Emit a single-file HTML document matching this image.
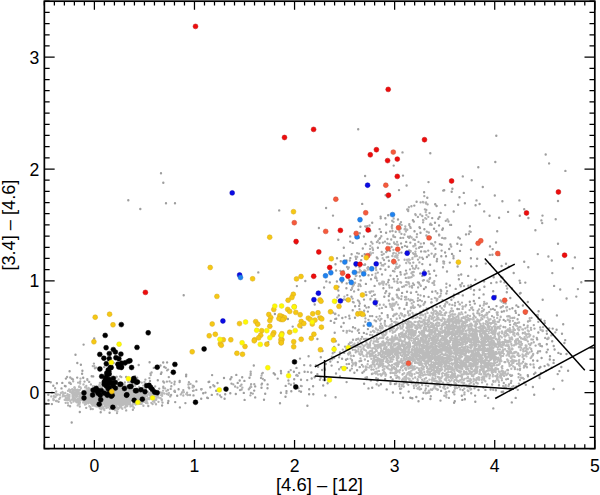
<!DOCTYPE html>
<html><head><meta charset="utf-8"><style>
html,body{margin:0;padding:0;background:#fff;width:600px;height:495px;overflow:hidden;font-family:"Liberation Sans",sans-serif}
svg{display:block}
</style></head><body>
<svg width="600" height="495" viewBox="0 0 600 495">
<rect width="600" height="495" fill="#fff"/>
<path d="M469.8 301.7h0M544.8 323.1h0M403.0 397.7h0M495.9 390.3h0M404.4 309.0h0M515.4 310.9h0M390.8 377.3h0M553.6 362.9h0M501.8 311.8h0M493.3 408.4h0M538.3 332.5h0M553.7 346.0h0M533.1 360.5h0M475.1 395.6h0M372.6 326.5h0M556.6 329.8h0M490.6 389.5h0M539.3 368.0h0M474.8 303.6h0M561.3 367.0h0M552.2 341.2h0M410.4 397.7h0M540.4 367.0h0M416.3 397.0h0M528.0 376.2h0M544.6 366.1h0M478.5 390.0h0M424.0 296.2h0M408.7 391.6h0M454.1 402.7h0M547.8 349.6h0M549.8 359.5h0M532.9 387.0h0M464.9 399.3h0M546.6 352.3h0M566.5 354.0h0M368.5 388.4h0M501.7 392.0h0M534.2 394.8h0M565.2 340.1h0M385.1 379.1h0M367.9 329.1h0M562.4 380.6h0M553.7 360.1h0M527.8 375.2h0M546.1 370.6h0M563.2 324.3h0M394.9 384.0h0M320.8 357.3h0M546.9 333.8h0M461.8 395.8h0M334.4 352.1h0M554.6 349.5h0M515.7 397.9h0M535.4 372.8h0M454.8 401.2h0M458.4 293.9h0M499.0 385.3h0M560.8 353.9h0M557.7 374.1h0M387.6 315.3h0M392.9 392.5h0M562.0 333.7h0M551.7 367.6h0M372.2 387.8h0M496.5 306.1h0M362.4 372.8h0M386.7 389.4h0M473.8 301.0h0M559.4 371.1h0M462.3 399.9h0M455.7 288.9h0M495.8 295.9h0M541.6 358.0h0M537.4 360.8h0M422.7 398.7h0M537.2 339.4h0M440.5 400.6h0M534.0 374.1h0M518.8 314.9h0M337.8 362.1h0M406.6 304.9h0M418.5 401.2h0M539.6 378.0h0M475.3 401.8h0M330.8 320.9h0M553.6 389.0h0M380.9 384.3h0M525.8 384.8h0M340.0 376.5h0M558.4 352.9h0M430.4 399.0h0M451.4 299.8h0M335.6 397.2h0M432.2 291.7h0M568.1 370.8h0M552.3 273.1h0M508.8 266.6h0M506.8 292.3h0M336.2 318.7h0M420.2 273.4h0M363.8 325.8h0M322.5 351.0h0M520.6 292.9h0M501.6 266.0h0M552.7 328.6h0M400.4 393.0h0M576.3 296.6h0M516.4 305.4h0M338.6 344.7h0M484.1 281.4h0M491.1 283.1h0M412.3 398.3h0M564.4 343.0h0M510.3 298.0h0M338.5 286.8h0M288.6 372.0h0M462.8 295.4h0M449.9 285.5h0M524.2 261.8h0M581.3 282.3h0M522.9 305.5h0M540.9 373.3h0M436.7 306.9h0M307.2 380.1h0M300.0 358.6h0M518.3 306.9h0M343.7 323.0h0M446.4 293.5h0M317.4 339.0h0M364.1 383.7h0M353.0 327.3h0M471.1 266.4h0M334.2 347.0h0M335.7 341.3h0M390.5 384.1h0M577.9 289.1h0M493.2 291.2h0M468.2 275.9h0M500.7 281.5h0M336.0 373.5h0M483.6 294.4h0M416.4 291.9h0M318.5 316.9h0M426.9 257.0h0M503.7 319.9h0M503.1 391.8h0M346.6 382.1h0M538.6 311.3h0M479.2 297.9h0M519.9 293.5h0M513.7 273.0h0M454.0 294.7h0M375.1 263.4h0M475.3 279.8h0M560.2 289.5h0M349.6 318.4h0M506.0 263.7h0M490.2 264.1h0M484.4 286.8h0M556.9 315.4h0M393.6 279.0h0M550.0 356.2h0M346.9 367.9h0M354.4 372.7h0M357.1 370.3h0M342.1 358.8h0M370.8 380.4h0M350.1 370.4h0M340.0 352.4h0M346.0 359.8h0M365.1 264.5h0M368.7 307.2h0M421.1 251.4h0M400.6 237.9h0M446.0 256.2h0M461.3 244.8h0M406.2 241.9h0M383.4 288.3h0M390.5 275.6h0M377.9 247.8h0M451.1 224.9h0M350.2 241.6h0M441.7 244.7h0M435.2 204.2h0M376.1 235.7h0M367.9 311.6h0M268.2 342.2h0M357.2 237.3h0M439.8 244.1h0M380.9 231.9h0M343.8 247.8h0M346.7 283.4h0M388.7 266.7h0M407.0 291.7h0M334.3 322.8h0M398.0 219.5h0M420.0 228.1h0M355.0 317.8h0M449.8 262.6h0M419.5 227.2h0M334.7 332.7h0M435.0 222.8h0M340.8 261.2h0M362.8 248.5h0M348.8 274.9h0M338.8 295.5h0M424.2 270.4h0M428.6 271.4h0M471.0 249.6h0M430.1 264.8h0M386.2 224.5h0M336.1 270.5h0M423.9 243.3h0M335.3 318.9h0M436.3 231.2h0M364.9 305.8h0M436.1 275.6h0M402.1 292.9h0M445.1 252.5h0M346.6 260.4h0M410.3 242.6h0M385.4 269.8h0M436.6 206.0h0M343.9 255.8h0M429.6 273.9h0M453.7 211.5h0M388.2 215.2h0M412.9 220.2h0M430.8 237.4h0M434.1 228.8h0M388.7 279.9h0M438.3 218.8h0M450.4 244.5h0M428.6 296.9h0M335.6 340.9h0M442.9 228.4h0M360.4 226.7h0M335.3 302.4h0M388.8 296.0h0M337.0 258.3h0M459.5 197.2h0M338.3 290.5h0M358.4 289.7h0M416.6 201.7h0M364.7 254.2h0M439.1 225.4h0M463.8 192.9h0M443.2 190.6h0M489.6 215.8h0M359.8 233.2h0M386.1 232.8h0M411.0 292.7h0M355.1 306.3h0M440.6 212.9h0M449.2 249.0h0M335.5 264.3h0M360.7 280.4h0M424.0 289.0h0M351.6 254.2h0M366.3 295.0h0M371.0 279.3h0M374.6 285.9h0M436.8 261.3h0M400.4 272.2h0M329.8 282.4h0M469.9 226.3h0M452.4 188.7h0M445.2 205.1h0M458.3 237.4h0M347.3 295.1h0M342.3 318.0h0M475.6 205.3h0M351.5 296.7h0M413.8 221.5h0M375.4 236.5h0M377.6 258.4h0M439.1 234.8h0M393.7 165.6h0M372.2 316.1h0M363.9 332.9h0M365.9 283.9h0M362.2 255.9h0M324.1 287.5h0M379.6 229.1h0M346.4 288.2h0M389.5 293.7h0M422.3 275.9h0M380.5 269.0h0M352.7 310.2h0M368.5 275.3h0M406.6 185.5h0M341.9 282.3h0M385.3 218.2h0M414.3 205.6h0M432.2 218.1h0M442.3 229.8h0M372.2 222.7h0M401.1 243.4h0M363.9 236.5h0M399.0 190.1h0M385.6 195.3h0M424.4 229.2h0M380.7 218.3h0M365.5 244.0h0M414.5 231.3h0M364.0 299.6h0M434.2 270.7h0M341.2 326.8h0M452.0 253.9h0M352.7 242.9h0M366.3 258.4h0M425.8 287.2h0M439.5 216.9h0M296.9 286.1h0M401.4 252.6h0M350.2 236.4h0M361.2 260.1h0M435.4 248.8h0M370.3 231.0h0M380.6 216.6h0M458.1 204.7h0M359.9 276.3h0M444.2 190.3h0M336.9 281.5h0M424.1 192.3h0M362.2 203.9h0M402.1 247.3h0M427.3 197.8h0M406.0 270.6h0M350.3 258.1h0M407.1 246.8h0M384.3 296.7h0M464.9 203.2h0M386.2 291.3h0M420.5 232.7h0M548.4 256.5h0M477.2 258.7h0M512.4 308.2h0M493.7 277.2h0M485.8 263.6h0M519.4 200.4h0M441.6 250.6h0M441.3 256.3h0M488.9 306.9h0M317.4 374.3h0M458.9 279.2h0M528.3 267.2h0M376.8 257.4h0M499.3 255.1h0M501.2 277.0h0M524.2 209.2h0M508.1 211.9h0M338.3 239.8h0M537.8 254.1h0M545.7 154.5h0M495.3 162.0h0M397.0 276.1h0M459.9 238.6h0M318.9 228.0h0M451.7 191.8h0M519.6 280.6h0M525.3 282.6h0M331.6 365.6h0M492.4 254.8h0M479.6 204.0h0M430.3 153.3h0M442.6 300.1h0M546.8 344.3h0M470.9 258.3h0M462.8 176.4h0M542.2 223.1h0M387.7 197.2h0M512.0 288.5h0M565.4 170.9h0M572.8 268.2h0M558.0 201.0h0M549.1 163.4h0M279.2 210.4h0M403.0 175.6h0M325.3 395.5h0M482.8 187.0h0M554.1 285.9h0M330.3 361.5h0M428.5 182.1h0M474.1 290.3h0M499.1 217.7h0M527.8 302.0h0M365.1 176.0h0M541.4 220.4h0M287.9 319.0h0M496.5 282.4h0M349.2 279.9h0M381.8 313.1h0M511.8 402.4h0M382.0 274.4h0M551.8 260.5h0M274.9 314.0h0M478.3 167.3h0M258.0 324.8h0M471.7 180.2h0M402.5 152.4h0M535.4 230.2h0M502.5 277.7h0M566.6 298.5h0M528.4 218.0h0M457.4 309.0h0M305.3 281.0h0M574.9 257.4h0M326.3 281.4h0M447.0 271.5h0M542.5 215.6h0M296.4 243.5h0M461.2 274.5h0M422.3 264.1h0M497.2 231.2h0M388.9 260.7h0M460.0 250.9h0M520.2 282.9h0M490.0 246.4h0M519.8 215.7h0M558.0 243.7h0M326.1 208.0h0M496.3 135.7h0M356.0 263.4h0M555.7 219.2h0M476.6 266.0h0M309.1 394.2h0M476.5 200.4h0M333.0 215.6h0M258.3 272.4h0M502.4 201.3h0M314.7 304.5h0M494.8 195.5h0M309.2 389.2h0M453.5 258.3h0M496.0 242.5h0M466.0 234.4h0M292.7 326.6h0M484.2 211.4h0M301.4 327.5h0M473.8 294.6h0M492.7 249.1h0M457.6 266.5h0M479.6 289.8h0M358.2 129.3h0M489.8 254.9h0M358.8 237.7h0M457.3 243.7h0M542.7 299.8h0M161.0 173.3h0M163.3 182.7h0M128.3 200.3h0M140.3 209.0h0M166.0 203.3h0M175.0 203.3h0M183.7 295.3h0M71.7 422.5h0M75.5 354.8h0M83.6 344.6h0M94.2 338.5h0M159.2 388.6h0M100.7 412.3h0M168.0 403.0h0M61.5 388.4h0M168.4 401.0h0M179.9 407.4h0M48.5 400.2h0M162.1 405.5h0M79.8 412.0h0M48.3 394.7h0M185.4 403.1h0M45.9 403.7h0M109.6 412.8h0M53.3 385.7h0M208.0 398.1h0M157.8 380.2h0M64.9 385.9h0M201.2 398.7h0M50.7 382.3h0M186.1 376.2h0M56.9 383.2h0M62.3 382.9h0M110.5 373.3h0M210.3 387.2h0M65.9 378.6h0M69.6 371.2h0M65.6 386.3h0M93.2 376.4h0M139.5 382.0h0M91.7 376.3h0M51.9 404.1h0M175.2 402.1h0M167.1 362.4h0M77.2 377.6h0M161.5 372.5h0M104.3 367.1h0M150.0 381.0h0M82.4 370.8h0M82.1 373.7h0M122.5 364.0h0M168.8 377.1h0M83.2 377.7h0M163.2 362.5h0M164.3 367.0h0M77.3 363.0h0M138.7 365.0h0M106.5 372.5h0M80.9 364.7h0M113.6 363.0h0M153.8 367.9h0M149.6 362.2h0M160.9 373.9h0M125.0 365.1h0M160.5 365.5h0M126.2 376.9h0M308.6 356.3h0M262.0 383.6h0M291.3 391.2h0M236.3 374.9h0M230.4 379.3h0M244.4 380.9h0M288.4 380.5h0M237.7 382.9h0M255.2 386.4h0M280.0 403.3h0M315.9 365.4h0M264.0 399.7h0M318.1 366.7h0M244.6 399.9h0M304.6 371.7h0M230.3 393.3h0M314.6 377.3h0M323.2 385.5h0M310.4 365.5h0M225.2 394.2h0M267.5 388.2h0M224.0 378.0h0M304.2 365.1h0M296.5 367.9h0M311.7 378.5h0M301.0 391.7h0M313.1 386.2h0M277.7 378.6h0M280.9 371.0h0M307.4 405.7h0M327.6 383.2h0M209.2 381.8h0M196.4 381.4h0M208.6 382.0h0M253.8 365.5h0M275.0 374.5h0M280.9 392.7h0M325.8 364.0h0M285.5 396.7h0M281.1 373.3h0M226.6 390.3h0M177.2 395.7h0M203.2 393.2h0M313.3 394.3h0M239.7 380.5h0M285.7 385.9h0M212.1 375.1h0M255.2 397.4h0M301.0 379.7h0M243.8 392.9h0M193.5 395.4h0M224.6 398.7h0M217.5 383.0h0M211.8 394.9h0M214.4 386.3h0M207.2 397.7h0M231.5 383.6h0M261.5 387.8h0M254.2 390.6h0M264.6 380.2h0M265.2 393.8h0M179.7 381.0h0M205.5 392.6h0M235.8 394.0h0M294.2 379.2h0M267.6 384.4h0M186.2 374.8h0M178.6 389.3h0M179.6 382.0h0M286.5 391.1h0M293.9 371.8h0M249.5 377.7h0M311.3 372.5h0M273.7 373.3h0M242.2 377.3h0M231.5 377.3h0M216.2 390.8h0" stroke="#9e9e9e" stroke-width="2.40" stroke-linecap="round" fill="none"/>
<path d="M553.0 334.4h0M430.8 396.2h0M454.4 394.3h0M483.6 387.6h0M536.8 337.9h0M423.5 392.7h0M505.4 321.1h0M368.0 361.1h0M455.1 302.8h0M549.2 328.3h0M533.7 367.3h0M384.9 321.0h0M503.5 327.0h0M513.5 386.1h0M504.6 387.4h0M487.1 384.3h0M431.2 302.5h0M483.2 387.2h0M510.1 324.8h0M540.3 345.7h0M432.4 307.9h0M528.0 321.5h0M540.2 327.4h0M464.4 394.4h0M437.4 293.2h0M538.1 351.3h0M431.7 302.3h0M374.6 320.3h0M449.5 304.4h0M501.5 307.1h0M539.5 375.9h0M465.5 312.4h0M387.8 317.2h0M484.9 395.9h0M511.0 375.9h0M485.5 395.7h0M542.0 346.2h0M548.6 365.2h0M523.9 325.0h0M346.4 349.1h0M555.3 332.3h0M376.1 321.2h0M537.5 353.0h0M493.0 308.9h0M376.6 384.2h0M505.6 303.4h0M503.8 382.9h0M334.2 358.0h0M425.1 302.0h0M441.1 390.9h0M530.4 364.3h0M420.0 300.1h0M399.4 308.2h0M400.1 388.7h0M517.8 389.8h0M424.3 303.4h0M359.1 332.9h0M512.1 375.4h0M525.8 312.4h0M506.2 379.3h0M544.6 320.8h0M390.8 319.1h0M524.3 382.4h0M538.3 321.8h0M493.2 389.7h0M454.9 305.5h0M534.0 367.4h0M367.0 377.2h0M392.6 379.5h0M440.7 289.8h0M510.2 388.4h0M530.5 364.6h0M509.0 384.3h0M545.2 337.9h0M533.8 325.1h0M492.2 384.5h0M511.3 380.9h0M485.4 389.9h0M432.0 306.9h0M547.7 364.3h0M518.9 383.6h0M542.6 331.1h0M339.5 355.0h0M352.0 331.6h0M462.8 390.1h0M428.2 386.1h0M440.1 306.2h0M474.5 388.2h0M488.2 397.9h0M507.4 369.9h0M507.9 378.9h0M364.9 315.4h0M531.7 351.2h0M408.3 384.8h0M468.3 285.7h0M361.9 364.8h0M339.1 369.2h0M490.8 309.3h0M344.2 352.9h0M349.2 315.7h0M504.5 282.4h0M517.6 319.2h0M504.0 311.2h0M346.7 364.1h0M453.0 392.3h0M534.5 328.6h0M527.2 311.1h0M436.8 300.6h0M444.3 238.4h0M359.5 361.2h0M531.5 317.8h0M401.2 299.1h0M525.5 313.9h0M448.9 397.9h0M390.4 382.6h0M551.3 335.4h0M535.6 345.6h0M546.7 330.8h0M507.2 288.5h0M459.0 309.1h0M540.1 351.2h0M447.3 302.5h0M446.4 283.7h0M539.8 343.8h0M428.4 308.7h0M471.2 393.2h0M343.3 330.8h0M324.6 377.1h0M359.6 367.1h0M453.6 297.2h0M392.0 287.6h0M480.0 305.7h0M364.1 310.7h0M500.5 300.4h0M540.9 319.5h0M417.8 300.7h0M494.8 309.9h0M500.7 307.5h0M548.3 338.6h0M358.7 329.6h0M506.4 285.8h0M359.9 367.1h0M464.0 286.1h0M365.3 321.7h0M536.5 315.1h0M376.2 378.1h0M420.4 305.9h0M446.3 287.3h0M471.2 286.5h0M470.9 284.9h0M355.2 328.2h0M348.8 344.2h0M345.0 346.6h0M366.7 333.9h0M353.7 355.9h0M352.0 360.2h0M340.9 367.3h0M347.4 358.9h0M353.5 355.8h0M366.6 379.0h0M365.5 377.6h0M361.2 360.7h0M339.1 357.3h0M351.8 368.6h0M349.0 363.9h0M363.9 371.4h0M346.6 348.6h0M378.8 385.6h0M371.9 374.0h0M377.5 381.1h0M425.6 251.6h0M431.6 224.8h0M424.4 251.4h0M393.5 299.6h0M435.5 254.1h0M458.6 275.2h0M390.0 250.8h0M424.3 196.1h0M393.0 214.9h0M428.2 250.6h0M429.5 213.1h0M351.5 280.6h0M341.4 367.2h0M394.4 271.4h0M380.0 238.1h0M430.0 224.6h0M379.4 238.9h0M409.3 225.1h0M359.8 303.5h0M370.4 299.4h0M416.3 265.7h0M420.6 202.3h0M445.8 220.8h0M353.0 339.7h0M432.1 244.0h0M419.0 247.7h0M396.7 294.7h0M419.4 262.4h0M434.4 255.5h0M401.4 233.8h0M417.9 282.4h0M371.3 291.3h0M415.3 214.2h0M420.5 295.3h0M384.0 260.0h0M387.5 239.0h0M372.6 269.7h0M342.6 272.6h0M387.3 250.6h0M347.0 267.0h0M352.9 301.8h0M357.8 330.5h0M388.1 282.2h0M351.0 289.9h0M362.0 336.8h0M431.6 253.6h0M393.0 270.9h0M439.2 235.4h0M359.1 301.4h0M418.0 294.6h0M420.3 246.8h0M392.1 225.2h0M333.2 312.6h0M335.9 300.4h0M428.8 232.5h0M410.1 236.3h0M348.0 268.7h0M445.4 238.2h0M426.8 231.6h0M352.6 298.6h0M375.9 267.7h0M374.1 294.9h0M399.9 223.9h0M395.7 231.7h0M335.0 314.1h0M453.5 256.0h0M426.4 235.5h0M368.5 319.8h0M372.5 243.6h0M410.2 226.8h0M390.1 231.4h0M446.3 301.8h0M387.3 243.4h0M349.8 260.5h0M370.5 298.8h0M415.7 215.0h0M418.1 287.4h0M401.0 222.1h0M386.6 257.3h0M358.9 253.6h0M355.9 276.1h0M447.5 219.3h0M447.1 291.1h0M427.6 204.3h0M356.1 258.9h0M413.0 283.3h0M388.8 300.5h0M418.9 282.7h0M359.4 267.2h0M368.1 267.2h0M374.9 294.6h0M431.0 243.6h0M376.4 278.2h0M346.0 299.7h0M413.4 239.4h0M392.2 220.7h0M422.2 257.6h0M406.6 273.4h0M423.1 222.3h0M399.5 307.8h0M375.1 277.8h0M435.6 291.2h0M424.9 209.3h0M443.0 267.2h0M450.0 224.8h0M365.4 318.3h0M404.9 245.9h0M404.5 234.5h0M392.5 231.0h0M410.0 269.3h0M423.0 280.6h0M338.7 315.3h0M442.2 237.9h0M413.3 262.6h0M435.2 242.2h0M364.2 264.9h0M359.5 309.2h0M410.9 292.8h0M377.8 272.6h0M417.9 216.9h0M360.7 286.1h0M369.5 225.5h0M401.1 282.6h0M385.2 293.1h0M348.8 267.4h0M469.6 231.4h0M355.8 271.7h0M385.0 241.6h0M393.5 221.8h0M376.5 316.8h0M394.4 281.4h0M376.9 242.1h0M417.0 234.2h0M365.2 226.3h0M414.8 239.9h0M430.1 277.9h0M381.7 251.9h0M408.0 236.7h0M420.3 214.4h0M398.5 288.7h0M393.3 235.5h0M342.9 299.9h0M418.2 304.8h0M380.7 262.9h0M340.4 270.8h0M337.3 297.4h0M374.3 301.9h0M379.5 243.0h0M416.7 237.1h0M423.9 280.1h0M357.3 312.1h0M399.3 226.4h0M355.8 266.3h0M376.6 305.8h0M335.4 313.7h0M386.1 306.9h0M422.3 216.0h0M409.1 250.4h0M366.4 227.1h0M410.6 227.9h0M402.2 286.8h0M386.2 252.0h0M338.9 300.5h0M367.2 226.2h0M388.2 256.9h0M391.5 247.0h0M422.0 246.8h0M354.1 291.4h0M448.5 221.5h0M410.6 251.0h0M408.2 209.8h0M361.3 315.3h0M420.8 285.7h0M391.2 239.5h0M393.3 316.0h0M406.6 251.4h0M392.5 298.3h0M444.1 261.7h0M381.3 236.2h0M409.3 224.1h0M377.5 301.1h0M443.3 261.5h0M411.4 206.2h0M357.1 253.1h0M434.1 256.8h0M344.0 299.4h0M361.0 264.0h0M343.4 270.9h0M377.1 280.6h0M391.8 226.7h0M419.8 306.6h0M395.1 237.1h0M407.2 209.4h0M389.5 243.9h0M398.9 290.0h0M400.8 274.5h0M418.5 241.9h0M418.0 259.6h0M345.6 317.1h0M360.0 284.6h0M357.9 300.3h0M403.2 237.8h0M355.6 256.8h0M382.9 242.6h0M409.1 237.8h0M437.1 258.9h0M392.4 299.2h0M353.7 302.4h0M468.9 234.0h0M377.9 378.8h0M392.6 309.7h0M359.1 305.9h0M397.0 290.1h0M428.7 255.2h0M429.5 279.0h0M408.2 211.0h0M389.6 287.5h0M518.6 373.8h0M451.2 246.5h0M385.6 306.6h0M510.9 382.9h0M418.3 268.3h0M366.4 307.6h0M393.7 215.1h0M430.6 223.7h0M440.4 295.8h0M403.9 286.4h0M405.8 277.9h0M501.6 301.5h0M426.3 210.0h0M375.3 299.1h0M370.0 316.1h0M515.9 312.9h0M404.7 274.5h0M422.9 280.6h0M372.1 274.8h0M406.8 303.0h0M428.4 308.9h0M460.3 284.9h0M462.1 283.2h0M412.1 287.6h0M423.0 258.9h0M547.3 339.1h0M414.0 284.7h0M441.2 290.9h0M365.7 292.1h0M470.7 231.8h0M217.4 394.2h0M393.4 236.6h0M371.3 241.9h0M460.8 286.2h0M492.0 316.1h0M379.4 308.6h0M396.2 383.5h0M174.3 391.3h0M132.9 409.7h0M170.3 396.4h0M174.7 390.6h0M148.3 406.0h0M117.0 413.1h0M70.1 406.2h0M126.2 410.4h0M86.2 407.8h0M90.8 409.0h0M68.2 405.4h0M58.6 401.7h0M162.5 402.6h0M163.3 386.7h0M55.1 388.2h0M134.1 379.5h0M116.8 376.8h0M163.3 387.7h0M137.2 377.7h0M69.2 382.7h0M145.4 379.6h0M104.7 379.4h0M67.1 377.0h0M52.0 392.6h0M89.2 381.9h0M175.0 391.9h0M121.3 377.1h0M192.8 385.6h0M107.5 376.3h0M163.2 381.5h0M116.3 377.0h0M168.1 369.6h0M150.7 375.0h0M87.3 379.1h0M94.9 368.2h0M70.8 383.9h0M87.4 380.1h0M164.1 382.5h0M84.5 381.6h0M96.3 367.6h0M108.6 365.9h0M120.2 376.4h0M108.2 364.0h0M93.9 363.6h0M169.6 381.3h0M111.9 381.3h0M103.8 377.9h0M70.2 382.8h0M71.8 378.7h0M90.9 384.4h0M150.5 373.5h0M135.1 376.1h0M106.7 380.8h0M155.2 386.3h0M70.2 377.5h0M109.4 364.3h0M165.8 367.8h0M149.4 378.1h0M73.0 379.5h0M151.6 372.4h0M167.1 370.3h0M250.4 395.3h0M290.7 370.1h0M307.8 371.9h0M296.8 374.9h0M300.9 385.9h0M262.0 373.6h0M326.1 376.9h0M166.9 381.6h0M196.3 389.9h0M252.8 393.6h0M297.7 375.7h0M251.1 384.2h0M290.9 384.7h0M235.1 386.5h0M248.8 389.2h0M233.3 384.3h0M294.0 383.5h0M332.7 353.2h0M261.5 384.6h0M201.7 389.1h0M301.7 386.1h0M322.1 370.0h0M325.0 369.8h0M250.6 375.0h0M324.7 368.4h0M299.2 373.0h0M193.9 386.4h0M220.0 395.4h0M250.7 373.6h0M250.9 392.9h0M241.6 389.5h0M221.3 397.1h0M250.7 371.7h0M188.9 382.2h0M201.3 389.6h0M299.3 391.1h0M174.7 381.7h0M286.4 393.0h0M320.5 377.8h0M296.8 385.8h0M241.5 384.6h0M189.2 388.2h0M240.0 390.1h0M254.3 384.2h0M262.8 372.8h0M213.3 385.2h0M188.6 387.3h0M296.2 375.3h0M249.8 388.0h0M201.1 389.2h0M174.4 384.2h0M261.0 377.9h0M171.1 395.0h0M288.8 383.6h0M183.3 390.1h0M237.5 387.6h0M170.7 388.9h0M262.8 378.8h0M171.3 386.2h0M325.2 379.7h0M193.0 390.8h0M193.7 390.6h0M319.9 379.8h0" stroke="#a8a8a8" stroke-width="2.35" stroke-linecap="round" fill="none"/>
<path d="M512.2 386.9h0M410.9 307.3h0M501.9 380.2h0M520.0 380.0h0M532.9 339.6h0M441.8 308.2h0M411.2 308.1h0M515.9 388.0h0M475.8 386.6h0M523.8 378.8h0M527.8 341.3h0M452.9 311.0h0M372.8 337.6h0M417.5 388.4h0M416.4 314.0h0M493.2 380.9h0M427.4 381.2h0M469.6 310.1h0M361.1 338.8h0M505.3 362.1h0M497.8 315.1h0M455.1 388.6h0M500.7 316.6h0M474.1 315.7h0M468.4 391.1h0M396.4 377.9h0M505.7 385.1h0M514.1 324.2h0M524.2 366.0h0M414.1 388.1h0M450.5 385.7h0M426.0 393.2h0M548.5 337.7h0M421.2 382.5h0M512.3 317.9h0M477.7 383.4h0M531.6 356.7h0M498.8 321.7h0M402.5 374.6h0M439.4 385.6h0M531.4 343.2h0M432.1 389.7h0M509.7 321.7h0M443.4 387.5h0M449.1 391.3h0M515.0 323.0h0M520.1 368.7h0M401.2 388.6h0M464.3 388.6h0M365.7 338.8h0M523.8 359.0h0M425.8 385.4h0M473.2 310.0h0M464.5 392.4h0M454.4 391.5h0M467.8 315.3h0M518.3 334.5h0M412.4 318.3h0M446.4 392.2h0M422.1 379.6h0M423.5 381.3h0M525.3 366.1h0M440.1 386.7h0M533.8 342.2h0M533.2 353.9h0M522.8 377.9h0M543.0 327.1h0M538.3 319.0h0M350.0 352.4h0M531.2 348.9h0M518.2 353.5h0M502.3 366.1h0M518.6 377.2h0M410.3 310.6h0M514.3 317.7h0M540.6 329.7h0M503.2 385.9h0M450.8 311.2h0M434.9 297.8h0M473.8 384.2h0M405.4 315.3h0M466.1 305.0h0M471.1 307.8h0M489.2 311.9h0M424.6 378.8h0M380.0 320.4h0M415.2 377.5h0M422.1 385.0h0M417.1 381.8h0M444.4 386.2h0M421.1 388.9h0M475.7 317.3h0M463.5 384.2h0M509.9 320.6h0M520.4 375.0h0M446.3 312.6h0M419.7 318.0h0M532.4 355.6h0M538.8 344.3h0M489.5 378.3h0M399.9 318.0h0M532.9 355.2h0M510.1 375.0h0M412.5 312.9h0M461.5 312.4h0M473.3 313.7h0M522.8 333.2h0M525.4 363.7h0M391.7 321.1h0M502.3 368.3h0M493.9 317.4h0M444.2 306.0h0M487.4 313.6h0M482.1 382.4h0M514.8 367.4h0M390.6 373.0h0M496.7 312.5h0M403.7 386.5h0M519.0 356.0h0M527.5 327.2h0M452.3 304.9h0M508.5 316.2h0M506.0 387.4h0M408.0 312.8h0M477.7 310.9h0M530.2 344.9h0M387.0 367.6h0M530.9 327.8h0M399.5 384.1h0M517.9 322.8h0M508.5 386.0h0M523.9 367.6h0M526.6 364.2h0M531.4 339.4h0M399.0 377.4h0M433.0 309.7h0M527.0 367.2h0M486.9 312.9h0M395.4 314.6h0M422.9 311.1h0M438.0 389.6h0M522.9 333.0h0M482.4 310.8h0M425.9 388.5h0M427.7 392.7h0M380.8 323.7h0M500.7 317.0h0M417.6 379.2h0M459.1 387.0h0M533.6 336.5h0M404.2 316.4h0M458.2 301.9h0M448.9 384.7h0M476.2 382.5h0M504.5 362.1h0M516.3 386.5h0M420.7 313.4h0M387.5 337.4h0M507.2 316.3h0M426.9 382.2h0M516.0 323.4h0M398.4 377.1h0M521.2 377.7h0M514.9 369.0h0M451.1 384.6h0M444.3 395.7h0M399.4 386.2h0M476.6 386.5h0M531.1 329.8h0M420.4 311.8h0M397.8 377.0h0M505.3 327.2h0M479.7 315.3h0M404.8 315.2h0M523.1 361.7h0M447.6 387.7h0M479.4 313.7h0M413.8 385.7h0M462.6 308.9h0M484.0 309.6h0M529.7 318.2h0M530.7 358.1h0M407.2 383.5h0M501.7 367.1h0M517.8 333.1h0M497.7 312.5h0M446.4 397.3h0M486.1 387.0h0M462.9 306.7h0M408.8 315.2h0M360.5 358.3h0M508.0 370.2h0M527.7 325.7h0M437.4 389.7h0M445.9 312.5h0M477.3 313.1h0M478.6 313.4h0M519.1 322.4h0M361.0 312.5h0M519.9 370.0h0M402.7 374.2h0M525.3 328.3h0M358.3 338.7h0M499.7 319.7h0M542.7 330.4h0M525.7 345.4h0M465.3 306.2h0M470.1 304.8h0M533.5 364.5h0M517.6 369.3h0M460.3 389.4h0M365.3 370.0h0M470.7 288.7h0M434.3 284.9h0M529.3 320.9h0M332.2 359.3h0M413.7 307.9h0M398.0 304.6h0M507.1 307.0h0M411.6 277.1h0M380.0 326.5h0M483.6 305.3h0M350.9 346.0h0M471.6 308.4h0M484.2 301.8h0M431.5 299.1h0M419.7 389.4h0M445.2 304.2h0M462.0 302.6h0M434.3 281.2h0M427.5 312.9h0M537.8 314.9h0M417.8 381.0h0M397.4 297.2h0M413.8 302.0h0M444.2 385.3h0M426.6 308.3h0M423.5 304.7h0M506.2 307.4h0M432.5 283.0h0M346.8 330.9h0M483.2 310.8h0M429.4 392.5h0M451.6 308.5h0M509.6 316.3h0M363.8 338.9h0M403.1 320.2h0M537.2 316.6h0M349.5 352.4h0M439.4 296.9h0M484.2 303.6h0M530.2 320.6h0M486.1 303.7h0M434.0 282.7h0M482.4 319.0h0M506.8 310.5h0M459.9 304.4h0M371.4 369.5h0M350.0 342.7h0M425.2 390.5h0M509.7 309.1h0M486.9 303.4h0M401.9 313.8h0M444.7 306.5h0M537.8 316.8h0M472.2 307.4h0M440.9 293.5h0M349.8 330.9h0M378.7 333.4h0M497.2 314.7h0M347.0 331.1h0M503.0 306.2h0M411.7 303.3h0M479.0 309.3h0M376.9 334.9h0M405.6 285.1h0M355.7 365.2h0M348.5 354.6h0M364.9 359.5h0M355.5 362.7h0M356.5 339.2h0M352.1 365.7h0M360.8 342.7h0M350.1 353.2h0M363.2 366.5h0M356.2 339.9h0M355.9 364.1h0M355.7 352.2h0M348.1 353.7h0M356.5 351.1h0M366.3 369.6h0M381.2 375.6h0M390.6 372.7h0M370.0 334.8h0M373.6 369.6h0M372.3 335.1h0M331.9 356.7h0M375.9 373.6h0M356.1 363.2h0M366.7 338.8h0M359.6 354.1h0M368.0 339.0h0M333.9 357.1h0M372.8 373.6h0M389.8 303.9h0M405.9 231.4h0M419.6 284.2h0M405.0 296.9h0M393.7 218.5h0M382.7 258.2h0M444.1 263.5h0M355.1 282.7h0M412.8 275.0h0M395.2 268.7h0M397.1 295.6h0M433.6 245.5h0M400.8 313.5h0M399.6 232.1h0M359.8 269.8h0M359.4 272.2h0M375.7 273.6h0M409.7 286.5h0M408.4 299.2h0M349.4 330.6h0M371.9 296.1h0M370.0 248.9h0M356.5 275.6h0M415.6 253.9h0M406.0 299.4h0M397.7 297.0h0M405.3 226.5h0M394.1 243.0h0M401.6 296.2h0M407.3 229.7h0M358.8 284.1h0M364.4 270.5h0M413.0 317.9h0M352.0 288.8h0M397.5 267.9h0M371.0 253.6h0M436.6 298.7h0M412.3 272.1h0M419.7 257.5h0M405.1 299.6h0M413.6 275.6h0M408.1 282.5h0M399.7 265.6h0M414.9 256.2h0M358.4 286.1h0M415.4 251.6h0M379.6 284.3h0M426.1 202.3h0M394.3 314.5h0M423.7 310.0h0M397.1 241.8h0M352.8 349.7h0M379.1 283.4h0M397.4 257.6h0M414.8 268.8h0M408.3 277.7h0M353.3 285.3h0M373.0 249.9h0M367.3 268.1h0M416.8 256.0h0M425.3 218.1h0M434.4 281.1h0M426.3 218.8h0M372.9 249.1h0M412.0 286.0h0M353.9 284.6h0M411.6 237.5h0M425.7 212.1h0M399.5 231.1h0M406.2 263.0h0M422.9 202.0h0M408.6 282.3h0M373.2 291.3h0M369.5 291.8h0M393.5 263.6h0M418.0 298.2h0M394.0 242.3h0M427.4 280.7h0M415.4 245.3h0M370.1 292.7h0M383.7 304.7h0M376.2 270.0h0M370.1 253.2h0M405.5 229.0h0M396.8 313.8h0M392.0 308.3h0M398.6 260.0h0M381.7 265.2h0M381.9 307.9h0M372.3 247.6h0M420.8 243.6h0M352.9 286.1h0M367.9 269.5h0M412.4 258.9h0M411.4 273.1h0M412.5 300.1h0M413.0 253.1h0M401.6 225.0h0M408.9 207.2h0M398.9 253.0h0M381.5 318.8h0M383.4 265.6h0M421.9 301.1h0M397.9 279.1h0M344.4 296.6h0M369.5 253.7h0M381.8 254.8h0M354.8 278.9h0M404.6 229.2h0M413.8 253.9h0M412.5 257.8h0M360.9 271.1h0M394.9 243.9h0M406.2 297.0h0M398.7 267.0h0M362.4 272.4h0M397.6 282.9h0M392.3 256.0h0M376.1 302.6h0M396.2 266.9h0M396.7 244.5h0M428.8 281.7h0M393.2 253.5h0M346.7 332.5h0M437.4 298.9h0M412.6 306.7h0M423.1 220.0h0M413.7 272.0h0M415.9 267.4h0M404.6 259.7h0M412.9 268.2h0M393.4 249.8h0M410.2 300.6h0M383.4 265.0h0M426.4 215.0h0M426.1 203.6h0M386.3 284.2h0M383.8 253.8h0M416.2 248.6h0M381.1 319.0h0M375.6 276.3h0M393.8 252.8h0M365.4 271.0h0M385.1 263.8h0M408.4 277.5h0M370.7 254.5h0M370.3 245.8h0M410.0 263.2h0M400.8 228.4h0M409.8 277.5h0M410.9 299.7h0M428.3 216.8h0M414.8 307.3h0M398.0 244.7h0M352.1 287.6h0M413.3 246.2h0M382.3 254.8h0M459.5 304.2h0M406.4 281.9h0M410.3 251.8h0M412.1 265.9h0M430.8 389.5h0M393.3 260.9h0M396.4 313.6h0M398.9 298.2h0M357.4 272.4h0M503.6 302.9h0M400.3 282.1h0M423.5 202.4h0M396.4 302.2h0M443.5 263.3h0M413.5 246.4h0M357.2 257.0h0M389.1 285.4h0M342.8 349.6h0M392.1 228.2h0M493.5 381.7h0M397.2 281.4h0M423.4 220.2h0M379.7 316.2h0M396.7 318.7h0M415.1 243.9h0M444.8 306.1h0M250.7 386.5h0M408.0 311.4h0M379.8 304.7h0M350.6 358.6h0M444.8 313.4h0M378.0 240.7h0M143.4 405.7h0M59.3 398.9h0M92.8 409.1h0M158.5 401.8h0M79.8 406.5h0M74.5 387.3h0M86.3 386.0h0M56.2 391.5h0M139.1 386.9h0M156.0 404.2h0M80.2 381.5h0M56.9 401.0h0M152.8 388.1h0M155.3 390.1h0M151.4 402.8h0M161.8 399.4h0M56.1 401.0h0M152.6 404.1h0M53.6 400.1h0M60.2 397.6h0M51.3 396.4h0M161.8 400.4h0M102.4 383.3h0M141.8 382.6h0M83.5 384.4h0M65.7 402.8h0M180.8 394.4h0M124.9 382.3h0M99.9 382.8h0M144.9 383.5h0M192.7 387.4h0M188.4 384.5h0M73.2 381.3h0M78.1 382.6h0M79.8 382.4h0M118.5 379.3h0M106.0 386.0h0M190.0 395.0h0M187.6 395.0h0M145.2 384.3h0M80.5 378.6h0M128.2 382.1h0M118.7 383.7h0M105.7 378.9h0M130.3 382.2h0M144.5 382.0h0M94.3 366.1h0M144.8 383.9h0M92.8 366.1h0M183.3 395.5h0M183.1 392.2h0M190.5 383.9h0M187.1 392.7h0M242.4 387.6h0M168.6 394.8h0M167.9 390.0h0M298.5 388.3h0M167.0 394.1h0M240.4 385.9h0M251.2 386.9h0M323.5 380.0h0M261.5 375.6h0M182.0 392.5h0M187.8 394.9h0M165.1 388.4h0M171.5 382.8h0" stroke="#b2b2b2" stroke-width="2.35" stroke-linecap="round" fill="none"/>
<path d="M446.1 322.4h0M454.1 314.5h0M420.7 338.1h0M435.1 353.7h0M458.6 381.7h0M408.6 336.6h0M449.2 363.4h0M490.5 368.3h0M498.8 364.7h0M410.3 325.3h0M475.4 369.1h0M420.9 332.6h0M476.9 321.4h0M421.2 339.4h0M475.8 342.0h0M515.9 342.4h0M390.1 355.1h0M459.5 368.0h0M403.8 365.1h0M409.3 374.8h0M469.3 387.6h0M446.3 337.4h0M461.5 382.4h0M471.2 335.0h0M421.9 346.0h0M440.4 380.3h0M478.2 338.4h0M487.5 336.2h0M409.5 352.7h0M396.2 323.8h0M475.0 350.5h0M461.0 331.4h0M446.6 343.6h0M451.4 353.5h0M442.7 373.0h0M445.2 330.0h0M513.9 345.4h0M474.0 343.8h0M447.0 342.9h0M483.1 377.9h0M468.1 366.3h0M402.7 351.8h0M458.1 350.5h0M435.3 373.0h0M422.1 351.2h0M488.8 352.3h0M460.4 320.4h0M433.5 340.5h0M480.6 323.9h0M443.9 388.2h0M438.4 334.1h0M471.6 352.7h0M417.3 326.4h0M520.5 327.2h0M445.8 338.0h0M453.2 319.2h0M470.2 341.7h0M476.1 366.1h0M523.0 329.5h0M405.7 349.3h0M422.9 375.6h0M484.8 343.7h0M410.1 326.5h0M452.7 331.6h0M414.3 351.6h0M495.8 339.0h0M424.8 342.3h0M433.2 388.6h0M495.5 380.9h0M464.4 341.2h0M406.0 382.5h0M490.8 357.6h0M440.8 320.3h0M458.7 344.1h0M436.7 352.8h0M454.7 347.1h0M444.8 349.8h0M442.4 337.0h0M462.3 323.5h0M419.9 351.0h0M441.6 338.4h0M499.9 361.7h0M480.6 357.3h0M401.5 334.8h0M452.3 319.2h0M463.8 364.8h0M434.8 360.0h0M481.8 338.6h0M424.0 360.7h0M445.9 395.9h0M455.5 331.3h0M482.4 350.4h0M472.7 352.6h0M490.1 326.3h0M403.2 352.4h0M471.4 330.0h0M374.7 341.3h0M519.9 363.7h0M462.0 376.5h0M476.6 360.3h0M446.6 372.9h0M450.8 328.3h0M465.2 350.7h0M450.1 329.3h0M433.9 369.6h0M490.1 337.2h0M527.4 353.2h0M497.7 333.7h0M444.4 319.0h0M424.8 320.5h0M439.5 370.3h0M429.8 359.4h0M449.2 317.6h0M415.0 349.3h0M435.0 351.5h0M508.8 354.5h0M460.3 362.0h0M491.3 323.2h0M443.7 359.2h0M433.6 336.7h0M440.4 357.1h0M428.9 317.6h0M402.2 379.9h0M469.6 383.7h0M433.2 327.6h0M490.9 323.7h0M452.1 375.5h0M489.0 336.6h0M459.1 335.3h0M440.1 368.8h0M438.7 333.3h0M398.0 366.2h0M489.1 348.6h0M471.4 368.5h0M513.3 334.4h0M477.7 363.8h0M427.7 355.7h0M501.6 370.7h0M459.1 341.9h0M433.9 378.8h0M440.4 349.5h0M491.1 323.2h0M518.8 363.3h0M433.9 374.6h0M455.8 368.0h0M497.2 375.3h0M473.3 338.4h0M470.2 358.4h0M502.9 371.1h0M457.7 362.2h0M438.5 325.8h0M433.6 347.5h0M396.1 372.9h0M495.2 324.2h0M437.8 377.0h0M420.4 353.1h0M432.9 348.7h0M470.7 365.2h0M397.6 323.3h0M464.7 355.4h0M463.4 317.7h0M487.9 335.9h0M427.7 355.3h0M408.4 349.7h0M414.6 339.6h0M488.4 366.7h0M469.7 319.0h0M526.2 346.7h0M487.9 327.1h0M490.2 343.3h0M430.3 334.3h0M482.9 351.2h0M403.1 344.8h0M448.5 331.2h0M483.9 340.5h0M485.4 336.8h0M414.8 331.3h0M435.5 374.6h0M456.1 323.3h0M480.7 325.5h0M458.7 323.6h0M470.0 329.1h0M389.9 331.2h0M402.9 325.5h0M423.6 329.8h0M474.2 374.1h0M466.1 361.8h0M485.0 356.5h0M478.7 349.5h0M455.2 314.4h0M458.3 321.0h0M467.7 390.5h0M467.8 341.4h0M465.5 367.4h0M422.5 345.6h0M449.6 331.9h0M394.3 363.8h0M400.5 354.9h0M416.9 347.3h0M447.7 341.3h0M455.1 321.7h0M415.6 383.9h0M463.9 363.5h0M382.3 328.4h0M445.5 323.5h0M421.5 356.8h0M381.0 360.6h0M491.4 359.0h0M435.7 320.0h0M403.8 330.3h0M396.3 355.5h0M421.4 370.4h0M464.8 327.9h0M383.3 370.2h0M429.3 360.4h0M486.8 314.7h0M496.4 339.0h0M461.1 367.6h0M418.9 370.0h0M482.8 358.4h0M516.6 340.7h0M442.6 324.0h0M526.4 339.7h0M421.4 339.3h0M495.3 358.6h0M429.3 355.1h0M434.9 363.2h0M382.7 327.5h0M509.9 352.8h0M513.4 362.7h0M428.6 330.8h0M410.6 331.7h0M453.9 353.5h0M476.5 378.3h0M383.9 353.6h0M446.0 378.6h0M455.2 320.7h0M499.7 363.8h0M403.6 360.3h0M396.0 349.7h0M478.2 354.7h0M419.9 351.1h0M421.9 347.9h0M434.5 338.1h0M456.6 343.3h0M454.4 373.6h0M446.0 343.1h0M508.6 345.1h0M491.2 354.1h0M422.6 352.8h0M490.3 351.5h0M490.3 359.0h0M428.0 369.3h0M474.8 364.9h0M465.6 365.4h0M466.3 371.8h0M512.3 339.2h0M502.1 333.2h0M502.7 373.5h0M424.0 336.5h0M458.6 365.1h0M501.9 378.3h0M433.0 318.5h0M439.4 342.3h0M449.7 353.7h0M490.7 359.0h0M413.3 346.9h0M472.3 329.0h0M425.8 337.0h0M470.2 380.0h0M471.2 350.7h0M457.5 369.8h0M484.7 334.6h0M486.9 363.2h0M473.4 375.4h0M357.2 345.0h0M429.3 353.8h0M461.7 365.8h0M457.0 352.4h0M451.2 369.2h0M408.7 368.6h0M471.1 345.0h0M469.3 359.2h0M492.7 352.4h0M442.6 349.4h0M462.1 344.5h0M469.6 338.5h0M471.9 372.3h0M460.0 356.0h0M440.5 366.2h0M477.3 360.0h0M476.7 334.4h0M431.3 338.4h0M494.7 354.2h0M492.4 331.6h0M402.3 355.4h0M457.0 346.9h0M474.1 321.6h0M491.2 332.7h0M507.9 361.6h0M423.9 366.9h0M428.6 360.0h0M458.2 345.6h0M440.1 362.0h0M456.3 368.4h0M423.9 327.8h0M439.2 373.7h0M428.8 317.9h0M498.2 357.6h0M475.4 330.1h0M458.5 317.1h0M491.8 347.7h0M505.3 341.8h0M477.9 339.7h0M465.7 360.3h0M457.8 339.7h0M433.1 365.5h0M459.2 352.7h0M508.1 353.6h0M392.3 372.9h0M481.1 363.0h0M390.4 327.2h0M515.1 341.0h0M480.7 365.4h0M422.9 340.8h0M465.1 385.0h0M422.2 335.8h0M526.9 352.1h0M514.3 333.0h0M450.0 360.7h0M511.3 344.0h0M479.4 377.7h0M486.3 351.0h0M466.6 374.2h0M433.7 320.8h0M449.5 357.6h0M471.8 335.7h0M462.5 328.5h0M402.5 343.4h0M421.5 371.9h0M424.8 334.9h0M517.7 328.3h0M448.7 321.2h0M414.4 332.2h0M490.4 359.9h0M507.4 334.2h0M489.5 344.5h0M447.4 331.4h0M490.8 336.2h0M433.8 374.4h0M405.5 347.9h0M477.8 362.8h0M457.5 342.4h0M397.5 360.6h0M429.1 335.1h0M410.0 371.9h0M421.3 334.1h0M437.2 381.5h0M423.7 334.9h0M427.7 320.5h0M474.7 337.4h0M479.1 357.0h0M448.9 376.8h0M503.5 375.1h0M439.3 377.3h0M404.2 373.2h0M418.5 376.7h0M414.5 332.9h0M461.4 327.0h0M468.2 368.9h0M422.0 344.8h0M459.4 313.4h0M434.2 367.4h0M420.4 361.9h0M452.5 344.6h0M468.9 340.4h0M411.9 354.4h0M448.8 316.1h0M405.3 379.4h0M443.6 338.0h0M465.3 344.3h0M465.5 334.0h0M439.4 319.4h0M449.2 360.0h0M425.9 354.4h0M409.9 368.1h0M474.7 359.2h0M471.5 359.0h0M460.4 353.0h0M458.5 358.9h0M411.3 337.1h0M456.9 363.9h0M374.6 366.5h0M411.4 322.9h0M505.9 331.6h0M492.5 331.4h0M470.3 379.0h0M420.1 370.6h0M428.3 350.4h0M459.6 339.5h0M454.2 328.4h0M477.9 379.3h0M509.4 330.5h0M460.0 344.9h0M386.3 338.6h0M462.5 306.3h0M396.9 372.0h0M406.2 331.8h0M436.7 312.8h0M378.9 347.0h0M406.6 348.1h0M477.2 341.5h0M462.9 361.3h0M413.2 355.6h0M422.6 345.3h0M474.9 321.5h0M491.7 358.2h0M449.4 358.3h0M435.8 361.1h0M379.3 364.2h0M380.1 346.0h0M469.2 360.3h0M420.9 372.8h0M508.4 341.9h0M421.8 314.5h0M422.9 335.2h0M462.7 366.6h0M441.8 320.8h0M398.5 343.9h0M484.9 355.5h0M438.7 381.8h0M522.6 338.8h0M431.9 350.2h0M401.9 360.3h0M407.8 366.5h0M490.4 358.8h0M481.7 330.5h0M510.7 339.1h0M415.0 362.9h0M483.4 369.3h0M473.5 361.2h0M459.6 356.8h0M526.0 339.9h0M399.0 335.5h0M425.7 354.9h0M482.9 327.3h0M478.9 354.3h0M488.4 319.2h0M389.8 343.4h0M442.9 344.4h0M432.4 349.2h0M437.7 349.5h0M456.0 359.2h0M497.5 344.2h0M449.7 332.1h0M408.2 324.5h0M408.0 326.4h0M457.7 370.9h0M505.4 371.7h0M503.1 355.8h0M406.2 343.7h0M437.4 330.4h0M496.3 328.7h0M449.2 353.0h0M468.7 352.5h0M483.0 361.0h0M473.3 363.5h0M463.8 342.3h0M446.8 359.2h0M455.0 377.0h0M461.9 365.6h0M401.3 336.6h0M437.3 346.4h0M478.9 331.1h0M519.8 355.6h0M456.0 341.5h0M384.4 368.8h0M391.7 369.7h0M484.2 377.0h0M460.5 375.7h0M449.4 340.5h0M466.4 338.0h0M405.9 365.0h0M437.4 360.3h0M408.0 343.1h0M441.8 353.6h0M382.7 364.0h0M439.0 357.5h0M391.3 339.7h0M485.0 372.9h0M524.9 338.6h0M462.9 344.5h0M424.0 357.6h0M421.9 321.6h0M446.2 364.7h0M396.4 362.9h0M447.1 341.2h0M360.6 351.2h0M434.0 342.3h0M456.6 365.8h0M481.4 318.0h0M483.6 337.9h0M428.0 363.3h0M439.0 343.1h0M423.0 339.4h0M482.6 316.1h0M502.7 352.8h0M430.1 351.3h0M471.1 386.0h0M380.1 366.0h0M468.4 336.5h0M433.9 357.5h0M485.8 364.1h0M418.9 368.4h0M441.5 332.4h0M419.0 331.9h0M413.2 349.5h0M448.5 321.0h0M399.8 337.0h0M430.8 331.0h0M432.9 379.8h0M382.1 360.7h0M521.2 338.2h0M394.7 367.9h0M428.9 390.7h0M515.6 344.0h0M449.9 332.3h0M460.2 357.7h0M491.0 366.1h0M418.9 355.3h0M444.8 319.8h0M444.5 324.3h0M465.8 355.5h0M478.7 377.1h0M471.5 327.0h0M382.8 369.9h0M462.5 321.7h0M459.9 333.6h0M452.6 367.5h0M423.6 355.1h0M473.3 334.7h0M488.4 325.5h0M388.0 354.4h0M432.6 346.1h0M441.7 345.6h0M422.1 345.1h0M494.0 326.3h0M437.4 319.5h0M491.8 372.4h0M417.0 329.0h0M458.4 323.2h0M458.1 315.4h0M467.3 368.7h0M477.9 352.0h0M488.2 350.8h0M470.0 315.9h0M448.3 325.4h0M473.3 317.6h0M462.4 339.8h0M383.1 356.8h0M414.7 344.4h0M454.9 352.8h0M472.9 350.9h0M456.7 377.2h0M488.3 328.9h0M406.7 337.1h0M492.9 338.0h0M500.4 345.8h0M500.8 344.7h0M472.9 365.3h0M444.6 338.4h0M438.4 352.6h0M464.9 336.2h0M473.9 343.7h0M449.2 355.4h0M466.8 339.4h0M495.4 381.5h0M518.7 330.2h0M449.9 359.4h0M411.7 383.2h0M464.0 338.8h0M457.0 361.0h0M472.2 333.2h0M437.9 356.7h0M491.5 352.6h0M429.0 357.7h0M507.2 359.4h0M422.1 331.7h0M445.3 342.2h0M458.0 375.5h0M380.9 351.1h0M475.8 366.0h0M484.3 349.8h0M428.2 354.2h0M444.0 340.6h0M478.1 351.0h0M411.3 354.8h0M466.1 346.4h0M447.3 354.7h0M407.5 329.1h0M496.1 346.5h0M499.1 339.0h0M474.6 347.8h0M499.3 336.4h0M424.7 347.9h0M424.3 341.2h0M376.3 368.6h0M481.1 366.4h0M516.0 361.0h0M431.1 364.1h0M418.3 356.4h0M445.1 324.3h0M457.5 351.0h0M468.6 374.0h0M435.9 328.4h0M471.3 323.7h0M465.5 373.0h0M459.1 344.9h0M380.4 344.0h0M439.2 358.2h0M419.4 358.6h0M491.6 348.6h0M470.1 342.0h0M438.7 364.4h0M482.4 337.2h0M452.5 321.1h0M506.8 342.6h0M400.6 328.5h0M485.6 354.9h0M452.1 324.3h0M420.0 371.5h0M456.6 337.6h0M492.1 372.7h0M432.6 331.1h0M469.3 364.6h0M430.9 334.3h0M475.3 353.5h0M415.9 338.0h0M404.0 357.3h0M452.8 324.4h0M441.1 381.1h0M427.2 346.3h0M408.4 334.3h0M459.1 336.2h0M463.7 316.9h0M437.8 360.0h0M427.8 351.6h0M452.0 334.4h0M454.2 317.7h0M421.2 318.3h0M409.3 379.6h0M497.2 317.9h0M474.8 362.4h0M504.1 375.9h0M463.5 354.4h0M390.3 325.1h0M514.4 344.9h0M495.5 357.7h0M415.0 368.9h0M501.7 351.6h0M485.6 323.8h0M376.4 329.2h0M428.2 342.7h0M398.5 340.3h0M451.2 338.4h0M436.2 351.4h0M415.5 355.6h0M493.5 332.4h0M439.7 350.0h0M425.3 338.5h0M481.1 374.3h0M514.7 335.8h0M390.5 359.4h0M402.9 378.7h0M489.1 345.6h0M437.9 369.9h0M396.8 353.6h0M463.4 337.8h0M457.0 358.1h0M429.4 336.0h0M412.9 367.2h0M431.8 382.8h0M390.2 328.0h0M450.5 337.5h0M494.2 354.7h0M493.0 363.3h0M448.5 327.7h0M474.5 336.6h0M449.5 323.5h0M450.1 319.9h0M469.4 351.6h0M408.0 360.4h0M386.7 350.5h0M449.8 321.4h0M451.0 339.7h0M416.7 345.5h0M500.4 345.3h0M490.5 319.2h0M412.9 334.7h0M499.2 326.8h0M425.8 374.6h0M451.2 326.2h0M429.9 348.0h0M488.4 364.8h0M435.5 328.7h0M441.7 328.7h0M477.1 348.9h0M486.6 358.4h0M427.7 368.8h0M488.6 362.6h0M482.3 340.8h0M401.8 384.7h0M462.4 351.9h0M479.7 342.0h0M364.0 349.5h0M442.1 373.8h0M491.6 350.8h0M408.3 359.0h0M499.6 353.3h0M461.9 346.9h0M423.4 358.8h0M508.5 335.3h0M406.0 376.2h0M441.9 344.4h0M390.1 361.8h0M395.6 363.5h0M429.4 329.5h0M407.8 330.5h0M430.6 347.2h0M389.1 326.5h0M494.6 320.1h0M455.3 375.5h0M423.5 320.0h0M383.1 373.5h0M436.0 340.3h0M499.5 332.4h0M398.4 349.3h0M487.0 367.0h0M459.5 329.7h0M474.7 369.6h0M398.2 349.5h0M417.7 360.1h0M462.7 349.4h0M464.0 351.4h0M491.5 337.8h0M409.7 375.3h0M392.7 332.7h0M494.3 369.5h0M436.7 318.3h0M419.0 363.9h0M454.0 350.3h0M497.2 339.8h0M429.3 333.1h0M446.4 361.3h0M425.2 355.8h0M474.6 326.1h0M448.1 347.5h0M416.7 343.6h0M511.9 360.4h0M483.7 366.1h0M484.2 378.3h0M413.6 336.3h0M463.5 350.1h0M457.4 376.9h0M441.9 336.3h0M379.6 344.5h0M508.0 342.1h0M497.7 327.4h0M415.2 334.8h0M439.4 364.4h0M389.9 353.5h0M448.2 352.3h0M392.8 368.2h0M483.8 316.1h0M438.3 325.6h0M476.7 344.8h0M526.5 345.9h0M475.0 345.0h0M484.9 340.6h0M411.6 376.2h0M465.6 319.4h0M386.5 357.1h0M427.2 337.3h0M475.0 345.3h0M450.9 371.9h0M517.5 355.1h0M471.3 344.6h0M455.1 365.9h0M426.5 323.7h0M372.3 348.5h0M472.2 345.6h0M483.2 376.5h0M520.8 341.7h0M491.6 369.2h0M461.7 364.8h0M491.8 365.7h0M481.3 339.4h0M417.1 343.7h0M509.1 349.0h0M475.7 337.2h0M397.1 337.6h0M426.0 343.1h0M457.2 337.4h0M513.3 332.7h0M487.6 368.1h0M455.3 337.9h0M441.9 364.7h0M487.8 350.5h0M431.8 340.4h0M497.6 374.2h0M476.1 349.5h0M433.4 362.5h0M483.8 328.2h0M431.7 334.5h0M383.2 336.1h0M411.8 338.1h0M456.4 316.8h0M419.6 359.4h0M394.2 322.1h0M473.1 366.4h0M414.6 366.3h0M406.0 379.4h0M457.0 334.1h0M470.9 355.1h0M472.7 319.4h0M467.4 338.1h0M436.7 345.9h0M410.0 343.2h0M432.3 365.1h0M469.3 384.9h0M454.0 341.5h0M439.4 360.4h0M495.2 371.5h0M462.6 333.4h0M436.8 341.4h0M425.4 361.5h0M402.8 370.3h0M515.9 351.9h0M436.2 330.0h0M484.1 350.7h0M477.2 330.7h0M475.2 348.6h0M381.8 365.0h0M411.0 357.5h0M485.1 341.2h0M442.4 335.9h0M396.5 337.8h0M484.2 361.9h0M448.0 377.5h0M432.1 359.0h0M411.3 330.1h0M468.6 350.2h0M411.9 332.5h0M457.2 326.8h0M421.0 361.3h0M487.4 317.4h0M453.8 338.5h0M452.5 364.9h0M425.7 340.9h0M404.5 350.8h0M422.6 350.8h0M456.5 342.2h0M447.5 375.2h0M486.8 335.0h0M431.5 359.1h0M447.5 342.9h0M471.2 389.1h0M418.1 321.9h0M396.2 343.7h0M409.5 363.6h0M472.9 371.4h0M482.0 368.2h0M425.1 346.3h0M374.3 362.4h0M468.9 350.6h0M471.3 371.9h0M470.0 359.4h0M473.7 360.3h0M430.5 322.7h0M407.5 373.1h0M428.4 346.9h0M458.3 353.1h0M526.3 347.2h0M460.6 333.3h0M424.6 374.4h0M440.8 314.7h0M500.6 325.7h0M426.9 357.5h0M485.0 345.0h0M456.1 338.3h0M480.7 333.7h0M405.1 351.4h0M396.8 375.6h0M411.3 380.8h0M496.2 324.3h0M507.1 342.6h0M482.3 343.2h0M451.2 369.6h0M432.9 341.7h0M470.4 335.5h0M439.4 357.4h0M448.2 319.2h0M498.0 353.4h0M440.1 331.4h0M421.3 363.7h0M485.5 375.3h0M422.5 340.1h0M409.9 365.2h0M519.2 330.0h0M441.7 342.7h0M491.9 367.9h0M487.2 364.8h0M434.9 355.8h0M473.7 353.7h0M507.9 351.4h0M429.7 359.5h0M453.9 333.3h0M426.6 352.9h0M435.3 332.4h0M419.5 375.0h0M463.1 330.9h0M438.6 382.8h0M480.8 330.0h0M386.0 351.2h0M416.7 314.2h0M491.0 363.2h0M416.7 352.9h0M420.0 345.4h0M475.5 332.0h0M474.6 334.2h0M496.2 346.5h0M427.4 323.9h0M465.1 348.5h0M409.6 339.4h0M450.5 315.0h0M433.5 379.2h0M485.8 338.2h0M473.7 340.2h0M453.4 369.6h0M477.6 367.8h0M460.5 354.6h0M458.6 318.4h0M457.1 331.0h0M517.3 339.6h0M467.5 381.1h0M456.0 356.9h0M377.8 342.0h0M475.2 373.4h0M438.7 325.2h0M454.7 387.1h0M509.6 331.6h0M487.7 370.4h0M475.5 372.0h0M450.6 325.6h0M487.4 357.6h0M429.1 347.7h0M463.7 380.0h0M379.2 353.3h0M484.5 331.2h0M436.7 360.1h0M495.6 331.7h0M485.7 356.8h0M477.8 366.4h0M467.4 357.5h0M431.8 333.3h0M411.9 352.2h0M506.6 355.4h0M454.0 341.2h0M435.7 370.9h0M496.2 344.6h0M468.9 366.2h0M396.0 371.6h0M509.0 346.8h0M446.0 343.9h0M465.2 340.6h0M403.1 326.5h0M445.4 347.8h0M439.2 332.2h0M405.0 368.4h0M399.2 362.2h0M430.8 374.0h0M404.3 346.4h0M511.8 356.3h0M412.7 357.6h0M483.2 351.1h0M493.6 364.8h0M480.1 358.8h0M404.8 347.1h0M497.2 328.4h0M461.6 351.0h0M479.4 373.9h0M396.0 349.9h0M426.2 337.4h0M449.7 341.1h0M524.6 337.8h0M478.2 353.1h0M487.9 353.6h0M501.5 353.1h0M502.6 350.3h0M395.6 335.3h0M482.5 352.8h0M425.5 326.9h0M492.2 347.5h0M411.5 363.5h0M420.1 364.8h0M426.3 335.7h0M473.3 357.1h0M483.9 349.2h0M448.7 325.5h0M454.6 335.4h0M419.4 346.4h0M402.8 336.8h0M395.7 322.0h0M473.9 370.6h0M422.0 322.1h0M439.6 345.2h0M408.6 354.8h0M470.8 356.3h0M488.6 367.8h0M421.0 373.6h0M387.9 350.1h0M422.7 341.7h0M456.2 334.4h0M451.2 339.5h0M453.8 340.8h0M434.3 380.7h0M432.9 367.1h0M399.6 352.8h0M439.3 340.8h0M452.7 322.4h0M400.4 327.0h0M481.7 366.1h0M489.6 376.5h0M455.1 357.6h0M485.2 348.1h0M497.0 379.4h0M448.7 327.6h0M485.4 371.9h0M416.5 372.4h0M511.3 368.7h0M462.1 339.2h0M420.7 375.3h0M381.7 337.8h0M375.8 356.7h0M389.1 355.4h0M444.8 370.7h0M436.0 313.7h0M477.3 336.9h0M443.1 340.4h0M462.3 341.7h0M458.3 348.3h0M433.3 326.0h0M440.3 355.1h0M513.3 330.7h0M432.0 347.6h0M472.0 335.8h0M496.5 357.8h0M473.3 376.3h0M448.9 359.1h0M517.9 343.4h0M383.2 363.6h0M502.2 374.5h0M451.6 359.2h0M432.8 314.9h0M486.4 334.1h0M418.7 363.5h0M432.9 343.2h0M416.3 356.1h0M484.4 350.6h0M392.7 347.3h0M410.5 373.1h0M505.5 331.2h0M496.2 354.0h0M394.7 373.3h0M434.0 311.1h0M485.6 335.3h0M460.1 372.6h0M475.5 366.6h0M487.3 364.7h0M433.9 358.2h0M427.7 357.5h0M463.2 336.9h0M460.0 348.0h0M526.5 356.3h0M416.8 357.0h0M447.2 366.3h0M447.5 347.3h0M445.1 364.0h0M431.2 357.5h0M484.8 360.7h0M439.7 371.5h0M457.2 328.1h0M485.5 335.4h0M408.0 336.7h0M501.4 356.0h0M394.4 331.8h0M431.8 379.5h0M382.7 367.0h0M514.3 352.2h0M514.6 335.6h0M465.9 367.5h0M414.6 333.7h0M436.0 357.3h0M453.9 350.4h0M450.9 354.3h0M509.7 365.2h0M489.4 360.5h0M452.4 328.9h0M519.0 342.2h0M448.9 380.1h0M495.4 327.0h0M391.6 338.4h0M427.0 367.9h0M424.7 319.7h0M492.1 342.4h0M446.9 369.2h0M472.6 354.3h0M411.9 366.6h0M375.3 371.9h0M410.8 325.9h0M449.9 356.5h0M448.9 356.8h0M433.4 369.5h0M418.0 336.2h0M418.0 388.3h0M435.1 367.6h0M411.5 334.2h0M482.6 338.5h0M495.6 367.8h0M392.4 348.9h0M457.0 380.8h0M487.0 374.3h0M429.4 348.6h0M474.7 355.2h0M429.2 352.6h0M511.5 357.3h0M410.4 357.7h0M390.0 343.5h0M392.4 330.5h0M470.0 335.4h0M414.8 341.3h0M485.2 356.9h0M452.2 359.7h0M467.5 366.8h0M432.5 356.3h0M447.2 374.7h0M433.8 374.5h0M410.2 357.4h0M431.8 332.7h0M478.3 355.4h0M427.9 320.8h0M476.9 335.9h0M463.9 349.9h0M407.9 323.5h0M436.6 358.8h0M455.7 355.4h0M494.0 354.1h0M405.8 348.6h0M434.3 381.1h0M398.4 370.8h0M513.5 332.6h0M448.9 322.4h0M444.8 373.8h0M446.7 358.5h0M505.1 349.2h0M492.5 353.8h0M476.7 338.1h0M433.0 346.6h0M425.2 358.6h0M495.5 359.8h0M479.8 332.4h0M494.1 345.1h0M451.5 380.2h0M447.4 320.7h0M467.2 356.7h0M443.9 363.4h0M419.0 355.7h0M446.9 357.8h0M393.2 356.0h0M462.5 382.4h0M383.5 372.8h0M465.2 358.3h0M455.6 342.9h0M466.4 350.8h0M421.3 351.6h0M403.2 324.2h0M386.4 353.0h0M506.0 332.9h0M486.7 313.6h0M460.1 362.9h0M442.6 361.8h0M442.5 357.9h0M474.2 343.6h0M454.6 347.1h0M520.0 326.9h0M489.0 355.3h0M434.3 327.2h0M519.0 347.2h0M462.0 332.1h0M446.8 339.6h0M518.9 347.0h0M484.1 353.2h0M526.7 349.5h0M484.3 367.6h0M436.1 380.8h0M435.7 329.4h0M417.8 355.8h0M488.9 327.8h0M419.4 347.8h0M475.4 351.6h0M457.0 364.2h0M470.5 339.2h0M408.5 338.4h0M477.1 342.1h0M478.4 320.5h0M424.2 321.2h0M431.2 359.4h0M459.4 375.6h0M482.7 358.1h0M444.2 358.6h0M397.3 365.1h0M408.6 345.8h0M470.7 365.8h0M410.4 360.3h0M468.3 369.5h0M397.3 325.4h0M483.7 350.3h0M405.7 367.8h0M489.9 347.1h0M448.7 357.0h0M455.0 353.0h0M487.8 336.9h0M389.2 349.9h0M461.3 354.5h0M472.4 363.9h0M434.6 331.1h0M411.9 374.9h0M396.1 363.7h0M517.9 339.0h0M463.9 339.2h0M409.4 349.0h0M439.4 323.1h0M440.8 381.4h0M454.5 330.5h0M485.7 374.5h0M396.2 324.7h0M476.3 362.5h0M495.8 345.8h0M425.8 356.1h0M477.3 341.8h0M433.1 343.9h0M456.6 360.3h0M495.2 362.9h0M446.9 325.2h0M436.7 339.1h0M397.5 353.8h0M423.7 330.6h0M442.0 362.2h0M437.1 334.1h0M439.6 356.2h0M432.2 346.8h0M434.5 386.7h0M512.3 349.3h0M503.2 372.4h0M435.0 332.8h0M426.0 341.5h0M410.4 337.3h0M422.4 344.6h0M474.9 364.2h0M496.3 368.4h0M409.7 352.7h0M470.3 326.0h0M429.0 327.1h0M440.0 311.2h0M416.3 338.7h0M475.9 346.3h0M464.1 351.1h0M410.9 364.7h0M475.0 340.3h0M422.5 360.1h0M427.2 320.3h0M476.0 325.2h0M436.6 388.8h0M418.7 340.3h0M483.0 371.5h0M481.5 334.2h0M475.3 324.2h0M445.5 353.3h0M446.9 368.3h0M452.9 342.2h0M428.6 355.7h0M431.5 340.1h0M447.6 327.8h0M474.0 343.7h0M459.8 355.8h0M473.2 358.9h0M517.1 363.8h0M412.0 352.3h0M429.1 320.7h0M393.2 328.0h0M486.0 357.6h0M452.4 333.5h0M391.6 344.8h0M528.8 331.2h0M487.0 366.4h0M484.2 361.9h0M439.4 340.5h0M521.6 345.0h0M409.0 373.1h0M461.5 356.7h0M426.6 366.7h0M492.9 347.9h0M419.0 324.8h0M437.4 383.0h0M508.4 360.6h0M461.0 337.6h0M431.1 355.5h0M509.6 366.1h0M399.1 334.1h0M493.7 342.7h0M474.1 359.4h0M484.1 342.2h0M441.2 378.1h0M367.6 346.1h0M448.4 322.0h0M426.8 336.8h0M497.0 368.6h0M452.4 369.7h0M399.5 372.2h0M448.7 343.7h0M444.5 366.1h0M404.5 377.1h0M413.2 315.2h0M432.1 354.6h0M408.0 360.9h0M493.1 321.0h0M492.8 376.4h0M391.4 370.4h0M435.2 354.9h0M493.1 347.8h0M445.0 358.0h0M396.2 337.7h0M447.6 319.4h0M485.4 345.0h0M456.4 359.4h0M423.1 355.2h0M509.5 348.0h0M470.4 386.5h0M456.0 352.0h0M502.5 342.0h0M499.9 349.4h0M442.7 361.5h0M434.5 350.5h0M487.3 325.1h0M385.1 345.2h0M495.6 338.5h0M508.0 352.7h0M504.6 332.4h0M436.6 342.9h0M454.1 327.7h0M420.0 333.1h0M485.3 332.3h0M452.0 336.4h0M425.1 322.7h0M417.2 351.6h0M483.3 325.2h0M483.7 372.6h0M409.3 327.2h0M519.7 344.6h0M481.9 338.3h0M523.6 356.0h0M483.8 327.0h0M461.1 338.3h0M413.3 355.7h0M454.8 342.1h0M470.6 339.4h0M476.0 330.0h0M473.1 352.1h0M419.4 364.7h0M395.4 343.6h0M431.3 369.1h0M451.8 363.1h0M465.9 353.6h0M481.7 358.2h0M437.6 315.3h0M476.8 372.7h0M455.7 387.0h0M456.3 340.9h0M405.2 378.8h0M506.6 374.5h0M426.3 339.3h0M480.7 367.4h0M524.4 348.2h0M430.1 332.1h0M455.9 358.1h0M455.2 360.6h0M469.4 364.2h0M526.3 335.2h0M495.3 376.1h0M472.1 358.5h0M412.6 330.0h0M424.0 355.7h0M511.7 345.5h0M475.6 350.5h0M446.6 339.9h0M494.1 342.1h0M458.7 320.0h0M421.9 337.8h0M420.6 353.1h0M504.8 339.7h0M438.7 350.5h0M476.6 354.5h0M436.5 323.5h0M440.7 332.5h0M378.2 339.1h0M426.9 347.2h0M521.1 342.0h0M491.6 330.5h0M400.0 333.8h0M476.4 349.5h0M420.3 356.0h0M462.0 377.8h0M409.5 334.2h0M428.7 352.2h0M488.3 345.1h0M481.5 344.2h0M461.4 353.4h0M452.2 372.5h0M419.5 327.4h0M455.0 360.2h0M467.1 360.2h0M512.0 348.4h0M420.5 328.3h0M473.8 342.0h0M491.9 356.9h0M454.2 321.6h0M458.0 336.3h0M472.6 331.0h0M441.9 360.9h0M489.9 363.3h0M464.2 382.9h0M435.0 363.8h0M483.2 328.2h0M477.3 338.6h0M457.5 359.1h0M479.3 348.4h0M381.9 374.5h0M417.3 351.7h0M418.3 343.7h0M469.7 324.7h0M435.1 339.1h0M494.9 321.7h0M406.9 324.0h0M428.4 340.6h0M498.8 334.1h0M426.0 346.0h0M433.7 380.3h0M483.1 362.2h0M509.3 348.2h0M483.3 333.3h0M448.7 348.9h0M419.4 361.8h0M457.2 321.5h0M440.6 342.1h0M473.0 339.5h0M424.1 335.6h0M391.6 325.4h0M452.7 325.0h0M408.4 343.2h0M483.4 348.0h0M454.1 347.9h0M472.6 365.4h0M486.6 334.3h0M501.1 375.6h0M509.3 364.5h0M367.4 347.0h0M449.4 357.9h0M470.5 389.5h0M396.9 360.0h0M444.6 338.1h0M453.9 344.5h0M493.9 355.4h0M483.6 379.2h0M432.9 352.1h0M508.0 373.5h0M445.1 355.0h0M483.2 347.6h0M427.3 370.9h0M500.0 375.7h0M412.8 361.2h0M447.8 351.4h0M447.7 345.3h0M491.7 347.2h0M421.3 348.4h0M494.9 334.0h0M419.4 386.8h0M422.8 340.5h0M446.4 340.2h0M430.2 367.3h0M432.9 323.6h0M473.6 339.4h0M454.8 360.6h0M485.2 335.8h0M427.9 374.4h0M419.4 324.4h0M490.5 356.1h0M445.6 361.2h0M445.2 332.5h0M526.1 334.1h0M471.2 379.7h0M498.1 369.1h0M435.6 388.6h0M435.2 364.7h0M406.4 331.2h0M414.6 349.3h0M488.4 374.1h0M438.5 362.7h0M503.0 351.4h0M467.9 356.1h0M482.4 338.5h0M458.1 344.6h0M472.3 353.4h0M429.1 356.6h0M494.5 345.2h0M481.9 358.0h0M431.6 350.9h0M493.2 371.9h0M450.1 367.2h0M394.6 348.6h0M464.4 334.8h0M448.9 358.1h0M445.1 375.2h0M501.1 376.9h0M454.9 339.1h0M484.0 363.5h0M500.4 375.3h0M451.7 351.3h0M507.7 361.2h0M462.1 342.6h0M455.7 368.0h0M486.3 322.0h0M458.8 329.3h0M448.5 383.4h0M400.1 340.6h0M481.5 357.5h0M450.7 350.4h0M431.4 345.8h0M436.3 339.4h0M455.8 321.4h0M442.7 315.2h0M402.5 334.2h0M491.1 341.3h0M500.7 359.5h0M434.3 348.6h0M430.2 345.3h0M454.6 383.3h0M461.1 371.3h0M384.3 356.6h0M474.7 359.0h0M408.7 331.9h0M450.9 377.0h0M483.2 326.5h0M450.7 352.5h0M431.2 325.5h0M399.8 346.0h0M519.8 336.9h0M431.5 312.7h0M477.3 368.3h0M402.0 386.1h0M406.4 377.8h0M464.5 335.8h0M449.4 350.5h0M444.9 364.7h0M468.6 358.7h0M457.1 388.1h0M500.6 358.9h0M464.5 354.0h0M423.5 374.9h0M392.1 367.7h0M463.8 372.2h0M504.2 334.6h0M466.5 372.4h0M490.1 355.0h0M437.9 351.7h0M445.5 342.1h0M435.9 330.3h0M451.8 363.4h0M442.7 336.4h0M459.4 350.3h0M510.1 338.8h0M437.3 329.4h0M466.2 320.4h0M495.7 344.2h0M499.0 382.2h0M447.5 382.9h0M482.5 355.4h0M432.1 331.5h0M436.6 357.5h0M415.8 332.4h0M455.0 335.9h0M433.1 354.2h0M491.7 339.8h0M437.8 333.8h0M428.2 346.9h0M476.5 339.6h0M466.0 316.5h0M478.2 349.7h0M426.7 350.3h0M414.8 335.0h0M503.0 345.1h0M420.4 341.9h0M514.6 356.9h0M473.2 354.9h0M488.8 333.3h0M433.6 336.6h0M390.4 353.8h0M436.4 336.5h0M492.7 344.6h0M445.3 331.7h0M445.6 335.2h0M491.8 354.8h0M479.8 370.2h0M449.1 349.3h0M417.2 342.3h0M448.7 371.9h0M482.6 368.2h0M459.4 323.5h0M492.1 356.9h0M484.1 378.7h0M426.1 345.5h0M440.0 344.4h0M466.6 359.4h0M451.6 360.4h0M410.3 358.2h0M462.4 369.0h0M391.8 324.0h0M402.8 335.8h0M463.7 348.2h0M422.6 338.5h0M409.3 349.7h0M470.4 371.9h0M422.6 333.0h0M435.0 336.9h0M444.1 357.9h0M440.3 334.2h0M391.9 327.8h0M486.1 366.1h0M504.1 341.8h0M446.0 358.8h0M447.2 357.4h0M475.7 366.9h0M517.9 339.4h0M455.2 366.9h0M442.7 318.1h0M435.2 367.1h0M480.7 320.0h0M445.1 332.6h0M402.2 361.8h0M462.5 353.6h0M450.5 348.2h0M458.6 355.6h0M450.0 347.0h0M447.7 350.7h0M395.7 369.0h0M481.9 335.8h0M435.5 345.5h0M420.5 350.0h0M441.8 353.5h0M426.1 378.0h0M394.2 373.0h0M498.9 360.2h0M450.0 337.9h0M489.4 322.9h0M456.1 384.1h0M380.2 374.2h0M483.2 369.7h0M481.2 342.4h0M474.5 339.0h0M467.2 349.4h0M455.6 383.1h0M479.9 349.6h0M499.4 372.0h0M469.7 344.8h0M436.6 367.3h0M406.1 356.0h0M459.2 371.9h0M500.4 345.9h0M448.2 324.8h0M464.0 337.8h0M430.1 327.3h0M429.2 368.9h0M407.3 325.4h0M519.1 365.3h0M401.0 333.4h0M500.4 336.1h0M419.1 349.6h0M452.4 376.2h0M431.5 319.0h0M449.0 369.0h0M419.3 360.2h0M474.6 355.0h0M473.8 371.1h0M412.0 359.8h0M512.2 360.7h0M388.1 368.5h0M517.8 328.8h0M509.1 340.7h0M455.1 373.3h0M436.7 325.2h0M457.6 361.7h0M506.4 375.0h0M413.2 324.2h0M467.6 361.8h0M441.5 365.1h0M455.5 318.8h0M466.2 367.7h0M450.7 350.2h0M483.7 331.4h0M400.5 339.1h0M426.8 310.5h0M465.3 358.2h0M483.7 369.5h0M461.9 350.4h0M468.5 327.1h0M453.6 348.7h0M458.9 313.5h0M463.4 338.5h0M479.8 372.0h0M481.5 331.0h0M446.3 322.0h0M428.1 335.2h0M456.8 333.6h0M409.5 360.2h0M488.9 368.2h0M491.5 348.7h0M402.2 345.0h0M397.7 370.6h0M396.9 328.9h0M489.6 365.4h0M423.7 350.8h0M480.7 360.8h0M415.5 317.9h0M399.8 337.3h0M423.6 343.7h0M439.8 349.8h0M462.1 356.6h0M421.4 352.7h0M450.1 316.2h0M467.5 325.2h0M498.9 327.2h0M461.4 367.6h0M371.1 365.3h0M454.9 326.7h0M460.4 321.2h0M371.2 340.4h0M508.5 348.4h0M469.1 357.3h0M507.7 354.1h0M451.3 347.3h0M439.0 363.7h0M411.5 370.6h0M428.7 347.8h0M437.4 356.8h0M441.6 325.3h0M424.0 352.1h0M460.2 380.1h0M388.0 350.7h0M482.0 326.5h0M414.4 314.8h0M462.5 352.2h0M444.7 330.4h0M455.1 333.1h0M456.8 367.4h0M405.7 380.5h0M479.6 342.1h0M432.8 340.0h0M510.3 350.3h0M438.5 352.9h0M461.8 374.5h0M481.7 348.8h0M441.9 326.7h0M490.7 329.3h0M429.9 358.9h0M405.2 321.9h0M433.4 351.3h0M434.4 352.2h0M482.4 368.4h0M463.4 325.8h0M463.1 362.7h0M477.0 330.3h0M475.5 354.3h0M523.3 355.4h0M423.0 344.5h0M460.5 368.5h0M472.4 337.8h0M415.3 361.4h0M402.6 363.6h0M460.8 366.2h0M438.1 336.5h0M392.7 346.9h0M491.4 341.7h0M445.8 328.4h0M428.2 360.5h0M415.0 340.5h0M475.9 334.6h0M451.3 329.2h0M433.1 369.4h0M463.5 374.4h0M450.2 366.9h0M487.2 321.9h0M493.2 370.0h0M422.8 338.3h0M458.8 367.4h0M481.5 345.0h0M509.6 349.2h0M423.0 335.9h0M469.7 387.4h0M445.4 341.0h0M487.9 362.8h0M469.8 331.3h0M434.5 334.3h0M481.8 379.7h0M469.8 365.7h0M475.0 340.4h0M435.7 342.4h0M412.0 350.3h0M437.2 316.2h0M495.7 357.0h0M398.6 352.4h0M452.9 329.4h0M461.4 342.2h0M443.4 348.6h0M485.5 355.5h0M479.9 354.4h0M475.4 363.1h0M409.1 361.0h0M524.6 338.6h0M512.5 359.7h0M448.3 376.4h0M497.8 326.8h0M414.5 374.1h0M449.4 317.2h0M482.8 331.9h0M491.7 331.1h0M473.1 363.4h0M454.1 357.3h0M424.3 340.9h0M429.8 361.1h0M397.8 328.0h0M514.6 356.8h0M516.6 352.3h0M476.2 358.6h0M433.1 331.9h0M493.8 357.6h0M394.0 339.2h0M412.2 326.6h0M477.9 340.7h0M441.2 339.2h0M409.2 339.3h0M493.6 322.5h0M385.8 353.9h0M445.8 348.9h0M453.5 327.3h0M528.8 343.9h0M464.0 371.1h0M445.5 346.8h0M402.0 366.2h0M458.5 349.5h0M475.2 340.9h0M406.6 355.1h0M406.4 327.8h0M436.9 368.7h0M453.1 348.0h0M500.5 354.3h0M444.8 345.5h0M404.6 359.1h0M419.8 344.9h0M481.2 374.2h0M452.8 342.8h0M509.8 328.2h0M384.3 373.4h0M422.7 334.6h0M477.2 341.5h0M479.2 355.8h0M417.5 316.9h0M434.8 386.2h0M493.9 331.0h0M416.9 367.6h0M471.9 342.5h0M423.9 374.8h0M406.9 374.6h0M490.3 349.1h0M439.6 371.1h0M411.3 373.3h0M483.4 344.9h0M385.6 344.1h0M493.8 357.0h0M464.3 366.0h0M478.7 327.5h0M480.9 328.7h0M383.3 333.4h0M425.2 358.3h0M462.0 330.5h0M414.4 334.1h0M452.7 316.6h0M480.3 347.0h0M451.5 332.7h0M483.9 346.8h0M446.0 361.9h0M442.4 376.0h0M429.5 336.4h0M442.3 359.4h0M506.4 330.7h0M456.3 346.6h0M470.0 356.3h0M433.1 374.6h0M437.9 359.3h0M481.7 311.7h0M513.1 326.8h0M470.9 367.9h0M511.1 361.2h0M468.4 329.1h0M454.2 390.5h0M439.3 325.2h0M472.4 353.0h0M459.3 326.1h0M485.5 348.4h0M488.0 336.8h0M495.3 352.5h0M417.4 349.8h0M486.3 341.8h0M514.2 353.1h0M421.5 350.6h0M493.0 322.7h0M443.0 382.6h0M435.9 347.4h0M415.7 321.8h0M443.8 323.1h0M425.4 317.6h0M419.0 370.3h0M359.8 340.5h0M460.0 353.6h0M427.3 353.4h0M514.9 329.9h0M466.7 330.6h0M479.3 328.3h0M459.6 371.0h0M456.3 324.7h0M434.0 364.4h0M449.5 345.2h0M480.3 366.8h0M478.9 355.4h0M402.4 332.4h0M472.5 350.7h0M492.0 327.5h0M492.2 366.1h0M501.1 346.7h0M458.1 331.6h0M514.3 360.4h0M406.1 364.6h0M421.7 351.4h0M488.8 370.6h0M418.3 356.4h0M447.4 347.5h0M512.1 360.7h0M491.4 354.4h0M427.1 346.0h0M441.4 359.8h0M434.5 317.1h0M475.8 354.2h0M456.5 361.0h0M421.4 358.6h0M413.5 332.9h0M388.0 360.4h0M422.6 346.8h0M470.8 348.3h0M493.7 333.4h0M456.9 349.3h0M399.8 348.5h0M462.4 314.1h0M529.3 336.5h0M519.2 359.9h0M390.3 327.0h0M441.8 345.5h0M441.5 348.4h0M413.4 358.9h0M510.5 329.8h0M477.7 340.4h0M401.5 362.6h0M398.8 343.2h0M436.5 370.3h0M405.3 342.3h0M424.0 346.9h0M451.7 340.1h0M426.3 329.9h0M465.5 326.8h0M491.8 370.3h0M441.0 370.3h0M487.9 348.4h0M476.8 359.1h0M427.9 326.6h0M446.2 377.9h0M448.3 320.5h0M443.3 361.6h0M436.9 363.0h0M485.4 359.3h0M498.7 335.6h0M432.6 346.7h0M424.4 363.6h0M482.9 351.4h0M481.3 343.2h0M423.9 346.1h0M481.3 357.7h0M424.3 345.3h0M480.9 369.9h0M456.7 364.9h0M408.2 357.8h0M496.1 344.7h0M479.1 359.0h0M461.5 364.2h0M430.7 374.8h0M512.2 363.3h0M509.9 339.2h0M521.2 347.8h0M522.0 343.8h0M428.1 322.1h0M443.9 347.2h0M488.4 373.7h0M481.7 365.8h0M418.1 341.5h0M499.8 328.6h0M449.6 358.6h0M414.4 325.2h0M429.0 330.9h0M409.6 378.9h0M493.7 363.3h0M405.7 361.6h0M455.4 339.1h0M457.6 352.2h0M471.1 374.0h0M459.0 386.2h0M411.7 340.6h0M420.7 340.1h0M484.1 361.3h0M446.9 360.6h0M414.8 359.5h0M487.7 326.8h0M471.1 345.6h0M431.0 360.5h0M435.8 323.7h0M422.4 349.6h0M457.2 337.0h0M444.8 324.2h0M421.3 357.6h0M494.0 354.5h0M432.2 344.3h0M448.7 323.0h0M461.9 367.2h0M473.6 318.9h0M403.9 358.2h0M452.0 374.3h0M472.5 329.1h0M483.3 331.7h0M496.3 369.5h0M456.8 380.4h0M472.5 345.5h0M525.6 355.1h0M406.7 347.1h0M446.0 374.3h0M381.0 356.3h0M406.9 342.7h0M425.8 349.4h0M488.1 344.3h0M473.0 355.5h0M456.3 320.2h0M459.9 328.5h0M510.7 341.7h0M398.5 352.5h0M434.5 328.5h0M493.6 340.7h0M485.2 367.1h0M494.0 337.5h0M423.1 315.2h0M432.0 345.0h0M470.9 363.2h0M481.2 360.7h0M456.6 348.4h0M467.6 346.3h0M402.8 384.4h0M444.9 362.5h0M424.8 329.8h0M488.8 319.5h0M525.2 333.8h0M475.8 364.6h0M462.8 363.4h0M482.7 328.5h0M454.6 350.7h0M436.7 363.9h0M437.7 318.1h0M400.8 345.5h0M473.5 381.4h0M432.5 349.4h0M433.5 341.0h0M493.8 343.1h0M454.1 369.3h0M408.5 323.9h0M415.0 354.7h0M436.1 323.8h0M522.3 329.3h0M466.2 364.8h0M476.8 338.9h0M405.9 321.0h0M478.8 352.3h0M442.8 347.0h0M436.4 342.8h0M513.0 356.2h0M459.2 357.6h0M436.9 359.3h0M440.5 314.1h0M497.4 321.8h0M447.4 341.5h0M474.7 346.0h0M506.8 351.1h0M447.9 333.6h0M390.8 350.9h0M492.8 356.4h0M475.4 370.8h0M460.1 336.5h0M502.0 331.5h0M485.3 315.1h0M495.2 354.2h0M494.8 355.0h0M509.6 349.6h0M376.2 341.5h0M406.1 369.8h0M487.3 365.9h0M443.6 349.0h0M448.5 374.7h0M421.7 330.9h0M436.5 336.5h0M484.2 339.2h0M490.5 344.7h0M452.6 353.1h0M449.1 321.6h0M463.4 325.5h0M438.4 317.8h0M455.0 363.8h0M428.0 362.1h0M430.2 331.5h0M488.0 338.3h0M494.8 328.3h0M408.4 378.5h0M427.0 353.1h0M489.5 364.4h0M485.8 331.4h0M392.6 352.8h0M418.6 343.0h0M439.8 365.9h0M454.7 321.5h0M516.3 339.3h0M476.3 338.9h0M493.2 350.4h0M441.3 345.8h0M436.2 360.8h0M490.4 350.4h0M480.0 323.6h0M417.1 359.1h0M486.2 371.4h0M496.7 376.5h0M415.8 330.9h0M511.8 337.5h0M445.7 393.0h0M519.1 341.2h0M484.4 380.3h0M498.2 360.0h0M468.2 318.1h0M435.0 332.5h0M476.4 321.6h0M463.8 323.1h0M486.2 339.2h0M378.0 330.0h0M514.3 356.5h0M461.6 386.2h0M452.5 348.2h0M412.4 367.5h0M434.1 362.8h0M411.5 351.6h0M440.7 341.1h0M440.1 350.5h0M421.9 357.4h0M447.3 361.3h0M451.7 338.4h0M445.4 354.7h0M395.7 338.2h0M444.2 366.4h0M367.3 343.6h0M411.4 327.5h0M476.6 330.3h0M381.4 328.2h0M474.5 347.9h0M509.8 352.3h0M480.5 350.1h0M449.7 334.6h0M405.3 344.8h0M386.0 330.5h0M396.4 344.4h0M447.0 332.9h0M415.3 327.7h0M466.5 378.3h0M471.9 375.8h0M494.5 343.0h0M405.7 336.0h0M421.2 363.7h0M369.9 366.1h0M471.3 328.7h0M410.4 357.1h0M419.1 351.4h0M477.6 337.6h0M528.2 333.9h0M494.1 364.2h0M373.1 348.1h0M455.8 339.8h0M425.9 342.3h0M473.4 337.8h0M506.1 335.6h0M477.5 378.0h0M395.5 348.7h0M432.3 353.6h0M454.0 381.6h0M513.3 329.3h0M450.0 381.3h0M422.2 325.4h0M500.5 373.8h0M507.0 345.1h0M477.2 338.7h0M497.6 378.5h0M488.7 362.6h0M437.7 337.1h0M492.4 352.8h0M472.5 352.2h0M461.0 360.5h0M439.5 363.3h0M479.1 348.1h0M438.9 355.7h0M482.5 358.8h0M473.0 336.7h0M509.1 363.0h0M488.6 363.5h0M432.6 331.8h0M480.8 355.2h0M498.7 346.5h0M485.8 366.5h0M471.4 366.2h0M427.4 371.2h0M501.8 337.4h0M401.6 344.2h0M430.4 366.6h0M479.6 331.1h0M381.9 345.6h0M427.8 345.7h0M469.8 329.0h0M447.8 349.4h0M492.8 357.9h0M482.8 346.1h0M463.7 333.4h0M446.3 346.8h0M471.1 341.0h0M470.8 368.5h0M470.8 351.1h0M436.6 382.0h0M490.2 339.1h0M437.7 339.8h0M377.0 359.8h0M423.4 354.1h0M490.9 349.6h0M445.3 389.0h0M414.2 369.4h0M465.8 341.7h0M457.7 331.7h0M504.1 344.0h0M390.3 361.4h0M525.0 332.4h0M432.7 348.7h0M467.3 387.1h0M455.0 343.6h0M488.6 357.3h0M385.8 325.8h0M519.1 362.2h0M520.4 347.0h0M471.2 382.6h0M494.5 329.6h0M457.3 365.5h0M452.7 333.5h0M440.2 335.7h0M446.2 333.8h0M508.4 329.7h0M445.8 365.3h0M433.7 374.3h0M487.9 374.4h0M395.2 353.4h0M476.4 356.7h0M483.6 347.3h0M469.6 332.9h0M419.3 351.3h0M473.3 330.0h0M412.5 331.9h0M462.3 325.8h0M446.9 326.4h0M467.4 357.1h0M481.9 329.9h0M394.5 339.2h0M437.3 322.5h0M451.3 319.1h0M445.8 350.0h0M483.3 347.0h0M453.1 374.0h0M495.8 330.5h0M453.2 356.5h0M435.0 344.6h0M506.1 340.7h0M424.5 327.6h0M447.5 366.0h0M413.6 382.3h0M448.3 371.5h0M469.7 363.4h0M485.4 345.4h0M452.5 334.9h0M454.4 371.3h0M471.9 368.9h0M477.3 319.4h0M442.4 353.9h0M469.0 330.4h0M512.3 331.9h0M449.7 319.9h0M427.3 360.3h0M492.1 369.7h0M436.8 351.5h0M500.3 377.5h0M476.2 330.2h0M439.3 350.9h0M478.8 353.8h0M497.8 349.5h0M484.8 366.1h0M494.6 332.1h0M406.1 369.2h0M425.6 316.4h0M381.9 333.8h0M490.7 370.3h0M464.3 349.7h0M429.2 347.4h0M430.9 337.7h0M485.0 339.3h0M431.2 350.1h0M438.7 377.2h0M413.4 357.6h0M504.9 373.4h0M461.0 357.2h0M428.1 344.2h0M451.7 326.3h0M460.6 371.9h0M516.8 334.0h0M512.0 353.2h0M449.7 345.4h0M481.6 363.4h0M486.5 338.1h0M482.8 362.0h0M474.2 357.3h0M448.3 349.5h0M464.9 333.9h0M482.6 355.0h0M427.4 367.0h0M436.9 351.8h0M407.8 331.3h0M426.8 349.1h0M441.8 357.8h0M494.2 352.9h0M451.2 321.2h0M408.7 350.7h0M400.6 360.5h0M466.9 342.2h0M484.8 365.1h0M415.6 355.7h0M471.6 347.2h0M487.1 360.4h0M455.4 334.7h0M465.8 325.5h0M499.3 342.4h0M448.5 332.0h0M441.6 377.2h0M527.3 337.3h0M423.7 345.7h0M516.1 344.4h0M499.7 339.6h0M488.6 340.9h0M496.9 365.2h0M454.0 363.6h0M448.6 331.9h0M504.4 336.0h0M432.2 317.1h0M481.1 329.5h0M446.6 341.9h0M469.4 351.2h0M467.9 377.0h0M475.2 344.9h0M385.3 352.2h0M427.6 324.5h0M475.7 328.4h0M482.4 337.7h0M464.8 358.9h0M425.9 356.8h0M431.3 366.9h0M469.0 350.9h0M466.3 384.8h0M475.1 332.6h0M399.4 378.5h0M439.7 381.7h0M454.2 334.4h0M471.3 351.7h0M464.1 347.1h0M465.6 326.3h0M439.7 314.4h0M428.6 346.9h0M383.1 360.9h0M401.4 358.8h0M408.0 343.9h0M466.4 372.0h0M434.1 365.6h0M477.7 360.3h0M463.7 337.7h0M428.7 343.5h0M521.8 363.3h0M429.1 364.8h0M511.0 351.8h0M425.6 342.5h0M411.8 367.7h0M494.4 352.5h0M415.0 348.5h0M437.9 350.4h0M443.9 354.9h0M422.0 340.1h0M429.5 371.4h0M378.8 365.9h0M432.5 377.5h0M424.8 381.5h0M456.8 354.5h0M482.1 350.1h0M399.2 315.6h0M458.4 320.6h0M416.6 362.6h0M414.2 360.4h0M367.0 367.3h0M493.1 365.4h0M383.3 335.6h0M478.8 361.4h0M512.8 353.5h0M495.7 372.0h0M458.7 359.3h0M494.3 342.9h0M436.0 348.8h0M472.9 333.6h0M476.1 323.5h0M446.1 340.3h0M482.3 355.3h0M483.3 323.3h0M408.6 352.7h0M424.1 353.8h0M502.5 347.2h0M436.2 342.9h0M462.1 318.0h0M431.9 338.2h0M483.9 373.7h0M405.1 333.6h0M420.0 341.0h0M473.5 339.5h0M484.9 336.6h0M382.1 363.4h0M523.1 349.5h0M464.0 329.0h0M493.3 347.9h0M460.5 357.4h0M431.5 343.9h0M470.2 371.4h0M413.0 342.8h0M426.3 328.7h0M453.5 323.4h0M469.5 320.6h0M408.2 337.3h0M482.5 346.1h0M443.6 309.9h0M457.2 333.9h0M486.5 376.4h0M424.3 371.9h0M491.2 338.1h0M477.2 331.0h0M438.4 373.5h0M497.8 347.6h0M449.9 342.0h0M409.7 380.5h0M473.8 363.8h0M433.0 357.1h0M446.5 358.3h0M446.5 394.8h0M460.5 351.4h0M412.9 353.7h0M368.3 344.6h0M392.1 365.0h0M491.8 346.3h0M432.4 348.7h0M501.6 371.4h0M501.4 361.1h0M467.8 338.4h0M408.0 361.2h0M501.1 352.1h0M390.7 347.7h0M465.5 331.0h0M465.1 318.2h0M431.0 344.9h0M464.1 335.5h0M480.7 359.6h0M403.5 351.9h0M460.8 339.7h0M468.3 385.7h0M510.6 331.0h0M476.9 353.0h0M495.3 332.7h0M465.2 362.8h0M472.6 361.0h0M455.7 318.6h0M511.4 364.9h0M430.4 316.1h0M492.1 356.7h0M424.6 327.6h0M525.5 350.9h0M429.1 359.0h0M389.8 339.5h0M439.5 371.1h0M461.5 361.8h0M452.7 347.3h0M496.3 352.0h0M395.0 337.2h0M443.8 336.6h0M452.8 378.0h0M422.4 346.7h0M441.7 367.0h0M420.2 315.1h0M447.5 336.3h0M386.6 326.1h0M429.5 372.8h0M395.4 344.1h0M465.1 373.6h0M435.7 355.9h0M482.1 377.5h0M407.2 355.3h0M394.7 344.7h0M422.3 356.5h0M406.2 336.7h0M409.9 314.5h0M456.6 370.0h0M433.1 375.0h0M373.4 363.8h0M471.7 359.9h0M529.6 336.1h0M451.0 363.6h0M422.9 369.2h0M474.9 360.6h0M422.2 365.6h0M457.3 329.1h0M412.4 333.7h0M414.7 343.5h0M486.8 371.0h0M474.4 359.4h0M494.9 362.1h0M472.1 344.8h0M408.1 321.7h0M459.5 380.7h0M452.2 376.1h0M476.9 334.2h0M477.7 355.3h0M491.0 339.5h0M438.2 366.2h0M485.8 350.8h0M424.7 324.4h0M518.6 360.8h0M508.5 330.9h0M502.9 350.6h0M471.7 354.8h0M412.9 332.5h0M469.3 332.7h0M488.3 340.0h0M468.5 335.1h0M378.2 345.1h0M478.4 350.9h0M455.5 354.1h0M483.0 352.9h0M395.2 372.4h0M384.0 349.0h0M471.1 356.0h0M428.9 319.1h0M486.9 345.0h0M528.1 353.8h0M462.1 374.5h0M425.4 341.9h0M465.3 351.9h0M396.0 368.9h0M467.0 368.6h0M388.4 344.9h0M450.5 338.1h0M491.7 344.0h0M475.6 331.8h0M489.2 338.8h0M419.4 369.2h0M493.0 374.7h0M457.3 320.0h0M430.3 336.7h0M489.9 344.8h0M434.7 385.6h0M406.3 369.1h0M474.2 335.2h0M457.0 352.5h0M485.2 362.2h0M476.9 370.0h0M415.7 356.6h0M498.4 380.4h0M430.6 360.0h0M467.6 347.7h0M427.8 342.2h0M446.0 380.0h0M421.3 372.1h0M485.4 381.2h0M400.2 347.0h0M431.4 318.5h0M466.8 343.0h0M494.4 355.3h0M422.9 348.4h0M464.2 350.2h0M439.0 342.8h0M500.5 358.4h0M493.3 344.4h0M455.0 341.5h0M456.0 348.2h0M416.7 349.3h0M514.1 361.3h0M466.7 351.8h0M386.1 350.8h0M486.8 331.1h0M432.3 348.8h0M507.5 340.9h0M451.0 325.5h0M486.1 321.2h0M402.3 350.7h0M489.5 339.0h0M418.0 363.0h0M469.7 333.0h0M472.5 335.7h0M482.1 308.1h0M448.2 335.6h0M470.9 365.3h0M470.5 324.9h0M430.7 365.1h0M440.4 358.6h0M466.8 322.0h0M360.5 354.7h0M478.0 355.8h0M421.4 362.9h0M408.7 338.5h0M442.1 369.6h0M394.1 339.8h0M448.3 348.2h0M443.6 330.9h0M509.5 337.6h0M452.9 346.0h0M423.3 366.4h0M475.4 353.3h0M397.3 347.1h0M433.7 312.8h0M502.4 344.4h0M434.0 370.7h0M396.1 369.4h0M459.2 335.2h0M411.3 330.4h0M458.1 342.0h0M427.1 351.0h0M470.5 351.1h0M458.8 381.0h0M454.5 334.1h0M468.7 380.7h0M513.8 328.7h0M441.1 363.8h0M477.1 323.9h0M426.0 365.5h0M480.5 336.5h0M417.4 336.5h0M490.2 353.7h0M437.0 328.2h0M448.1 362.5h0M428.6 371.3h0M467.1 351.2h0M426.3 363.6h0M484.3 326.3h0M459.4 333.0h0M449.8 359.9h0M446.1 379.6h0M508.5 342.4h0M475.3 349.2h0M513.2 366.4h0M431.5 362.1h0M456.4 385.5h0M522.6 357.0h0M429.1 338.8h0M420.1 326.2h0M461.3 363.3h0M407.6 337.6h0M445.2 334.7h0M488.3 356.9h0M459.1 350.1h0M431.1 357.5h0M448.5 362.1h0M464.4 364.2h0M417.8 344.5h0M469.8 351.5h0M479.2 379.7h0M402.1 356.0h0M395.3 375.3h0M458.4 350.6h0M392.1 342.2h0M438.3 355.6h0M483.5 328.7h0M393.5 350.8h0M413.7 346.5h0M455.6 367.0h0M403.4 350.8h0M500.8 357.1h0M448.4 351.6h0M479.6 347.4h0M454.5 380.1h0M529.6 352.3h0M490.4 364.0h0M480.0 358.9h0M450.8 326.4h0M459.1 321.6h0M449.3 366.0h0M442.9 350.4h0M426.4 351.1h0M483.0 341.2h0M420.8 326.8h0M438.4 343.9h0M417.5 359.0h0M510.2 332.3h0M426.2 356.6h0M433.6 346.7h0M495.4 346.2h0M466.5 334.8h0M451.9 367.2h0M466.2 369.0h0M495.6 344.4h0M493.6 352.0h0M440.4 351.1h0M474.3 340.7h0M524.3 339.5h0M425.2 340.2h0M433.6 325.6h0M424.8 326.3h0M414.7 342.4h0M415.7 343.0h0M447.0 355.4h0M438.9 322.9h0M460.5 343.0h0M423.0 356.8h0M421.7 331.9h0M432.2 380.6h0M515.2 342.0h0M509.8 353.2h0M490.0 350.1h0M432.9 337.3h0M502.7 344.3h0M519.8 366.1h0M451.5 333.7h0M432.5 373.3h0M470.7 339.3h0M469.5 360.3h0M434.0 372.6h0M451.4 320.7h0M439.6 347.2h0M415.7 357.3h0M450.7 377.8h0M498.5 334.7h0M460.4 354.0h0M413.0 378.6h0M462.6 349.2h0M418.7 335.7h0M439.3 357.5h0M438.8 371.5h0M461.9 334.4h0M429.2 341.0h0M419.7 325.7h0M506.9 374.4h0M469.4 373.1h0M448.8 363.3h0M418.6 373.1h0M447.8 358.8h0M466.1 341.6h0M443.5 357.9h0M489.2 342.2h0M499.5 363.8h0M434.8 333.8h0M418.0 339.0h0M509.3 356.1h0M481.8 366.3h0M423.8 323.4h0M501.9 352.3h0M403.2 344.6h0M439.3 335.3h0M424.0 333.4h0M450.5 352.1h0M482.0 358.3h0M411.4 363.9h0M470.3 381.1h0M419.3 350.6h0M363.3 355.7h0M439.4 378.9h0M417.8 349.1h0M425.5 353.0h0M437.2 385.1h0M460.0 365.3h0M445.3 368.7h0M364.6 349.8h0M483.2 330.7h0M492.8 334.2h0M433.2 339.2h0M469.1 370.8h0M404.8 345.3h0M420.1 344.0h0M438.8 364.0h0M445.7 375.3h0M411.4 317.1h0M442.5 332.8h0M465.8 357.3h0M460.2 330.5h0M454.9 349.6h0M486.3 329.4h0M490.5 329.9h0M463.6 348.9h0M520.2 344.5h0M439.6 359.5h0M409.9 356.9h0M453.0 375.9h0M489.1 361.2h0M438.0 367.3h0M449.6 365.8h0M430.0 371.9h0M498.9 338.1h0M409.1 333.8h0M476.1 380.1h0M478.6 346.8h0M451.1 375.3h0M444.9 367.1h0M408.4 349.6h0M434.6 325.3h0M439.9 380.6h0M445.8 322.5h0M474.4 379.6h0M431.4 330.9h0M480.2 358.6h0M386.3 356.6h0M428.9 374.7h0M476.4 327.5h0M447.0 340.4h0M493.0 334.4h0M497.8 377.0h0M456.4 379.0h0M524.6 337.1h0M434.6 358.4h0M417.7 363.0h0M448.1 350.1h0M447.7 367.2h0M424.6 330.9h0M449.1 359.4h0M421.9 363.8h0M499.5 341.0h0M417.3 372.9h0M434.1 332.1h0M459.4 359.7h0M451.7 332.1h0M466.0 338.5h0M449.8 327.7h0M437.3 351.4h0M428.3 358.3h0M461.7 377.0h0M422.5 365.9h0M448.7 357.9h0M408.8 324.3h0M423.8 332.0h0M439.7 349.6h0M427.1 344.2h0M407.6 327.0h0M448.0 330.7h0M414.9 345.1h0M465.4 323.0h0M452.4 368.9h0M429.1 361.4h0M416.5 348.3h0M429.3 352.6h0M456.4 332.5h0M486.4 356.6h0M499.6 359.3h0M498.9 345.0h0M529.7 347.6h0M438.1 368.1h0M499.5 343.1h0M509.4 351.9h0M427.7 357.4h0M474.2 349.1h0M446.3 364.0h0M479.3 327.1h0M412.2 382.3h0M476.8 367.1h0M488.1 341.0h0M491.9 366.8h0M426.7 354.8h0M484.2 371.5h0M469.6 347.4h0M460.6 361.8h0M429.1 356.1h0M412.8 346.6h0M357.9 342.6h0M485.8 354.1h0M454.9 374.7h0M487.8 325.5h0M499.6 328.4h0M491.3 341.9h0M465.7 342.4h0M472.2 330.5h0M485.3 327.6h0M482.0 333.6h0M457.1 322.0h0M497.2 362.1h0M451.2 339.0h0M391.9 354.0h0M396.3 330.0h0M474.5 332.0h0M449.5 333.5h0M470.7 339.7h0M452.1 356.5h0M414.1 340.9h0M459.2 314.4h0M500.6 342.3h0M437.0 326.0h0M406.5 327.5h0M497.1 378.6h0M468.1 378.1h0M428.2 350.5h0M494.2 354.8h0M435.8 335.3h0M494.4 365.3h0M460.9 363.7h0M507.8 329.5h0M459.9 331.2h0M478.5 340.9h0M427.2 372.0h0M370.1 344.1h0M458.7 329.7h0M466.7 362.3h0M436.9 350.2h0M470.0 357.8h0M522.5 354.5h0M512.5 349.0h0M444.2 331.8h0M476.2 363.0h0M460.6 338.4h0M508.5 319.9h0M431.0 343.1h0M494.6 354.2h0M411.9 374.1h0M455.2 325.8h0M402.7 346.0h0M527.8 349.2h0M412.5 334.3h0M463.7 360.4h0M443.1 346.0h0M454.2 350.2h0M490.1 375.1h0M503.8 353.8h0M473.7 378.8h0M435.2 385.2h0M377.7 348.3h0M424.2 332.4h0M510.3 352.6h0M492.5 333.1h0M485.3 372.2h0M496.5 359.3h0M495.0 336.2h0M442.3 356.6h0M397.7 362.7h0M444.6 344.3h0M493.8 359.6h0M521.1 338.4h0M475.8 345.7h0M424.7 360.8h0M466.2 351.8h0M442.2 369.2h0M397.5 355.6h0M461.7 379.5h0M438.3 337.8h0M454.0 326.0h0M438.4 331.1h0M419.1 354.8h0M384.0 331.2h0M381.8 363.5h0M412.2 349.9h0M473.2 329.3h0M444.5 322.0h0M444.9 343.4h0M452.2 325.8h0M416.4 325.7h0M443.6 360.5h0M525.9 354.2h0M436.8 312.0h0M523.1 349.7h0M462.0 324.3h0M456.0 349.5h0M478.5 344.6h0M486.6 330.9h0M405.3 322.7h0M439.8 331.6h0M353.2 346.1h0M480.2 361.8h0M476.3 344.1h0M392.4 339.7h0M413.7 314.9h0M435.4 340.7h0M435.4 378.4h0M441.6 352.3h0M407.4 351.9h0M442.3 330.6h0M370.8 331.9h0M452.7 319.0h0M440.4 328.7h0M446.3 380.6h0M520.6 350.0h0M425.3 314.0h0M395.2 321.9h0M421.6 331.4h0M462.9 325.0h0M507.4 345.9h0M460.1 314.3h0M409.5 329.3h0M413.3 367.7h0M448.9 330.3h0M395.9 339.3h0M444.9 327.5h0M437.8 372.2h0M439.4 313.9h0M417.5 328.2h0M445.0 340.9h0M431.7 326.9h0M514.5 353.0h0M454.5 358.9h0M394.0 305.5h0M452.2 314.2h0M429.0 327.5h0M424.4 347.2h0M510.4 317.9h0M395.1 369.3h0M529.2 334.2h0M445.1 334.2h0M420.6 322.0h0M470.5 323.7h0M390.8 346.5h0M443.2 325.0h0M464.2 322.0h0M392.3 306.0h0M474.9 335.0h0M454.3 347.3h0M409.2 341.7h0M461.8 346.6h0M445.8 374.6h0M488.1 323.9h0M413.0 334.3h0M468.9 338.4h0M385.2 366.4h0M445.9 337.6h0M472.2 325.1h0M465.9 336.3h0M375.7 354.9h0M409.2 373.9h0M435.8 342.0h0M456.1 341.3h0M500.0 355.3h0M478.8 342.0h0M462.1 349.4h0M366.3 342.1h0M480.1 326.8h0M445.5 392.8h0M431.6 370.7h0M479.2 321.7h0M423.7 369.2h0M397.8 322.7h0M455.7 354.3h0M467.2 374.1h0M403.9 383.2h0M383.3 341.3h0M503.3 349.4h0M386.6 359.9h0M456.4 345.7h0M470.5 365.6h0M475.1 338.9h0M488.5 355.3h0M484.4 317.2h0M466.4 365.0h0M497.8 342.0h0M475.7 360.8h0M518.6 327.5h0M390.7 361.6h0M455.4 352.5h0M421.2 325.9h0M435.4 355.2h0M448.9 328.8h0M482.0 315.0h0M410.8 332.5h0M465.2 362.5h0M462.6 326.8h0M503.0 371.4h0M492.6 348.1h0M470.6 359.8h0M399.0 344.1h0M426.4 361.7h0M444.9 340.6h0M415.0 345.4h0M386.0 352.6h0M448.8 343.1h0M527.8 330.5h0M454.4 362.6h0M378.4 319.0h0M446.2 361.5h0M476.5 332.2h0M464.3 338.5h0M361.4 349.5h0M464.1 329.1h0M468.2 362.1h0M482.7 332.2h0M373.0 330.9h0M445.0 315.1h0M461.8 320.7h0M468.5 320.0h0M438.8 344.3h0M443.1 318.3h0M494.3 346.5h0M443.2 324.5h0M401.0 367.1h0M440.2 350.5h0M423.6 341.9h0M396.8 359.4h0M491.1 323.1h0M498.9 351.9h0M390.5 306.8h0M379.9 338.0h0M411.6 325.0h0M477.3 371.7h0M421.9 373.2h0M406.3 344.0h0M484.1 341.5h0M478.1 340.9h0M491.9 328.9h0M523.3 351.4h0M399.4 340.9h0M437.1 357.2h0M430.2 365.4h0M413.0 331.1h0M373.4 330.8h0M406.1 333.0h0M427.3 357.2h0M516.1 360.8h0M530.2 334.9h0M465.1 372.6h0M458.1 362.3h0M369.7 356.4h0M450.8 358.6h0M441.3 312.3h0M430.3 329.9h0M471.4 342.8h0M507.8 319.7h0M415.5 333.8h0M461.6 325.6h0M454.3 345.2h0M426.9 323.4h0M438.5 361.6h0M437.6 312.7h0M498.9 371.5h0M471.9 353.4h0M480.0 334.7h0M450.4 349.8h0M378.0 374.5h0M466.4 321.5h0M432.7 332.3h0M436.9 363.6h0M447.9 328.6h0M433.6 328.5h0M463.5 317.5h0M459.7 327.8h0M398.7 364.0h0M358.0 351.4h0M465.9 342.1h0M428.2 349.8h0M398.6 357.2h0M377.2 371.5h0M456.3 345.4h0M376.6 372.7h0M461.6 318.2h0M466.9 373.1h0M409.9 326.0h0M455.6 332.8h0M477.0 356.5h0M472.8 338.9h0M450.4 326.7h0M431.4 343.2h0M455.0 328.0h0M466.6 320.0h0M510.9 357.8h0M435.4 349.2h0M459.2 366.5h0M396.1 371.7h0M471.5 328.2h0M487.1 349.4h0M423.9 328.4h0M416.2 355.9h0M397.5 351.1h0M479.6 345.6h0M466.4 333.4h0M505.1 336.5h0M512.9 320.8h0M410.1 345.2h0M444.8 379.5h0M470.6 318.8h0M488.8 331.5h0M444.6 350.5h0M441.7 320.2h0M447.7 330.2h0M386.2 351.8h0M435.4 376.1h0M439.9 352.4h0M438.8 359.1h0M389.9 329.3h0M506.0 331.9h0M489.7 329.5h0M505.4 345.6h0M451.2 359.4h0M454.7 342.5h0M449.9 360.0h0M433.4 336.2h0M427.6 326.1h0M472.8 339.2h0M516.9 325.8h0M353.1 345.1h0M515.9 325.2h0M435.3 366.4h0M366.6 343.3h0M448.6 348.4h0M453.0 311.3h0M405.0 344.6h0M435.8 372.2h0M443.9 343.1h0M470.1 341.5h0M420.0 364.1h0M402.2 328.4h0M445.6 332.5h0M438.1 336.6h0M419.4 353.3h0M385.5 375.8h0M463.9 325.8h0M430.7 352.9h0M420.5 357.1h0M421.7 337.9h0M471.8 373.9h0M439.0 313.9h0M447.1 351.6h0M432.1 323.7h0M429.0 324.6h0M466.8 316.9h0M412.1 349.2h0M456.6 326.1h0M471.5 352.3h0M459.4 335.1h0M431.8 323.2h0M430.4 375.3h0M456.6 334.3h0M460.3 349.1h0M432.4 329.6h0M414.9 351.1h0M429.4 379.6h0M447.7 334.1h0M395.2 369.1h0M432.0 339.9h0M488.7 320.5h0M456.2 362.4h0M404.7 335.7h0M464.4 378.8h0M406.3 351.3h0M481.4 366.8h0M383.9 343.0h0M378.6 360.6h0M370.4 351.0h0M394.1 345.2h0M380.1 362.3h0M390.8 346.0h0M370.2 347.6h0M385.8 329.9h0M382.3 365.1h0M383.4 365.7h0M377.5 332.7h0M425.7 327.8h0M380.8 359.6h0M392.4 336.6h0M386.1 348.7h0M407.3 347.4h0M408.5 362.0h0M366.4 356.0h0M373.9 338.4h0M369.1 352.3h0M403.3 334.2h0M401.6 350.0h0M408.0 354.2h0M397.9 355.2h0M396.4 344.0h0M410.8 337.4h0M382.0 351.0h0M385.1 372.9h0M419.3 335.3h0M410.7 322.0h0M391.5 341.0h0M374.5 331.7h0M384.4 356.0h0M384.3 358.6h0M401.2 333.2h0M403.8 350.3h0M373.8 341.3h0M363.4 347.9h0M412.3 366.0h0M387.4 366.5h0M351.1 355.7h0M391.4 349.9h0M362.1 352.0h0M404.7 362.9h0M371.3 358.8h0M425.5 356.7h0M391.7 353.6h0M395.9 351.5h0M381.0 355.0h0M393.9 350.3h0M395.3 364.5h0M375.4 360.1h0M368.4 353.3h0M394.6 337.8h0M391.3 346.3h0M380.0 353.0h0M397.9 353.4h0M374.7 373.1h0M374.7 365.2h0M380.7 362.0h0M382.8 351.7h0M375.3 360.5h0M367.3 352.7h0M390.9 352.8h0M382.6 363.2h0M397.5 348.0h0M407.0 347.1h0M381.8 359.7h0M388.4 345.1h0M438.7 346.7h0M355.4 349.9h0M391.0 358.5h0M374.3 331.6h0M389.3 352.9h0M371.4 353.9h0M372.6 362.2h0M372.8 364.2h0M392.0 361.6h0M415.8 350.4h0M394.0 344.1h0M388.3 349.5h0M393.6 341.5h0M386.3 333.6h0M354.0 363.4h0M392.4 337.0h0M369.4 353.2h0M387.4 350.1h0M363.6 346.2h0M394.9 350.1h0M405.1 351.5h0M395.8 338.2h0M388.5 342.3h0M393.6 349.1h0M388.1 353.2h0M390.8 329.8h0M394.0 356.8h0M414.1 342.6h0M377.2 357.8h0M392.8 339.7h0M380.4 330.7h0M376.2 350.6h0M374.6 357.8h0M408.8 362.3h0M386.0 374.4h0M383.7 336.6h0M397.0 338.8h0M374.3 359.3h0M368.1 347.7h0M385.0 357.3h0M375.9 349.4h0M432.1 350.0h0M415.6 341.8h0M395.1 349.7h0M365.8 366.5h0M387.5 355.9h0M376.8 350.9h0M385.2 353.0h0M382.1 325.8h0M374.8 348.3h0M405.6 354.0h0M395.4 348.7h0M365.2 345.3h0M392.0 342.7h0M366.0 350.6h0M398.6 370.9h0M415.1 368.8h0M382.7 335.0h0M401.3 361.6h0M357.9 343.1h0M381.2 337.7h0M351.7 342.5h0M376.5 341.0h0M408.6 344.4h0M370.1 342.5h0M389.1 353.2h0M393.3 359.4h0M397.9 352.9h0M400.8 348.6h0M402.2 341.7h0M409.8 352.1h0M409.7 339.1h0M398.1 351.3h0M374.4 352.5h0M354.7 344.8h0M406.0 359.3h0M370.0 354.4h0M387.9 350.0h0M418.4 340.1h0M409.3 343.9h0M387.4 353.1h0M382.4 365.0h0M392.1 336.5h0M403.8 336.9h0M372.9 362.5h0M369.6 351.4h0M419.4 342.7h0M391.1 339.6h0M386.7 339.2h0M381.7 344.3h0M414.1 342.8h0M378.4 344.6h0M381.9 357.1h0M370.0 353.8h0M398.6 345.1h0M426.2 351.3h0M413.9 339.0h0M405.0 352.9h0M400.1 361.9h0M387.0 362.1h0M382.3 354.7h0M380.6 346.2h0M377.2 364.1h0M404.7 353.7h0M401.4 340.7h0M374.2 332.1h0M390.8 350.2h0M384.9 353.7h0M371.0 355.6h0M406.0 356.4h0M395.4 364.6h0M355.3 345.8h0M386.8 342.2h0M358.4 349.1h0M373.2 360.3h0M402.9 324.2h0M417.1 354.2h0M405.4 378.8h0M406.6 357.4h0M378.1 355.3h0M402.9 341.4h0M385.8 330.4h0M354.5 343.7h0M398.9 349.2h0M441.1 349.9h0M411.7 375.5h0M385.8 361.6h0M405.7 335.1h0M421.4 367.7h0M390.4 357.9h0M380.1 354.5h0M372.7 355.6h0M404.0 365.7h0M399.4 347.7h0M385.1 348.7h0M408.2 358.2h0M372.7 353.9h0M376.4 345.4h0M370.0 344.5h0M389.2 344.1h0M406.0 335.6h0M395.0 331.5h0M393.9 366.8h0M392.6 353.0h0M436.6 349.1h0M388.6 342.8h0M376.9 339.7h0M393.7 356.9h0M383.6 344.4h0M394.8 354.4h0M396.4 349.1h0M377.8 358.2h0M385.5 374.5h0M393.1 352.0h0M384.9 324.8h0M382.3 354.6h0M392.2 352.2h0M396.9 366.6h0M370.3 365.9h0M409.4 322.1h0M408.9 372.2h0M394.1 350.8h0M362.2 344.6h0M404.9 339.0h0M370.1 345.4h0M398.1 347.4h0M383.3 351.5h0M374.8 352.1h0M398.0 356.8h0M385.4 331.5h0M403.0 344.9h0M412.4 355.9h0M380.8 362.4h0M389.3 365.2h0M390.8 351.3h0M396.7 348.5h0M391.8 351.1h0M403.3 354.1h0M380.3 364.3h0M390.6 343.4h0M380.4 337.9h0M392.9 356.5h0M393.8 328.2h0M382.9 359.6h0M380.8 348.1h0M389.8 350.6h0M366.6 355.4h0M360.6 347.0h0M374.8 344.8h0M370.0 355.9h0M378.5 346.7h0M402.4 355.9h0M401.2 350.0h0M378.1 341.7h0M358.0 346.6h0M398.6 339.7h0M422.3 353.9h0M399.8 337.2h0M355.0 349.8h0M376.3 346.5h0M389.2 351.8h0M386.5 331.9h0M389.2 357.6h0M397.1 348.3h0M413.1 369.5h0M398.8 362.4h0M384.1 353.5h0M392.1 326.7h0M380.2 359.5h0M397.4 343.2h0M412.8 331.4h0M383.4 345.3h0M372.1 351.0h0M412.3 358.6h0M401.2 367.8h0M373.6 356.0h0M376.8 364.0h0M356.4 346.5h0M384.4 347.7h0M404.7 340.6h0M373.3 343.3h0M377.3 345.4h0M396.5 353.5h0M418.3 352.4h0M381.4 351.4h0M417.2 351.7h0M381.4 349.3h0M414.0 346.2h0M366.6 354.6h0M413.7 369.2h0M389.7 369.4h0M409.1 347.4h0M378.2 345.9h0M388.1 340.1h0M378.0 346.9h0M395.9 353.3h0M388.2 363.3h0M440.0 356.2h0M378.5 367.5h0M379.8 359.6h0M372.3 352.1h0M369.2 367.6h0M410.3 346.9h0M378.9 353.5h0M400.1 369.8h0M396.6 358.0h0M420.6 377.5h0M371.6 367.0h0M398.4 346.7h0M374.8 346.0h0M385.6 343.3h0M374.8 345.6h0M382.5 353.1h0M381.9 356.5h0M376.4 340.8h0M375.0 356.2h0M364.1 346.0h0M379.6 360.4h0M415.9 353.0h0M409.9 330.1h0M409.5 339.8h0M388.4 344.5h0M377.5 362.3h0M355.4 346.9h0M407.7 344.9h0M377.2 361.3h0M402.2 343.0h0M367.0 356.6h0M359.5 353.4h0M391.4 365.9h0M379.2 358.9h0M367.7 346.7h0M428.1 348.4h0M391.4 357.5h0M389.6 361.7h0M370.4 356.4h0M413.7 356.1h0M379.0 370.9h0M411.9 355.0h0M384.2 372.0h0M376.4 337.5h0M409.5 352.6h0M393.4 368.2h0M389.7 353.7h0M383.2 338.0h0M363.7 356.1h0M428.9 330.0h0M396.0 351.9h0M396.3 352.4h0M387.1 358.8h0M397.9 356.3h0M383.6 369.9h0M427.4 341.7h0M391.9 368.3h0M353.1 364.2h0M385.6 357.4h0M385.2 334.9h0M403.3 345.7h0M378.4 353.0h0M403.1 345.7h0M386.6 347.0h0M374.3 352.6h0M405.0 359.2h0M421.5 349.0h0M389.3 352.9h0M400.0 349.4h0M352.2 362.2h0M402.3 367.0h0M393.9 351.6h0M371.9 350.7h0M394.9 345.6h0M404.0 347.6h0M376.8 345.4h0M369.3 346.1h0M397.4 338.1h0M437.0 353.9h0M410.2 367.2h0M414.7 353.7h0M404.8 355.8h0M367.6 364.2h0M365.9 367.7h0M399.9 325.4h0M387.2 359.1h0M400.2 353.5h0M373.7 358.1h0M380.7 283.4h0M396.4 256.9h0M386.2 333.0h0M407.1 259.6h0M385.5 325.8h0M412.2 323.5h0M424.7 324.4h0M396.1 255.8h0M370.5 252.4h0M360.1 346.7h0M395.4 303.5h0M396.0 253.4h0M394.7 256.5h0M390.3 305.2h0M397.7 255.2h0M382.3 342.0h0M392.4 303.7h0M408.8 259.4h0M409.8 259.8h0M383.9 282.8h0M413.0 305.5h0M380.0 327.9h0M375.9 328.5h0M409.9 332.1h0M396.4 264.4h0M407.2 260.3h0M391.8 304.8h0M373.0 252.8h0M382.3 281.7h0M408.9 262.3h0M396.9 257.5h0M407.5 260.5h0M383.4 282.0h0M396.1 262.5h0M393.8 259.7h0M402.2 315.4h0M409.1 283.7h0M362.0 353.7h0M384.3 344.0h0M393.9 303.6h0M402.9 326.7h0M395.4 261.9h0M449.7 312.6h0M383.3 284.7h0M411.2 335.3h0M420.5 315.3h0M383.9 281.9h0M382.2 283.0h0M396.7 264.0h0M408.7 321.2h0M446.3 339.8h0M476.0 345.9h0M394.7 304.6h0M437.6 369.3h0M455.0 322.3h0M447.4 321.0h0M415.1 331.0h0M402.3 324.3h0M400.9 352.7h0M475.3 330.0h0M406.6 285.0h0M435.7 310.9h0M494.0 360.7h0M476.2 341.1h0M404.6 340.6h0M414.6 322.0h0M404.4 380.3h0M449.8 315.6h0M366.5 343.8h0M477.8 339.2h0M487.5 350.8h0M445.5 358.5h0M392.0 359.1h0M429.7 315.7h0M398.4 358.1h0M433.3 314.5h0M418.3 384.4h0M403.7 349.2h0M470.9 334.6h0M419.5 320.9h0M427.3 331.1h0M452.0 367.3h0M378.0 358.5h0M446.8 376.6h0M409.5 358.7h0M446.6 351.4h0M395.5 353.3h0M459.2 327.8h0M418.2 324.1h0M462.8 352.9h0M384.7 322.9h0M416.3 385.8h0M87.4 400.3h0M99.7 400.0h0M104.6 395.2h0M130.3 392.4h0M103.7 390.5h0M103.1 399.6h0M70.2 391.9h0M104.1 393.7h0M126.6 400.0h0M109.9 395.9h0M137.1 396.6h0M90.4 390.3h0M140.6 399.3h0M119.3 402.7h0M137.5 395.4h0M119.1 393.8h0M144.4 399.1h0M130.4 384.8h0M127.2 406.0h0M100.7 402.7h0M102.0 401.1h0M122.9 393.6h0M67.3 398.0h0M121.3 401.1h0M123.4 398.4h0M133.7 397.9h0M103.4 397.0h0M92.4 396.9h0M100.6 397.5h0M137.0 402.2h0M129.7 392.8h0M139.3 395.5h0M117.7 397.5h0M117.6 402.5h0M91.6 398.1h0M112.8 396.6h0M91.2 393.4h0M102.0 405.2h0M83.7 398.5h0M97.9 397.6h0M144.1 397.6h0M107.9 395.6h0M93.6 397.3h0M114.1 393.1h0M126.2 395.4h0M136.6 402.4h0M68.8 397.9h0M103.3 391.3h0M126.7 397.5h0M121.6 396.6h0M97.9 393.6h0M97.8 397.2h0M98.1 402.0h0M106.4 393.0h0M120.8 395.2h0M108.4 388.1h0M106.4 397.8h0M84.7 397.4h0M105.1 392.0h0M122.1 399.8h0M71.3 402.8h0M149.8 397.7h0M98.0 395.1h0M67.8 402.9h0M130.0 401.5h0M137.7 390.0h0M63.1 395.0h0M140.8 400.5h0M108.5 394.1h0M124.9 393.6h0M116.1 408.3h0M133.3 393.0h0M118.5 396.6h0M76.8 400.4h0M100.0 394.6h0M97.0 391.6h0M115.2 395.6h0M105.4 394.3h0M122.6 397.6h0M98.3 397.6h0M81.5 392.8h0M119.0 394.7h0M129.4 391.3h0M115.4 399.2h0M139.9 395.8h0M122.2 397.5h0M135.4 403.6h0M135.1 385.8h0M95.3 397.5h0M160.2 392.5h0M108.2 404.1h0M120.7 389.3h0M76.5 396.7h0M104.5 397.6h0M87.0 394.3h0M106.2 396.6h0M89.8 402.5h0M114.0 391.4h0M119.9 398.3h0M134.6 399.6h0M83.8 392.8h0M134.2 402.0h0M133.6 407.6h0M114.1 396.2h0M113.1 385.6h0M115.3 395.5h0M121.5 395.1h0M94.7 395.7h0M114.1 396.2h0M144.6 397.8h0M96.8 397.0h0M106.1 389.0h0M136.2 395.9h0M100.7 396.9h0M141.0 395.8h0M105.3 386.2h0M95.9 399.7h0M81.5 397.8h0M126.3 401.7h0M94.8 405.3h0M92.5 398.9h0M104.5 402.9h0M120.7 401.4h0M124.3 396.7h0M124.7 389.5h0M116.6 395.2h0M66.5 395.6h0M139.0 390.0h0M97.4 396.1h0M107.6 396.5h0M80.9 388.2h0M73.3 396.9h0M84.1 393.5h0M76.6 394.2h0M90.8 398.6h0M99.8 393.6h0M85.7 395.9h0M158.0 396.5h0M113.0 397.7h0M86.6 390.8h0M119.4 397.5h0M123.6 397.7h0M112.3 393.7h0M107.9 400.3h0M121.6 388.0h0M125.9 397.1h0M125.8 394.4h0M119.4 391.7h0M121.4 392.8h0M104.0 399.2h0M103.5 403.3h0M97.1 398.6h0M118.7 404.1h0M121.0 394.8h0M120.2 397.1h0M126.3 395.6h0M127.3 396.4h0M111.7 393.4h0M101.2 403.7h0M90.5 394.3h0M147.1 402.1h0M129.9 389.7h0M111.3 404.0h0M111.6 395.7h0M95.7 397.0h0M129.0 401.2h0M113.3 398.0h0M130.4 391.7h0M120.6 400.7h0M104.5 398.3h0M85.9 404.0h0M105.5 401.1h0M105.8 402.4h0M95.0 398.0h0M91.0 397.5h0M144.7 393.3h0M93.3 393.2h0M124.1 397.7h0M83.2 402.1h0M94.4 392.5h0M73.3 396.6h0M106.1 397.5h0M123.6 394.9h0M94.0 397.0h0M100.2 386.8h0M82.4 392.0h0M101.0 396.4h0M130.0 393.9h0M144.8 400.3h0M95.4 406.0h0M89.6 392.4h0M73.5 401.5h0M81.5 400.0h0M130.5 386.5h0M100.8 394.5h0M85.5 395.5h0M124.1 402.1h0M102.1 397.7h0M101.4 407.1h0M121.3 398.0h0M105.8 396.3h0M137.6 398.5h0M129.7 390.2h0M78.7 392.7h0M112.3 393.0h0M83.4 398.7h0M131.8 397.2h0M125.0 393.1h0M110.5 392.7h0M109.1 398.2h0M133.9 393.8h0M125.2 393.6h0M153.0 394.0h0M99.1 395.5h0M117.9 396.0h0M143.2 385.6h0M130.3 388.3h0M103.9 394.3h0M105.2 397.9h0M106.1 397.6h0M144.7 394.7h0M110.7 391.8h0M81.8 397.2h0M126.6 404.4h0M132.8 399.3h0M88.6 402.7h0M120.7 397.4h0M139.4 395.0h0M122.3 394.7h0M109.9 396.0h0M137.5 399.7h0M111.7 395.5h0M97.4 397.5h0M114.1 397.6h0M69.1 389.3h0M106.5 390.8h0M109.2 401.4h0M127.7 388.9h0M88.9 391.7h0M112.0 401.2h0M130.1 400.1h0M100.0 390.2h0M84.8 393.6h0M109.5 398.3h0M106.8 399.4h0M105.3 394.7h0M107.1 393.3h0M116.8 396.3h0M107.1 396.8h0M100.0 397.4h0M132.3 395.9h0M77.9 400.2h0M122.0 395.0h0M149.1 393.6h0M91.3 396.6h0M123.9 393.8h0M119.8 387.6h0M133.6 391.7h0M140.4 394.1h0M72.2 389.2h0M117.5 396.1h0M129.0 396.5h0M139.7 390.1h0M153.2 392.2h0M101.3 396.3h0M100.6 393.7h0M85.2 394.6h0M99.2 387.4h0M84.5 391.8h0M104.9 400.7h0M89.8 392.3h0M119.9 391.3h0M117.9 397.0h0M106.2 396.6h0M92.9 386.1h0M121.5 396.5h0M103.6 395.6h0M113.1 397.9h0M101.4 390.8h0M109.8 393.8h0M129.6 399.4h0M129.1 390.9h0M94.9 400.0h0M111.4 399.2h0M77.7 405.4h0M134.5 393.5h0M124.1 393.2h0M115.9 401.2h0M138.3 397.0h0M113.5 392.1h0M137.8 395.4h0M119.5 394.0h0M129.6 397.1h0M116.8 399.9h0M130.0 391.2h0M103.3 400.6h0M134.9 396.2h0M121.8 400.1h0M106.3 392.3h0M91.1 391.9h0M123.3 394.5h0M130.7 389.7h0M97.7 395.7h0M161.1 392.7h0M84.2 395.4h0M85.8 397.5h0M126.4 396.4h0M103.5 392.4h0M103.2 398.1h0M92.6 392.5h0M97.1 396.8h0M69.3 398.9h0M116.0 396.0h0M139.7 401.8h0M135.0 400.2h0M117.2 400.4h0M110.1 385.1h0M107.0 401.4h0M76.3 395.7h0M114.5 404.2h0M137.2 402.6h0M113.3 394.4h0M103.7 395.5h0M104.1 391.5h0M89.1 397.8h0M139.2 393.3h0M125.0 396.0h0M114.4 405.1h0M119.6 400.2h0M71.8 399.6h0M103.5 398.8h0M89.8 400.0h0M140.0 396.8h0M115.1 391.2h0M123.1 395.7h0M97.6 390.8h0M104.7 393.3h0M108.2 395.5h0M77.4 402.4h0M132.7 398.4h0M100.3 400.4h0M78.5 393.7h0M110.5 395.4h0M146.4 394.5h0M99.8 399.4h0M108.0 392.2h0M111.5 393.0h0M143.2 395.2h0M112.0 399.8h0M136.5 398.1h0M83.4 399.0h0M125.0 392.8h0M116.8 400.1h0M88.7 393.9h0M105.1 394.0h0M110.0 396.4h0M92.8 394.0h0M122.8 405.0h0M106.6 395.2h0M79.5 396.4h0M98.5 394.1h0M131.2 392.9h0M132.7 399.6h0M120.2 392.5h0M134.9 396.7h0M124.4 395.3h0M57.9 394.5h0M72.3 399.6h0M139.5 401.7h0M129.3 401.2h0M119.4 390.1h0M123.1 394.0h0M119.7 394.8h0M124.3 402.1h0M93.7 399.7h0M97.1 395.9h0M95.3 391.8h0M79.9 389.8h0M119.1 398.8h0M85.4 396.6h0M91.2 395.9h0M132.0 405.8h0M79.5 404.0h0M104.9 402.0h0M114.2 401.5h0M118.7 393.1h0M88.7 396.9h0M93.4 391.4h0M161.1 395.1h0M107.3 395.7h0M139.8 388.5h0M133.2 397.3h0M142.4 399.8h0M117.8 394.3h0M124.2 399.4h0M115.6 399.2h0M124.8 397.0h0M113.5 394.6h0M76.9 400.6h0M107.1 399.3h0M119.4 400.3h0M156.9 397.5h0M114.7 399.5h0M105.3 395.5h0M122.6 397.3h0M141.6 403.9h0M103.7 392.8h0M55.5 397.0h0M105.4 398.8h0M97.5 387.6h0M124.6 400.4h0M102.2 394.0h0M134.0 393.9h0M128.4 400.6h0M131.3 392.8h0M105.4 401.6h0M84.4 393.3h0M103.3 398.8h0M150.0 395.2h0M121.1 396.5h0M108.5 402.0h0M85.5 397.9h0M103.8 397.3h0M100.8 393.6h0M95.9 405.0h0M108.7 395.3h0M145.6 393.5h0M115.1 400.1h0M116.3 399.8h0M136.1 396.7h0M108.3 395.2h0M112.4 405.1h0M110.4 403.2h0M145.1 399.6h0M110.1 395.5h0M119.8 392.7h0M114.0 398.5h0M91.9 395.6h0M102.6 396.0h0M155.3 396.4h0M127.7 398.4h0M119.4 394.3h0M89.7 399.7h0M126.2 401.2h0M106.9 407.2h0M102.1 395.4h0M133.9 390.4h0M98.4 399.7h0M103.8 398.3h0M127.7 401.9h0M130.8 397.0h0M118.1 386.8h0M133.6 396.7h0M60.0 394.8h0M119.6 397.0h0M112.4 387.3h0M105.7 400.2h0M106.7 398.7h0M89.0 390.8h0M106.6 395.8h0M105.3 399.7h0M127.9 401.2h0M137.7 395.7h0M110.2 396.9h0M95.6 406.1h0M111.5 400.2h0M122.0 392.4h0M78.7 398.7h0M121.2 396.6h0M96.0 399.0h0M139.3 399.5h0M112.8 395.8h0M133.9 397.5h0M97.7 394.4h0M103.6 389.9h0M130.6 388.8h0M102.8 397.9h0M135.8 390.0h0M117.6 404.2h0M97.6 394.5h0M91.3 395.2h0M110.8 394.7h0M111.7 397.1h0M99.6 398.1h0M94.2 391.2h0M109.4 398.7h0M127.9 404.0h0M116.2 398.8h0M111.9 401.7h0M120.0 397.9h0M117.5 402.3h0M107.4 393.2h0M80.5 393.8h0M101.2 402.7h0M122.4 390.9h0M106.2 398.3h0M115.4 389.4h0M103.4 389.7h0M133.3 397.4h0M109.3 405.0h0M147.7 398.1h0M105.7 404.2h0M100.1 397.4h0M107.4 391.3h0M89.0 397.4h0M78.6 401.5h0M103.6 397.5h0M105.1 396.4h0M92.8 399.0h0M105.5 391.1h0M112.9 391.1h0M87.6 398.1h0M95.6 397.9h0M114.4 396.4h0M118.6 391.0h0M84.5 393.8h0M100.0 404.8h0M100.5 393.1h0M142.4 400.5h0M109.6 395.9h0M97.4 398.2h0M89.4 395.7h0M112.4 397.8h0M124.6 384.3h0M89.5 397.6h0M91.1 398.6h0M93.9 401.3h0M72.2 392.8h0M121.9 399.8h0M104.1 395.8h0M100.3 393.7h0M117.8 391.5h0M106.9 396.5h0M102.9 389.8h0M139.3 393.5h0M81.0 393.4h0M114.1 386.9h0M90.1 394.8h0M77.0 391.6h0M133.8 395.7h0M122.4 386.8h0M74.1 389.7h0M133.4 403.1h0M93.0 398.3h0M123.8 392.1h0M128.0 397.1h0M117.1 396.4h0M77.1 395.5h0M99.6 397.4h0M123.2 395.6h0M89.6 388.6h0M76.0 399.8h0M100.8 405.4h0M125.2 393.6h0M130.8 406.0h0M92.1 394.6h0M78.5 392.7h0M107.7 397.9h0M135.8 393.1h0M104.3 396.2h0M153.1 401.3h0M113.9 400.2h0M108.9 405.3h0M102.2 387.7h0M108.1 397.7h0M144.3 400.4h0M94.9 397.0h0M105.9 391.0h0M117.9 393.9h0M115.2 394.5h0M90.1 398.1h0M152.9 397.1h0M109.1 398.4h0M94.9 397.1h0M123.4 392.2h0M152.0 392.3h0M131.8 396.6h0M139.7 402.1h0M94.9 402.1h0M67.6 394.2h0M79.3 403.7h0M115.8 396.6h0M72.5 395.9h0M116.0 395.6h0M95.7 402.7h0M91.3 402.7h0M120.4 396.1h0M91.8 390.2h0M117.2 401.9h0M118.9 399.7h0M140.8 396.1h0M98.4 396.4h0M129.0 401.3h0M109.8 394.6h0M96.1 393.9h0M94.5 397.5h0M99.9 398.8h0M77.8 389.7h0M108.2 391.2h0M119.4 395.8h0M90.2 391.8h0M107.7 398.0h0M128.8 403.8h0M102.5 392.2h0M102.7 396.1h0M90.0 392.2h0M132.6 404.2h0M106.3 399.8h0M144.7 396.1h0M128.5 391.2h0M111.9 396.6h0M84.3 396.9h0M116.8 394.9h0M122.9 391.5h0M96.7 396.8h0M83.2 402.6h0M90.9 394.1h0M105.3 401.4h0M156.7 396.1h0M121.7 394.4h0M103.8 394.9h0M64.8 396.0h0M141.8 395.5h0M95.1 400.8h0M105.0 405.3h0M100.9 395.7h0M140.4 401.8h0M126.0 394.2h0M97.7 395.8h0M124.4 393.9h0M112.2 391.4h0M146.0 402.9h0M99.4 385.0h0M92.3 399.0h0M127.8 396.4h0M129.9 392.6h0M92.4 400.0h0M96.8 394.9h0M125.3 397.2h0M158.3 395.0h0M98.2 392.6h0M130.6 396.1h0M135.7 397.3h0M124.7 395.5h0M62.7 396.3h0M119.3 397.2h0M106.4 391.2h0M100.6 385.9h0M130.9 390.8h0M120.4 396.3h0M101.4 403.2h0M80.4 393.3h0M98.5 387.6h0M88.4 398.3h0M127.3 394.2h0M90.5 407.1h0M125.1 402.1h0M129.9 392.5h0M110.5 397.5h0M122.3 388.1h0M137.4 388.6h0M116.5 398.7h0M138.0 395.0h0M108.2 399.4h0M119.0 388.3h0M96.6 398.5h0M120.3 397.4h0M108.5 393.2h0M90.7 392.4h0M102.0 398.6h0M99.1 402.8h0M115.0 399.1h0M89.6 400.1h0M95.5 393.5h0M53.4 398.7h0M121.0 396.5h0M80.0 402.6h0M107.8 399.5h0M121.3 393.7h0M122.5 395.0h0M128.8 402.2h0M106.9 400.0h0M101.2 399.1h0M126.7 402.0h0M100.2 400.1h0M101.9 397.9h0M112.8 395.5h0M111.0 396.4h0M114.8 400.3h0M114.4 394.2h0M122.2 398.9h0M124.8 404.3h0M128.7 400.4h0M64.7 399.8h0M90.0 400.6h0M91.0 399.0h0M143.3 398.4h0M116.2 400.1h0M88.6 390.1h0M88.6 393.3h0M100.5 407.9h0M104.7 390.2h0M150.1 389.0h0M143.2 393.4h0M96.3 395.4h0M134.7 395.1h0M122.7 393.6h0M100.0 393.0h0M104.5 398.1h0M75.6 399.8h0M93.3 401.5h0M137.9 394.7h0M100.1 400.2h0M141.7 393.7h0M132.1 400.0h0M97.8 392.9h0M120.0 396.5h0M160.7 398.2h0M135.3 391.8h0M107.4 393.4h0M150.5 393.2h0M109.0 401.8h0M104.9 392.1h0M121.7 393.9h0M126.2 400.1h0M99.6 393.6h0M97.1 398.0h0M149.5 399.0h0M93.4 388.2h0M103.2 395.6h0M92.0 390.9h0M105.9 398.7h0M103.5 402.9h0M137.8 401.3h0M101.9 394.5h0M145.6 399.2h0M107.3 395.1h0M125.7 387.4h0M112.0 399.3h0M56.6 395.2h0M110.4 398.3h0M130.2 394.9h0M133.4 395.9h0M124.3 402.4h0M123.7 390.1h0M135.8 399.4h0M92.6 399.3h0M95.5 389.9h0M123.9 396.4h0M126.4 390.0h0M136.2 400.1h0M111.2 393.7h0M93.7 393.2h0M100.8 392.6h0M103.7 403.0h0M93.3 390.0h0M67.7 395.6h0M96.6 404.9h0M90.5 397.6h0M125.2 400.1h0M93.4 396.4h0M141.1 400.7h0M86.0 391.2h0M109.0 400.8h0M84.1 393.6h0M125.5 402.3h0M116.6 400.2h0M127.9 400.1h0M127.9 402.1h0M152.5 389.0h0M86.9 388.6h0M117.4 392.5h0M101.4 404.4h0M108.9 391.4h0M119.9 387.9h0M115.9 397.8h0M66.4 400.1h0M101.1 398.0h0M146.7 400.0h0M119.6 395.0h0M132.4 399.8h0M97.0 392.1h0M96.0 391.7h0M117.9 395.3h0M134.4 394.2h0M88.1 398.5h0M116.0 395.3h0M134.1 396.8h0M135.9 400.4h0M100.3 393.9h0M108.0 392.9h0M79.6 400.7h0M86.4 397.6h0M119.3 396.7h0M100.3 403.3h0M94.8 392.0h0M74.6 392.5h0M114.8 410.1h0M121.8 396.8h0M114.6 402.0h0M143.0 399.8h0M79.5 395.0h0M109.9 390.9h0M109.6 399.9h0M127.9 404.2h0M93.6 401.2h0M156.3 399.7h0M149.5 392.9h0M103.2 398.8h0M76.3 392.9h0M98.5 394.3h0M107.4 400.4h0M113.5 401.1h0M103.1 395.0h0M92.4 397.1h0M131.6 399.4h0M117.3 398.5h0M94.4 396.8h0M138.3 395.1h0M90.9 397.0h0M121.6 397.1h0M76.0 401.2h0M133.4 402.8h0M119.3 399.6h0M132.8 400.1h0M122.7 396.6h0M116.7 404.5h0M140.4 396.8h0M124.0 395.8h0M99.3 400.8h0M124.8 400.0h0M87.9 401.1h0M116.4 396.3h0M91.3 403.5h0M120.9 394.6h0M90.3 399.7h0M115.8 399.9h0M90.4 401.6h0M140.5 396.9h0M112.0 400.4h0M119.0 397.3h0M78.3 399.4h0M110.1 393.0h0M110.5 402.1h0M117.0 397.4h0M125.7 393.5h0M117.4 398.1h0M101.7 399.9h0M111.3 403.9h0M91.2 400.4h0M102.4 394.5h0M109.8 398.2h0M143.4 396.7h0M74.2 395.3h0M95.0 388.8h0M93.5 392.0h0M125.0 401.5h0M126.6 391.8h0M96.8 386.3h0M122.6 397.4h0M163.1 390.6h0M114.1 401.1h0M121.8 399.8h0M120.0 392.6h0M121.8 401.1h0M101.0 403.3h0M125.9 392.1h0M86.5 398.0h0M108.8 393.8h0M90.2 393.4h0M134.2 397.5h0M124.9 394.6h0M101.2 399.0h0M98.3 406.5h0M115.5 404.0h0M66.5 395.6h0M91.4 394.3h0M106.1 395.3h0M112.0 399.8h0M120.1 397.1h0M100.4 399.8h0M145.4 399.6h0M123.6 402.2h0M94.7 403.4h0M89.9 392.9h0M104.7 396.3h0M107.0 402.8h0M133.5 392.2h0M123.3 393.1h0M135.7 398.8h0M80.5 395.8h0M99.1 391.3h0M94.9 391.7h0M132.8 396.9h0M85.1 401.0h0M78.7 394.4h0M118.8 396.5h0M117.4 393.5h0M125.0 398.9h0M88.2 403.3h0M124.8 393.5h0M89.4 406.2h0M122.7 387.8h0M104.3 403.7h0M96.3 398.6h0M129.7 396.9h0M115.2 407.9h0M116.3 397.7h0M84.1 400.8h0M103.3 398.6h0M78.7 391.7h0M92.8 398.5h0M119.4 396.0h0M112.8 386.7h0M111.9 402.3h0M96.6 403.7h0M138.1 401.1h0M106.6 390.9h0M96.7 395.8h0M73.0 396.9h0M76.3 402.1h0M112.4 402.2h0M97.6 397.1h0M144.8 401.9h0M121.1 393.5h0M123.6 399.3h0M54.3 396.8h0M83.3 396.0h0M134.6 389.0h0M119.0 398.8h0M99.3 405.0h0M113.4 394.5h0M98.7 391.5h0M133.0 398.1h0M152.4 395.5h0M65.8 398.1h0M139.1 396.7h0M110.2 386.9h0M85.2 398.3h0M162.0 394.2h0M107.2 395.7h0M69.1 397.5h0M96.8 393.4h0M122.3 397.9h0M135.7 397.4h0M106.1 400.9h0M136.6 393.2h0M129.6 395.8h0M84.5 397.4h0M96.3 401.0h0M122.7 397.8h0M125.3 407.5h0M141.7 403.2h0M100.9 393.8h0M105.5 397.5h0M156.6 397.2h0M113.2 392.6h0M88.5 392.0h0M123.3 389.6h0M116.9 394.8h0M125.1 402.8h0M98.8 401.1h0M128.7 386.5h0M127.3 398.5h0M94.3 400.4h0M119.0 399.4h0M113.5 399.2h0M125.7 396.4h0M102.2 396.6h0M97.9 401.1h0M78.8 390.5h0M130.1 402.7h0M99.5 401.2h0M114.0 397.5h0M124.8 395.1h0M81.8 399.2h0M130.0 401.8h0M84.8 396.7h0M129.5 395.3h0M114.7 400.6h0M147.4 398.3h0M136.3 398.0h0M105.5 396.3h0M90.2 394.5h0M95.8 398.9h0M96.4 389.9h0M78.7 403.5h0M106.9 393.0h0M102.0 397.1h0M93.4 400.2h0M139.7 401.0h0M85.5 398.4h0M109.9 395.2h0M129.5 395.3h0M70.4 401.2h0M114.0 396.5h0M124.3 398.6h0M72.7 391.0h0M101.2 395.2h0M125.9 393.1h0M96.4 394.2h0M112.8 398.8h0M133.4 396.0h0M116.8 394.5h0M112.6 396.0h0M93.8 389.2h0M143.4 396.3h0M103.2 396.0h0M117.1 391.5h0M117.0 392.8h0M99.5 401.1h0M108.3 400.8h0M113.8 399.1h0M110.2 393.1h0M112.9 397.2h0M112.7 393.8h0M95.8 391.3h0M107.4 398.4h0M96.3 398.3h0M130.5 396.9h0M109.6 392.3h0M138.7 403.0h0M134.0 407.8h0M113.3 394.6h0M117.7 400.8h0M138.4 402.1h0M122.9 394.1h0M81.0 398.4h0M129.7 395.7h0M125.8 400.8h0M82.9 390.9h0M82.9 399.9h0M119.2 397.7h0M102.5 398.3h0M115.0 403.3h0M101.2 398.5h0M119.1 400.2h0M109.8 389.7h0M116.4 395.6h0M106.6 393.2h0M99.7 390.2h0M124.4 395.9h0M79.5 393.9h0M105.6 399.2h0M150.8 396.7h0M111.8 396.0h0M109.7 400.9h0M125.5 395.0h0M104.3 400.4h0M117.8 397.7h0M79.7 397.5h0M127.8 396.3h0M101.4 398.9h0M101.1 393.7h0M109.8 398.6h0M111.5 399.9h0M107.0 397.1h0M120.5 392.3h0M97.1 396.4h0M99.3 397.2h0M110.3 388.6h0M78.0 400.0h0M127.1 404.1h0M91.2 400.7h0M115.3 403.5h0M112.5 402.3h0M118.2 402.3h0M96.4 396.2h0M109.9 405.7h0M55.6 393.7h0M138.4 389.6h0M128.4 393.0h0M102.0 396.3h0M83.5 396.0h0M124.0 396.5h0M85.1 393.9h0M107.8 397.9h0M83.6 398.6h0M121.1 393.9h0M140.0 396.2h0M98.9 393.6h0M127.9 395.7h0M104.3 401.5h0M133.1 389.8h0M111.0 397.7h0M99.9 393.3h0M84.7 396.0h0M106.7 403.8h0M124.2 391.3h0M96.8 401.8h0M154.9 394.4h0M84.9 404.6h0M105.9 392.0h0M127.1 397.9h0M113.2 394.3h0M129.4 393.3h0M111.0 394.9h0M106.2 394.5h0M60.8 393.0h0M122.9 390.8h0M101.5 397.7h0M117.4 399.7h0M99.4 400.5h0M115.2 401.3h0M116.5 398.2h0M106.2 391.1h0M105.7 393.6h0M88.9 393.7h0M121.7 401.3h0M85.4 396.4h0M124.2 396.6h0M123.7 397.6h0M109.1 399.3h0M109.2 402.2h0M162.5 392.8h0M101.2 397.9h0M96.4 398.2h0M120.8 401.8h0M100.9 397.7h0M113.1 400.4h0M97.8 396.5h0M127.0 404.3h0M86.3 392.5h0M74.4 399.0h0M103.9 409.0h0M125.2 396.4h0M131.2 398.0h0M97.2 398.2h0M113.1 394.2h0M114.3 392.8h0M89.8 396.6h0M129.3 400.5h0M92.0 404.4h0M130.0 401.1h0M101.8 392.4h0M133.5 392.4h0M129.3 393.4h0M113.6 399.7h0M117.7 403.5h0M122.1 396.3h0M124.2 395.5h0M113.7 394.6h0M123.7 398.0h0M143.9 395.9h0M91.2 397.7h0M111.0 397.4h0M118.2 399.8h0M136.8 396.5h0M75.9 392.2h0M116.3 395.0h0M143.6 397.6h0M87.6 401.9h0M139.9 392.5h0M112.1 401.3h0M122.4 397.5h0M135.7 397.8h0M118.9 396.7h0M118.0 392.6h0M143.8 388.1h0M145.4 392.3h0M105.2 397.8h0M166.9 393.6h0M99.8 396.8h0M118.4 397.5h0M118.1 396.0h0M69.1 396.8h0M134.9 391.3h0M100.1 405.5h0M109.7 397.2h0M155.6 396.4h0M138.3 392.1h0M116.8 394.4h0M106.7 398.5h0M102.3 398.6h0M112.5 390.2h0M119.7 400.0h0M125.9 395.4h0M105.8 399.7h0M125.6 394.9h0M105.0 400.9h0M96.6 389.9h0M74.2 397.6h0M129.1 392.0h0M138.3 396.2h0M90.5 400.2h0M122.8 397.1h0M105.7 400.5h0M99.8 395.5h0M141.2 400.0h0M125.7 406.5h0M121.2 392.0h0M84.0 402.0h0M133.7 394.8h0M84.3 398.7h0M124.7 401.3h0M134.2 390.9h0M138.5 394.8h0M123.8 397.1h0M154.0 400.8h0M125.1 398.0h0M107.3 394.3h0M119.4 384.0h0M81.2 395.4h0M126.4 394.5h0M77.2 396.4h0M111.0 395.8h0M117.0 403.2h0M117.9 399.1h0M104.7 396.7h0M149.7 398.6h0M109.7 392.0h0M166.4 390.9h0M116.2 395.1h0M133.1 396.6h0M126.3 398.8h0M74.6 395.4h0M153.9 394.2h0M108.2 400.2h0M129.6 395.0h0M87.6 395.0h0M132.7 397.8h0M120.8 397.3h0M97.8 396.2h0M130.6 398.7h0M95.5 395.4h0M144.5 395.0h0M75.2 389.2h0M126.9 388.8h0M98.5 396.9h0M117.8 399.8h0M138.9 391.0h0M121.3 395.6h0M70.3 400.6h0M131.5 395.6h0M91.0 400.1h0M82.0 398.2h0M123.6 400.7h0M106.3 407.9h0M145.3 391.1h0M112.9 397.4h0M118.8 398.2h0M99.9 398.1h0M92.6 392.4h0M97.7 397.5h0M115.2 400.0h0M115.0 392.4h0M89.3 394.1h0M120.0 389.3h0M95.2 392.5h0M127.1 401.0h0M117.7 397.0h0M112.6 401.1h0M102.9 399.3h0M143.5 396.1h0M116.6 401.0h0M143.1 401.2h0M95.7 395.5h0M117.8 390.3h0M93.3 405.2h0M138.0 402.5h0M112.0 396.0h0M108.8 397.6h0M110.0 389.9h0M91.9 402.3h0M97.0 394.5h0M114.2 404.5h0M124.3 391.8h0M76.0 394.0h0M99.5 401.8h0M87.5 402.4h0M62.9 392.7h0M132.1 392.1h0M116.4 391.7h0M76.2 395.0h0M124.6 398.5h0M148.1 392.3h0M108.0 395.4h0M132.5 394.6h0M140.3 396.0h0M100.1 396.9h0M80.0 398.6h0M98.2 399.2h0M106.9 401.3h0M115.5 400.0h0M103.8 394.5h0M120.9 391.2h0M96.3 401.4h0M106.6 401.1h0M122.0 398.8h0M105.2 396.0h0M128.7 395.9h0M125.7 397.7h0M115.6 393.4h0M102.8 397.8h0M118.6 388.6h0M133.1 399.6h0M108.1 396.1h0M105.7 387.7h0M138.1 398.1h0M95.2 390.5h0M127.5 396.6h0M72.3 393.7h0M124.3 394.6h0M99.5 389.1h0M102.0 400.4h0M102.2 404.4h0M125.4 395.7h0M123.2 396.4h0M112.9 393.8h0M53.8 395.9h0M78.9 398.3h0M103.6 398.5h0M89.0 390.4h0M145.4 396.6h0M130.4 393.9h0M124.6 394.1h0M92.9 398.5h0M86.7 393.3h0M113.9 404.9h0M114.7 398.2h0M113.9 402.5h0M81.9 398.5h0M148.0 394.6h0M124.0 396.4h0M128.7 395.4h0M122.1 393.5h0M116.9 398.4h0M115.8 399.9h0M98.6 404.6h0M117.0 399.2h0M98.9 393.9h0M125.2 395.4h0M109.0 396.1h0M117.5 399.9h0M116.4 398.8h0M136.1 392.6h0M136.4 396.1h0M69.5 394.9h0M131.7 396.9h0M118.2 399.6h0M140.5 394.0h0M125.8 394.0h0M103.0 396.7h0M76.8 400.0h0M136.9 394.0h0M130.0 390.2h0M133.0 396.1h0M120.6 394.7h0M74.6 395.2h0M144.1 398.5h0M97.8 392.0h0M120.9 399.5h0M86.5 401.0h0M97.8 391.5h0M79.2 394.6h0M133.1 406.5h0M79.3 393.2h0M110.8 398.6h0M92.8 405.5h0M122.7 403.2h0M107.6 398.5h0M130.6 395.4h0M128.2 395.9h0M85.6 401.0h0M114.3 388.4h0M120.4 400.3h0M107.6 391.2h0M95.4 399.3h0M112.0 401.6h0M141.6 399.0h0M98.3 398.3h0M101.1 404.4h0M125.6 394.6h0M72.7 397.2h0M114.5 400.9h0M87.6 398.6h0M155.4 399.4h0M62.5 392.0h0M95.8 395.9h0M93.3 396.4h0M97.9 396.2h0M74.0 395.3h0M74.6 392.2h0M68.6 397.9h0M90.9 389.6h0M130.9 400.6h0M99.4 399.9h0M147.9 391.6h0M119.9 394.9h0M90.3 398.4h0M126.1 402.1h0M92.2 400.1h0M144.0 398.4h0M139.9 403.8h0M101.2 396.1h0M117.7 397.6h0M131.9 397.2h0M107.7 397.9h0M125.9 392.2h0M116.1 398.2h0M101.5 400.0h0M108.4 395.9h0M84.0 391.6h0M120.7 391.3h0M88.2 392.9h0M88.7 399.5h0M117.6 401.5h0M79.7 396.5h0M115.8 395.7h0M94.2 402.8h0M120.9 400.0h0M127.4 396.8h0M140.8 398.5h0M123.8 398.0h0M80.8 399.5h0M126.8 399.4h0M131.8 399.2h0M93.5 393.9h0M96.8 403.1h0M76.3 400.1h0M119.5 405.1h0M119.2 392.4h0M111.3 390.6h0M141.8 400.9h0M99.4 398.1h0M83.8 392.9h0M110.9 398.1h0M80.5 387.3h0M89.3 400.0h0M120.9 397.9h0M100.9 396.2h0M111.4 394.4h0M141.8 395.5h0M108.3 399.8h0M125.7 396.4h0M114.7 393.3h0M137.5 392.1h0M132.7 391.3h0M105.3 398.1h0M142.8 388.5h0M138.7 396.0h0M139.5 397.3h0M99.5 398.4h0M74.5 393.5h0M113.1 399.8h0M142.1 395.2h0M91.6 392.3h0M107.3 403.3h0M135.6 404.5h0M99.8 394.3h0M130.0 395.3h0M137.1 393.9h0M119.4 394.9h0M94.6 400.0h0M83.1 393.0h0M65.2 392.9h0M91.2 400.5h0M122.4 391.9h0M142.9 394.4h0M84.6 394.0h0M111.3 398.0h0M86.7 400.0h0M95.9 402.2h0M73.8 399.2h0M131.6 392.9h0M100.1 400.9h0M123.9 399.4h0M114.6 394.2h0M113.9 402.9h0M120.6 407.2h0M119.0 401.7h0M110.4 399.2h0M118.1 409.0h0M128.1 398.5h0M130.4 399.7h0M117.7 404.2h0M98.2 400.6h0M110.0 409.1h0M109.0 400.4h0M116.1 402.3h0M103.2 398.9h0M121.6 405.3h0M102.1 393.9h0M106.0 406.5h0M118.0 400.6h0M113.8 401.4h0M119.4 397.7h0M94.7 399.9h0M112.4 406.4h0M96.8 406.4h0M111.7 399.8h0M113.0 397.1h0M122.0 401.1h0M100.0 403.3h0M122.7 398.4h0M129.8 404.2h0M123.2 396.1h0M106.7 406.4h0M111.1 395.5h0M113.5 400.3h0M117.1 398.1h0M112.9 404.0h0M98.7 402.1h0M93.7 401.3h0M106.8 397.3h0M114.2 397.3h0M111.2 400.8h0M120.3 402.7h0M99.8 408.3h0M105.1 399.4h0M85.4 403.7h0M102.6 402.5h0M114.0 408.0h0M124.4 403.2h0M119.3 405.0h0M116.7 403.4h0M117.3 411.4h0M116.6 406.4h0M114.2 402.6h0M114.1 402.7h0M102.2 407.9h0M107.9 399.8h0M108.5 407.4h0M115.2 407.7h0M116.7 402.8h0M115.7 399.5h0M128.3 396.7h0M126.8 404.2h0M122.0 399.8h0M108.5 395.5h0M117.7 402.3h0M99.9 407.4h0M121.0 394.6h0M107.7 400.0h0M118.8 400.9h0M104.3 410.0h0M109.1 404.7h0M115.6 410.1h0M126.0 394.1h0M132.2 397.8h0M130.2 401.4h0M117.4 398.8h0M97.9 405.9h0M108.7 402.7h0M111.4 402.4h0M116.2 396.2h0M107.1 397.7h0M118.3 404.1h0M113.2 399.9h0M102.0 397.8h0M95.8 402.5h0M113.7 408.8h0M99.8 407.3h0M87.5 397.0h0M108.5 404.7h0M104.6 405.9h0M113.5 401.9h0M100.6 399.2h0M121.7 399.4h0M100.9 404.9h0M75.9 395.5h0M113.3 403.3h0M97.4 398.6h0M111.5 407.5h0M121.4 395.7h0M87.2 400.7h0M106.3 403.2h0M100.4 400.4h0M119.2 396.5h0M117.7 399.6h0M136.7 403.2h0M118.7 408.3h0M114.7 407.9h0M113.3 402.0h0M113.8 392.1h0M131.5 400.1h0M112.7 399.8h0M121.8 400.5h0M102.6 401.3h0M104.8 397.9h0M95.5 396.4h0M114.5 395.1h0M114.6 406.3h0M101.4 409.2h0M108.1 397.5h0M119.4 400.1h0M117.5 402.4h0M109.1 400.8h0M109.9 404.4h0M110.0 400.5h0M110.5 401.5h0M120.0 403.3h0M118.7 400.3h0M110.4 404.2h0M103.5 407.2h0M122.4 400.6h0M120.0 406.0h0M130.5 406.4h0M118.5 408.0h0M101.0 398.2h0M108.7 400.9h0M104.5 403.4h0M116.5 390.9h0M105.2 403.1h0M95.7 399.0h0M85.4 399.1h0M104.8 401.3h0M101.2 400.6h0M120.4 402.8h0M111.3 403.6h0M101.1 399.0h0M93.2 398.6h0M114.6 403.8h0M114.4 405.5h0M109.1 400.5h0M117.3 402.3h0M100.7 401.9h0M120.3 405.6h0M112.3 401.9h0M117.1 393.2h0M111.6 402.1h0M123.6 402.6h0M109.9 396.2h0M122.3 400.5h0M125.6 403.4h0M114.9 405.7h0M100.7 393.2h0M117.8 401.4h0M125.5 391.3h0M110.0 395.8h0M121.1 404.1h0M90.9 401.5h0M104.8 402.5h0M121.6 403.4h0M99.8 403.3h0M124.7 407.3h0M96.7 405.4h0M125.5 401.7h0M112.2 404.1h0M122.3 408.7h0M110.8 400.3h0M114.7 403.9h0M114.6 398.7h0M126.0 399.2h0M113.4 401.7h0M130.2 404.3h0M121.0 406.7h0M116.7 406.8h0M107.4 404.8h0M114.8 406.7h0M107.2 397.9h0M122.1 408.3h0M102.7 397.8h0M134.9 398.7h0M134.0 398.7h0M94.6 402.5h0M106.5 401.1h0M112.5 403.2h0M97.6 402.5h0M109.7 402.9h0M131.6 395.5h0M137.5 394.6h0M129.8 390.7h0M139.9 396.8h0M123.0 389.0h0M77.3 399.1h0M95.9 401.6h0M112.7 404.0h0M87.4 391.2h0M131.0 399.6h0M125.9 398.5h0M91.6 395.0h0M108.1 399.5h0M104.8 398.6h0M92.0 396.0h0M119.1 392.0h0M111.5 404.2h0M107.0 403.1h0M108.2 399.9h0M142.7 396.6h0M143.0 390.8h0M155.6 400.0h0M94.1 395.7h0M79.9 398.6h0M112.7 395.7h0M90.1 392.2h0M68.0 390.7h0M97.1 395.9h0M103.9 391.5h0M113.9 401.0h0M164.5 393.6h0M100.3 401.4h0M102.6 394.3h0M85.2 395.8h0M156.1 399.5h0M125.0 398.0h0M103.2 390.0h0M139.9 391.5h0M144.2 397.9h0M107.9 393.9h0M74.9 400.2h0M105.7 398.6h0M73.1 392.0h0M119.7 406.7h0M117.0 394.2h0M133.2 388.8h0M121.4 396.3h0M120.3 385.2h0M132.7 389.2h0M125.9 395.8h0M85.1 390.6h0M125.2 393.6h0M124.4 388.5h0M130.2 397.3h0M90.9 392.2h0M134.1 403.2h0M101.4 394.8h0M97.1 391.9h0M86.6 400.9h0M118.2 393.1h0M128.9 401.1h0M97.0 388.2h0M142.9 401.8h0M75.7 395.9h0M140.9 396.0h0M84.8 397.7h0M103.5 399.6h0M63.9 393.3h0M118.6 399.6h0M120.2 395.1h0M70.3 390.1h0M85.1 401.6h0M68.1 400.1h0M117.0 396.5h0M129.4 395.6h0M71.3 392.5h0M158.8 397.6h0M108.7 389.7h0M67.7 398.6h0M93.4 403.1h0M89.7 393.3h0M113.3 397.3h0M94.7 399.5h0M109.6 396.1h0M129.1 394.3h0M88.3 394.4h0M86.1 402.3h0M95.6 401.5h0M153.0 397.4h0M131.2 395.9h0M107.3 403.5h0M129.6 397.5h0M152.0 394.2h0M111.3 397.5h0M113.7 390.3h0M106.6 397.0h0M93.5 387.9h0M152.5 390.2h0M130.8 392.3h0M142.9 396.8h0M102.1 395.1h0M106.0 395.1h0M112.9 392.9h0M130.4 389.5h0M74.8 398.3h0M145.9 390.4h0M139.7 396.6h0M70.1 391.4h0M141.1 390.8h0M128.1 394.2h0M129.9 399.0h0M113.7 386.5h0M75.8 390.0h0M126.6 387.0h0M86.5 401.0h0M80.9 396.5h0M186.2 394.1h0M127.2 386.5h0M83.0 399.6h0M99.8 390.6h0M109.8 388.0h0M125.6 386.1h0M136.6 400.6h0M168.9 392.9h0M133.6 385.3h0M123.4 384.6h0M148.8 399.0h0M122.6 387.5h0M120.8 391.3h0M100.9 397.2h0M98.1 388.9h0M129.6 393.8h0M131.8 391.9h0M144.8 397.9h0M94.4 386.2h0M154.5 402.4h0M113.0 382.8h0M134.5 385.2h0M114.7 395.6h0M86.5 393.5h0M77.0 394.2h0M133.0 385.9h0M115.3 383.6h0M120.9 396.1h0M125.0 393.7h0M87.4 396.8h0M57.2 394.7h0M135.1 393.1h0M96.4 401.4h0M130.2 385.3h0M53.6 399.6h0M120.4 398.0h0M132.2 383.6h0M69.5 396.8h0M129.4 401.0h0M104.4 399.5h0M158.6 393.0h0M145.4 387.7h0M109.6 384.3h0M117.4 388.7h0M149.9 393.4h0M135.2 396.8h0M79.0 386.8h0M88.3 398.6h0M123.9 397.8h0M143.5 392.3h0M119.6 391.2h0M112.8 383.5h0M104.7 389.8h0M147.5 403.3h0M92.6 398.9h0M121.0 391.9h0M75.1 393.0h0M89.7 392.0h0M76.3 390.2h0M137.1 398.1h0M119.2 389.4h0M147.1 395.9h0M87.1 395.0h0M93.5 393.1h0M115.6 391.7h0M87.6 392.7h0M99.9 383.7h0M85.1 387.2h0M74.6 387.6h0M139.6 396.1h0M72.7 394.2h0M154.3 394.1h0M131.9 382.3h0M86.1 387.4h0M79.2 386.4h0M88.6 388.0h0M99.8 387.2h0M80.1 383.6h0M98.0 386.6h0M119.5 387.9h0M164.2 393.4h0M183.9 392.1h0M162.1 395.7h0" stroke="#bbbbbb" stroke-width="2.35" stroke-linecap="round" fill="none"/>
<g fill="#000000" stroke="#000000" stroke-width="0.5">
<circle cx="121.3" cy="324.6" r="2.45"/>
<circle cx="105.2" cy="335.4" r="2.45"/>
<circle cx="106.1" cy="347.7" r="2.45"/>
<circle cx="99.8" cy="354.4" r="2.45"/>
<circle cx="113.3" cy="349.6" r="2.45"/>
<circle cx="115.4" cy="352.1" r="2.45"/>
<circle cx="109.3" cy="353.6" r="2.45"/>
<circle cx="120.9" cy="354.1" r="2.45"/>
<circle cx="103.9" cy="358.2" r="2.45"/>
<circle cx="109.3" cy="358.7" r="2.45"/>
<circle cx="115.9" cy="357.7" r="2.45"/>
<circle cx="118.9" cy="358.7" r="2.45"/>
<circle cx="106.3" cy="363.7" r="2.45"/>
<circle cx="117.9" cy="364.2" r="2.45"/>
<circle cx="121.4" cy="366.8" r="2.45"/>
<circle cx="125.3" cy="362.7" r="2.45"/>
<circle cx="128.5" cy="361.2" r="2.45"/>
<circle cx="99.9" cy="369.0" r="2.45"/>
<circle cx="110.3" cy="367.8" r="2.45"/>
<circle cx="108.8" cy="371.3" r="2.45"/>
<circle cx="107.3" cy="374.3" r="2.45"/>
<circle cx="101.7" cy="376.4" r="2.45"/>
<circle cx="105.3" cy="379.9" r="2.45"/>
<circle cx="109.3" cy="379.4" r="2.45"/>
<circle cx="113.3" cy="378.4" r="2.45"/>
<circle cx="104.2" cy="384.4" r="2.45"/>
<circle cx="111.3" cy="383.4" r="2.45"/>
<circle cx="115.4" cy="382.4" r="2.45"/>
<circle cx="119.9" cy="384.4" r="2.45"/>
<circle cx="109.3" cy="388.0" r="2.45"/>
<circle cx="96.2" cy="388.5" r="2.45"/>
<circle cx="124.4" cy="388.5" r="2.45"/>
<circle cx="84.0" cy="392.9" r="2.45"/>
<circle cx="84.0" cy="398.0" r="2.45"/>
<circle cx="93.1" cy="390.1" r="2.45"/>
<circle cx="92.6" cy="395.0" r="2.45"/>
<circle cx="97.2" cy="391.1" r="2.45"/>
<circle cx="101.2" cy="390.6" r="2.45"/>
<circle cx="104.2" cy="393.1" r="2.45"/>
<circle cx="100.2" cy="395.2" r="2.45"/>
<circle cx="107.3" cy="395.2" r="2.45"/>
<circle cx="111.3" cy="396.2" r="2.45"/>
<circle cx="100.7" cy="399.7" r="2.45"/>
<circle cx="99.2" cy="404.2" r="2.45"/>
<circle cx="112.8" cy="407.3" r="2.45"/>
<circle cx="129.5" cy="386.6" r="2.45"/>
<circle cx="126.5" cy="395.2" r="2.45"/>
<circle cx="104.2" cy="382.0" r="2.45"/>
<circle cx="109.3" cy="382.0" r="2.45"/>
<circle cx="112.3" cy="383.0" r="2.45"/>
<circle cx="106.3" cy="386.0" r="2.45"/>
<circle cx="113.3" cy="386.0" r="2.45"/>
<circle cx="115.4" cy="388.1" r="2.45"/>
<circle cx="148.2" cy="332.8" r="2.45"/>
<circle cx="137.0" cy="347.4" r="2.45"/>
<circle cx="174.9" cy="364.4" r="2.45"/>
<circle cx="157.2" cy="367.2" r="2.45"/>
<circle cx="173.3" cy="372.3" r="2.45"/>
<circle cx="130.0" cy="360.7" r="2.45"/>
<circle cx="121.6" cy="363.1" r="2.45"/>
<circle cx="121.3" cy="367.5" r="2.45"/>
<circle cx="131.6" cy="367.5" r="2.45"/>
<circle cx="133.7" cy="378.5" r="2.45"/>
<circle cx="132.9" cy="380.9" r="2.45"/>
<circle cx="137.4" cy="382.0" r="2.45"/>
<circle cx="120.8" cy="384.1" r="2.45"/>
<circle cx="131.0" cy="386.5" r="2.45"/>
<circle cx="146.7" cy="385.7" r="2.45"/>
<circle cx="149.1" cy="385.3" r="2.45"/>
<circle cx="150.7" cy="387.4" r="2.45"/>
<circle cx="152.3" cy="389.5" r="2.45"/>
<circle cx="136.5" cy="390.6" r="2.45"/>
<circle cx="141.0" cy="389.8" r="2.45"/>
<circle cx="145.0" cy="391.7" r="2.45"/>
<circle cx="154.7" cy="392.2" r="2.45"/>
<circle cx="157.2" cy="392.7" r="2.45"/>
<circle cx="142.3" cy="399.2" r="2.45"/>
<circle cx="134.2" cy="400.3" r="2.45"/>
<circle cx="195.5" cy="402.3" r="2.45"/>
<circle cx="204.1" cy="349.0" r="2.45"/>
<circle cx="226.0" cy="389.1" r="2.45"/>
<circle cx="294.5" cy="361.9" r="2.45"/>
<circle cx="295.8" cy="387.0" r="2.45"/>
<circle cx="108.2" cy="370.0" r="2.45"/>
<circle cx="111.2" cy="367.5" r="2.45"/>
<circle cx="109.2" cy="374.1" r="2.45"/>
<circle cx="106.7" cy="373.1" r="2.45"/>
<circle cx="118.8" cy="367.0" r="2.45"/>
<circle cx="106.2" cy="377.1" r="2.45"/>
<circle cx="108.2" cy="383.7" r="2.45"/>
<circle cx="94.1" cy="390.2" r="2.45"/>
<circle cx="98.1" cy="390.7" r="2.45"/>
<circle cx="108.2" cy="388.7" r="2.45"/>
<circle cx="98.1" cy="393.3" r="2.45"/>
<circle cx="108.2" cy="393.8" r="2.45"/>
<circle cx="112.2" cy="395.3" r="2.45"/>
<circle cx="136.5" cy="382.2" r="2.45"/>
<circle cx="135.5" cy="390.7" r="2.45"/>
<circle cx="126.9" cy="394.8" r="2.45"/>
<circle cx="134.0" cy="379.1" r="2.45"/>
</g>
<g fill="#0a0ae6" stroke="#0808b0" stroke-width="0.5">
<circle cx="367.6" cy="185.2" r="2.45"/>
<circle cx="356.0" cy="263.9" r="2.45"/>
<circle cx="376.2" cy="263.9" r="2.45"/>
<circle cx="407.2" cy="253.2" r="2.45"/>
<circle cx="424.3" cy="273.6" r="2.45"/>
<circle cx="318.4" cy="293.2" r="2.45"/>
<circle cx="313.9" cy="299.7" r="2.45"/>
<circle cx="340.4" cy="300.9" r="2.45"/>
<circle cx="375.2" cy="302.7" r="2.45"/>
<circle cx="493.9" cy="297.7" r="2.45"/>
<circle cx="232.2" cy="192.9" r="2.45"/>
<circle cx="239.6" cy="275.0" r="2.45"/>
<circle cx="222.9" cy="321.0" r="2.45"/>
</g>
<g fill="#1e82f0" stroke="#1868c0" stroke-width="0.5">
<circle cx="392.5" cy="214.6" r="2.45"/>
<circle cx="360.0" cy="219.7" r="2.45"/>
<circle cx="357.0" cy="236.9" r="2.45"/>
<circle cx="344.8" cy="262.1" r="2.45"/>
<circle cx="330.8" cy="272.8" r="2.45"/>
<circle cx="371.7" cy="268.8" r="2.45"/>
<circle cx="354.4" cy="272.4" r="2.45"/>
<circle cx="363.7" cy="273.9" r="2.45"/>
<circle cx="325.5" cy="275.8" r="2.45"/>
<circle cx="341.9" cy="279.4" r="2.45"/>
<circle cx="351.3" cy="282.5" r="2.45"/>
<circle cx="369.3" cy="324.4" r="2.45"/>
<circle cx="240.5" cy="277.5" r="2.45"/>
</g>
<g fill="#f55a3c" stroke="#d04830" stroke-width="0.5">
<circle cx="393.3" cy="152.1" r="2.45"/>
<circle cx="385.8" cy="185.2" r="2.45"/>
<circle cx="335.8" cy="199.2" r="2.45"/>
<circle cx="365.7" cy="212.8" r="2.45"/>
<circle cx="325.7" cy="231.4" r="2.45"/>
<circle cx="356.2" cy="233.4" r="2.45"/>
<circle cx="398.5" cy="227.8" r="2.45"/>
<circle cx="387.9" cy="248.6" r="2.45"/>
<circle cx="397.7" cy="249.2" r="2.45"/>
<circle cx="367.7" cy="255.7" r="2.45"/>
<circle cx="393.7" cy="261.5" r="2.45"/>
<circle cx="342.6" cy="273.3" r="2.45"/>
<circle cx="429.0" cy="237.9" r="2.45"/>
<circle cx="478.1" cy="243.3" r="2.45"/>
<circle cx="480.8" cy="240.8" r="2.45"/>
<circle cx="497.7" cy="253.5" r="2.45"/>
<circle cx="504.7" cy="300.3" r="2.45"/>
<circle cx="525.3" cy="312.0" r="2.45"/>
<circle cx="408.5" cy="363.3" r="2.45"/>
<circle cx="294.3" cy="222.7" r="2.45"/>
</g>
<g fill="#ee0c0c" stroke="#c00a0a" stroke-width="0.5">
<circle cx="195.5" cy="26.4" r="2.45"/>
<circle cx="388.2" cy="89.4" r="2.45"/>
<circle cx="284.5" cy="137.5" r="2.45"/>
<circle cx="313.6" cy="129.4" r="2.45"/>
<circle cx="424.5" cy="139.7" r="2.45"/>
<circle cx="376.4" cy="149.7" r="2.45"/>
<circle cx="370.3" cy="154.8" r="2.45"/>
<circle cx="387.6" cy="160.6" r="2.45"/>
<circle cx="397.3" cy="159.1" r="2.45"/>
<circle cx="397.3" cy="176.4" r="2.45"/>
<circle cx="388.5" cy="195.2" r="2.45"/>
<circle cx="451.6" cy="181.0" r="2.45"/>
<circle cx="558.4" cy="192.0" r="2.45"/>
<circle cx="526.5" cy="213.0" r="2.45"/>
<circle cx="564.6" cy="255.2" r="2.45"/>
<circle cx="340.4" cy="230.4" r="2.45"/>
<circle cx="368.1" cy="230.0" r="2.45"/>
<circle cx="318.8" cy="252.0" r="2.45"/>
<circle cx="360.0" cy="264.3" r="2.45"/>
<circle cx="329.7" cy="267.5" r="2.45"/>
<circle cx="313.7" cy="276.3" r="2.45"/>
<circle cx="348.0" cy="276.3" r="2.45"/>
<circle cx="296.1" cy="241.5" r="2.45"/>
<circle cx="145.4" cy="292.4" r="2.45"/>
</g>
<g fill="#f5c814" stroke="#d8aa20" stroke-width="0.5">
<circle cx="95.2" cy="317.2" r="2.45"/>
<circle cx="109.6" cy="314.2" r="2.45"/>
<circle cx="113.0" cy="324.8" r="2.45"/>
<circle cx="93.9" cy="341.8" r="2.45"/>
<circle cx="111.8" cy="391.6" r="2.45"/>
<circle cx="192.2" cy="351.8" r="2.45"/>
<circle cx="210.2" cy="267.5" r="2.45"/>
<circle cx="252.6" cy="278.8" r="2.45"/>
<circle cx="216.9" cy="296.4" r="2.45"/>
<circle cx="212.2" cy="324.0" r="2.45"/>
<circle cx="239.5" cy="323.6" r="2.45"/>
<circle cx="269.7" cy="237.2" r="2.45"/>
<circle cx="293.5" cy="211.7" r="2.45"/>
<circle cx="331.3" cy="258.7" r="2.45"/>
<circle cx="366.3" cy="257.7" r="2.45"/>
<circle cx="301.0" cy="276.5" r="2.45"/>
<circle cx="296.5" cy="278.9" r="2.45"/>
<circle cx="336.1" cy="287.5" r="2.45"/>
<circle cx="320.0" cy="299.9" r="2.45"/>
<circle cx="321.0" cy="301.3" r="2.45"/>
<circle cx="348.3" cy="299.9" r="2.45"/>
<circle cx="362.4" cy="295.0" r="2.45"/>
<circle cx="339.0" cy="306.4" r="2.45"/>
<circle cx="293.3" cy="294.3" r="2.45"/>
<circle cx="291.9" cy="297.5" r="2.45"/>
<circle cx="288.1" cy="300.3" r="2.45"/>
<circle cx="287.7" cy="309.4" r="2.45"/>
<circle cx="289.7" cy="311.4" r="2.45"/>
<circle cx="295.8" cy="312.4" r="2.45"/>
<circle cx="300.2" cy="314.8" r="2.45"/>
<circle cx="282.0" cy="316.5" r="2.45"/>
<circle cx="284.0" cy="318.5" r="2.45"/>
<circle cx="281.0" cy="319.5" r="2.45"/>
<circle cx="330.5" cy="311.8" r="2.45"/>
<circle cx="312.7" cy="313.8" r="2.45"/>
<circle cx="318.0" cy="312.8" r="2.45"/>
<circle cx="308.3" cy="318.1" r="2.45"/>
<circle cx="310.3" cy="319.5" r="2.45"/>
<circle cx="315.0" cy="320.1" r="2.45"/>
<circle cx="320.4" cy="317.9" r="2.45"/>
<circle cx="321.8" cy="318.9" r="2.45"/>
<circle cx="301.2" cy="321.5" r="2.45"/>
<circle cx="303.8" cy="323.5" r="2.45"/>
<circle cx="299.8" cy="325.6" r="2.45"/>
<circle cx="357.8" cy="314.0" r="2.45"/>
<circle cx="360.8" cy="313.4" r="2.45"/>
<circle cx="362.8" cy="314.4" r="2.45"/>
<circle cx="321.4" cy="327.2" r="2.45"/>
<circle cx="312.3" cy="324.1" r="2.45"/>
<circle cx="289.7" cy="332.2" r="2.45"/>
<circle cx="282.0" cy="339.7" r="2.45"/>
<circle cx="281.0" cy="342.7" r="2.45"/>
<circle cx="313.9" cy="334.2" r="2.45"/>
<circle cx="311.3" cy="338.3" r="2.45"/>
<circle cx="301.2" cy="339.3" r="2.45"/>
<circle cx="293.7" cy="341.7" r="2.45"/>
<circle cx="293.7" cy="346.8" r="2.45"/>
<circle cx="333.5" cy="340.3" r="2.45"/>
<circle cx="320.4" cy="349.8" r="2.45"/>
<circle cx="273.8" cy="309.5" r="2.45"/>
<circle cx="268.8" cy="314.5" r="2.45"/>
<circle cx="270.8" cy="317.6" r="2.45"/>
<circle cx="269.8" cy="320.6" r="2.45"/>
<circle cx="279.9" cy="315.6" r="2.45"/>
<circle cx="284.5" cy="317.6" r="2.45"/>
<circle cx="278.9" cy="318.6" r="2.45"/>
<circle cx="282.9" cy="319.6" r="2.45"/>
<circle cx="255.7" cy="321.6" r="2.45"/>
<circle cx="257.7" cy="324.2" r="2.45"/>
<circle cx="269.8" cy="326.3" r="2.45"/>
<circle cx="261.7" cy="330.7" r="2.45"/>
<circle cx="273.8" cy="332.7" r="2.45"/>
<circle cx="272.8" cy="334.7" r="2.45"/>
<circle cx="280.9" cy="335.8" r="2.45"/>
<circle cx="281.9" cy="333.7" r="2.45"/>
<circle cx="260.7" cy="335.2" r="2.45"/>
<circle cx="258.7" cy="337.8" r="2.45"/>
<circle cx="254.6" cy="339.8" r="2.45"/>
<circle cx="254.2" cy="340.8" r="2.45"/>
<circle cx="280.9" cy="339.8" r="2.45"/>
<circle cx="281.3" cy="342.8" r="2.45"/>
<circle cx="209.2" cy="335.8" r="2.45"/>
<circle cx="215.3" cy="334.3" r="2.45"/>
<circle cx="223.3" cy="339.8" r="2.45"/>
<circle cx="220.3" cy="343.8" r="2.45"/>
<circle cx="221.3" cy="345.3" r="2.45"/>
<circle cx="230.8" cy="339.8" r="2.45"/>
<circle cx="245.0" cy="346.5" r="2.45"/>
<circle cx="266.8" cy="344.2" r="2.45"/>
<circle cx="236.9" cy="353.3" r="2.45"/>
<circle cx="242.5" cy="354.3" r="2.45"/>
<circle cx="294.3" cy="306.7" r="2.45"/>
<circle cx="458.4" cy="262.2" r="2.45"/>
</g>
<g fill="#fffa00" stroke="#e0d830" stroke-width="0.5">
<circle cx="119.1" cy="344.2" r="2.45"/>
<circle cx="111.3" cy="362.4" r="2.45"/>
<circle cx="128.4" cy="378.8" r="2.45"/>
<circle cx="152.6" cy="397.9" r="2.45"/>
<circle cx="137.8" cy="402.4" r="2.45"/>
<circle cx="334.5" cy="301.3" r="2.45"/>
<circle cx="281.6" cy="306.0" r="2.45"/>
<circle cx="294.1" cy="307.0" r="2.45"/>
<circle cx="312.3" cy="322.1" r="2.45"/>
<circle cx="295.2" cy="330.6" r="2.45"/>
<circle cx="281.6" cy="335.0" r="2.45"/>
<circle cx="334.1" cy="349.2" r="2.45"/>
<circle cx="348.3" cy="347.8" r="2.45"/>
<circle cx="344.0" cy="368.5" r="2.45"/>
<circle cx="274.8" cy="306.1" r="2.45"/>
<circle cx="245.6" cy="322.0" r="2.45"/>
<circle cx="256.7" cy="330.3" r="2.45"/>
<circle cx="266.8" cy="330.7" r="2.45"/>
<circle cx="269.8" cy="337.8" r="2.45"/>
<circle cx="219.9" cy="339.4" r="2.45"/>
<circle cx="242.1" cy="342.8" r="2.45"/>
<circle cx="260.3" cy="344.4" r="2.45"/>
<circle cx="267.8" cy="367.7" r="2.45"/>
<circle cx="288.6" cy="375.8" r="2.45"/>
<circle cx="219.3" cy="389.9" r="2.45"/>
<circle cx="329.5" cy="380.0" r="2.45"/>
</g>
<g stroke="#000" stroke-width="1.5" stroke-linecap="butt">
<line x1="314.8" y1="366.9" x2="514.8" y2="264.2"/>
<line x1="314.8" y1="376.0" x2="513.9" y2="389.1"/>
<line x1="324.6" y1="360.0" x2="324.6" y2="381.2"/>
<line x1="484.8" y1="258.4" x2="584.8" y2="370.3"/>
<line x1="495.2" y1="398.5" x2="594.8" y2="344.6"/>
</g>
<path d="M44.36 448.60v-4.30M44.36 1.20v4.30M54.37 448.60v-4.30M54.37 1.20v4.30M64.38 448.60v-4.30M64.38 1.20v4.30M74.38 448.60v-4.30M74.38 1.20v4.30M84.39 448.60v-4.30M84.39 1.20v4.30M94.40 448.60v-8.60M94.40 1.20v8.60M104.41 448.60v-4.30M104.41 1.20v4.30M114.42 448.60v-4.30M114.42 1.20v4.30M124.42 448.60v-4.30M124.42 1.20v4.30M134.43 448.60v-4.30M134.43 1.20v4.30M144.44 448.60v-4.30M144.44 1.20v4.30M154.45 448.60v-4.30M154.45 1.20v4.30M164.46 448.60v-4.30M164.46 1.20v4.30M174.46 448.60v-4.30M174.46 1.20v4.30M184.47 448.60v-4.30M184.47 1.20v4.30M194.48 448.60v-8.60M194.48 1.20v8.60M204.49 448.60v-4.30M204.49 1.20v4.30M214.50 448.60v-4.30M214.50 1.20v4.30M224.50 448.60v-4.30M224.50 1.20v4.30M234.51 448.60v-4.30M234.51 1.20v4.30M244.52 448.60v-4.30M244.52 1.20v4.30M254.53 448.60v-4.30M254.53 1.20v4.30M264.54 448.60v-4.30M264.54 1.20v4.30M274.54 448.60v-4.30M274.54 1.20v4.30M284.55 448.60v-4.30M284.55 1.20v4.30M294.56 448.60v-8.60M294.56 1.20v8.60M304.57 448.60v-4.30M304.57 1.20v4.30M314.58 448.60v-4.30M314.58 1.20v4.30M324.58 448.60v-4.30M324.58 1.20v4.30M334.59 448.60v-4.30M334.59 1.20v4.30M344.60 448.60v-4.30M344.60 1.20v4.30M354.61 448.60v-4.30M354.61 1.20v4.30M364.62 448.60v-4.30M364.62 1.20v4.30M374.62 448.60v-4.30M374.62 1.20v4.30M384.63 448.60v-4.30M384.63 1.20v4.30M394.64 448.60v-8.60M394.64 1.20v8.60M404.65 448.60v-4.30M404.65 1.20v4.30M414.66 448.60v-4.30M414.66 1.20v4.30M424.66 448.60v-4.30M424.66 1.20v4.30M434.67 448.60v-4.30M434.67 1.20v4.30M444.68 448.60v-4.30M444.68 1.20v4.30M454.69 448.60v-4.30M454.69 1.20v4.30M464.70 448.60v-4.30M464.70 1.20v4.30M474.70 448.60v-4.30M474.70 1.20v4.30M484.71 448.60v-4.30M484.71 1.20v4.30M494.72 448.60v-8.60M494.72 1.20v8.60M504.73 448.60v-4.30M504.73 1.20v4.30M514.74 448.60v-4.30M514.74 1.20v4.30M524.74 448.60v-4.30M524.74 1.20v4.30M534.75 448.60v-4.30M534.75 1.20v4.30M544.76 448.60v-4.30M544.76 1.20v4.30M554.77 448.60v-4.30M554.77 1.20v4.30M564.78 448.60v-4.30M564.78 1.20v4.30M574.78 448.60v-4.30M574.78 1.20v4.30M584.79 448.60v-4.30M584.79 1.20v4.30M594.80 448.60v-8.60M594.80 1.20v8.60M44.36 448.62h5.30M594.80 448.62h-5.30M44.36 437.44h5.30M594.80 437.44h-5.30M44.36 426.25h5.30M594.80 426.25h-5.30M44.36 415.07h5.30M594.80 415.07h-5.30M44.36 403.88h5.30M594.80 403.88h-5.30M44.36 392.70h10.30M594.80 392.70h-10.30M44.36 381.51h5.30M594.80 381.51h-5.30M44.36 370.33h5.30M594.80 370.33h-5.30M44.36 359.14h5.30M594.80 359.14h-5.30M44.36 347.96h5.30M594.80 347.96h-5.30M44.36 336.77h5.30M594.80 336.77h-5.30M44.36 325.59h5.30M594.80 325.59h-5.30M44.36 314.40h5.30M594.80 314.40h-5.30M44.36 303.22h5.30M594.80 303.22h-5.30M44.36 292.03h5.30M594.80 292.03h-5.30M44.36 280.85h10.30M594.80 280.85h-10.30M44.36 269.66h5.30M594.80 269.66h-5.30M44.36 258.48h5.30M594.80 258.48h-5.30M44.36 247.29h5.30M594.80 247.29h-5.30M44.36 236.11h5.30M594.80 236.11h-5.30M44.36 224.93h5.30M594.80 224.93h-5.30M44.36 213.74h5.30M594.80 213.74h-5.30M44.36 202.56h5.30M594.80 202.56h-5.30M44.36 191.37h5.30M594.80 191.37h-5.30M44.36 180.19h5.30M594.80 180.19h-5.30M44.36 169.00h10.30M594.80 169.00h-10.30M44.36 157.81h5.30M594.80 157.81h-5.30M44.36 146.63h5.30M594.80 146.63h-5.30M44.36 135.44h5.30M594.80 135.44h-5.30M44.36 124.26h5.30M594.80 124.26h-5.30M44.36 113.07h5.30M594.80 113.07h-5.30M44.36 101.89h5.30M594.80 101.89h-5.30M44.36 90.70h5.30M594.80 90.70h-5.30M44.36 79.52h5.30M594.80 79.52h-5.30M44.36 68.34h5.30M594.80 68.34h-5.30M44.36 57.15h10.30M594.80 57.15h-10.30M44.36 45.96h5.30M594.80 45.96h-5.30M44.36 34.78h5.30M594.80 34.78h-5.30M44.36 23.60h5.30M594.80 23.60h-5.30M44.36 12.41h5.30M594.80 12.41h-5.30M44.36 1.23h5.30M594.80 1.23h-5.30" stroke="#000" stroke-width="1.25" fill="none"/>
<rect x="44.36" y="1.20" width="550.44" height="447.40" fill="none" stroke="#000" stroke-width="1.7"/>
<g font-family="Liberation Sans, sans-serif" font-size="17.6" fill="#000" text-anchor="middle">
<text x="94.40" y="472.2">0</text>
<text x="194.48" y="472.2">1</text>
<text x="294.56" y="472.2">2</text>
<text x="394.64" y="472.2">3</text>
<text x="494.72" y="472.2">4</text>
<text x="594.80" y="472.2">5</text>
</g>
<g font-family="Liberation Sans, sans-serif" font-size="17.6" fill="#000" text-anchor="end">
<text x="39.3" y="399.30">0</text>
<text x="39.3" y="287.45">1</text>
<text x="39.3" y="175.60">2</text>
<text x="39.3" y="63.75">3</text>
</g>
<text font-family="Liberation Sans, sans-serif" font-size="17.6" x="319.5" y="490.8" text-anchor="middle" textLength="87" lengthAdjust="spacingAndGlyphs">[4.6] – [12]</text>
<text font-family="Liberation Sans, sans-serif" font-size="17.6" transform="translate(15.2 225.1) rotate(-90)" x="0" y="0" text-anchor="middle" textLength="91" lengthAdjust="spacingAndGlyphs">[3.4] – [4.6]</text>
</svg>
</body></html>
